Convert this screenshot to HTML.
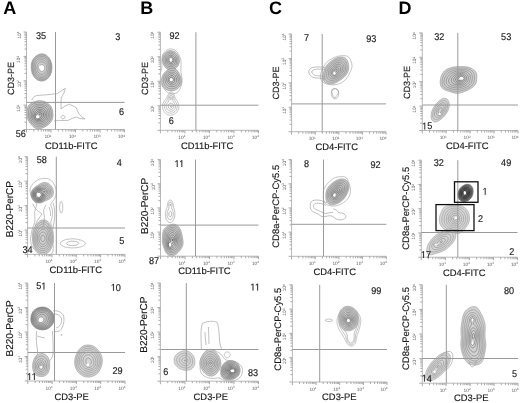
<!DOCTYPE html>
<html><head><meta charset="utf-8"><title>Figure</title>
<style>html,body{margin:0;padding:0;background:#fff;}svg{display:block;}text{font-family:"Liberation Sans",sans-serif;text-rendering:geometricPrecision;}</style>
</head><body>
<svg width="520" height="403" viewBox="0 0 520 403" font-family="Liberation Sans, sans-serif"><defs><filter id="gb" filterUnits="userSpaceOnUse" x="0" y="0" width="520" height="403"><feGaussianBlur stdDeviation="0.4"/></filter></defs><rect width="520" height="403" fill="#fff"/><g filter="url(#gb)"><text x="3.20" y="14.00" font-size="18" text-anchor="start" fill="#000" font-weight="bold" >A</text>
<text x="140.20" y="14.00" font-size="18" text-anchor="start" fill="#000" font-weight="bold" >B</text>
<text x="269.00" y="14.00" font-size="18" text-anchor="start" fill="#000" font-weight="bold" >C</text>
<text x="398.60" y="14.00" font-size="18" text-anchor="start" fill="#000" font-weight="bold" >D</text>
<defs><filter id="bl" x="-5%" y="-5%" width="110%" height="110%"><feGaussianBlur stdDeviation="0.25"/></filter></defs>
<g filter="url(#bl)">
<path d="M42 81L41.2 81L40.5 81L39.8 80.8L39 80.6L38.2 80.3L37.6 80L36.8 79.5L36.1 79L35.6 78.5L35 78L34.5 77.4L34 76.8L33.5 76L33.1 75.2L32.8 74.6L32.4 73.8L32.1 73L31.9 72.2L31.8 71.5L31.6 70.8L31.5 70L31.4 69.2L31.3 68.5L31.3 67.8L31.3 67L31.3 66.2L31.3 65.5L31.4 64.8L31.4 64L31.6 63.2L31.7 62.5L32 61.8L32.2 61L32.6 60.2L33 59.5L33.5 58.8L34 58.1L34.5 57.5L35 57L35.5 56.5L36.1 56L36.8 55.6L37.5 55.1L38.2 54.8L39 54.4L39.8 54.1L40.5 54L41.2 53.9L42 53.8L42.8 53.9L43.5 54L44.2 54.2L45 54.5L45.8 54.9L46.5 55.4L47.2 56L47.8 56.5L48.5 57.2L49 57.9L49.4 58.5L49.9 59.2L50.2 60L50.6 60.8L50.9 61.5L51.1 62.2L51.4 63L51.5 63.8L51.7 64.5L51.8 65.2L51.8 66L51.9 66.8L51.9 67.5L51.9 68.2L51.8 69L51.8 69.8L51.7 70.5L51.5 71.2L51.4 72L51.2 72.8L50.9 73.5L50.6 74.2L50.3 75L49.9 75.8L49.4 76.5L48.8 77.2L48.2 77.9L47.8 78.4L47.1 79L46.5 79.4L45.8 79.9L45 80.2L44.2 80.6L43.5 80.8L42.8 80.9Z" fill="rgb(205,205,205)" stroke="rgb(120,120,120)" stroke-width="0.6"/>
<path d="M42 80L41.2 80L40.5 79.9L39.8 79.8L39 79.6L38.3 79.2L37.5 78.8L36.8 78.3L36.1 77.8L35.6 77.2L35 76.5L34.5 75.8L34.1 75.2L33.8 74.6L33.3 73.8L33.1 73L32.8 72.2L32.6 71.5L32.5 70.8L32.3 70L32.3 69.2L32.2 68.5L32.1 67.8L32.1 67L32.1 66.2L32.2 65.5L32.2 64.8L32.3 64L32.5 63.2L32.7 62.5L32.9 61.8L33.2 61L33.6 60.2L34.1 59.5L34.7 58.8L35.2 58.1L35.9 57.5L36.5 57L37.2 56.5L38 56.1L38.6 55.8L39.5 55.4L40.2 55.2L41 55.1L41.8 55L42.5 55L43.2 55.1L44 55.3L44.8 55.6L45.5 56L46.2 56.5L46.8 57L47.4 57.5L48 58.2L48.5 58.8L48.9 59.5L49.4 60.2L49.8 61L50.1 61.8L50.4 62.5L50.6 63.2L50.7 64L50.9 64.8L51 65.5L51.1 66.2L51.1 67L51.1 67.8L51.1 68.5L51 69.2L50.9 70L50.8 70.8L50.7 71.5L50.5 72.2L50.2 73L49.9 73.8L49.6 74.5L49.2 75.2L48.8 75.9L48.3 76.5L47.8 77.1L47.2 77.6L46.5 78.2L45.8 78.8L45 79.2L44.3 79.5L43.5 79.8L42.8 79.9Z" fill="none" stroke="rgb(121,121,121)" stroke-width="0.6"/>
<path d="M43 78.8L42.2 78.9L41.5 78.9L40.8 78.9L40 78.7L39.3 78.5L38.5 78.1L37.8 77.8L37.2 77.3L36.6 76.8L36 76.1L35.5 75.5L35 74.8L34.6 74L34.2 73.4L33.9 72.5L33.7 71.8L33.5 71.1L33.3 70.2L33.2 69.5L33.1 68.8L33.1 68L33.1 67.2L33.1 66.5L33.1 65.8L33.2 65L33.3 64.2L33.4 63.5L33.7 62.8L33.9 62L34.2 61.4L34.8 60.5L35.2 59.8L35.8 59.3L36.2 58.8L36.8 58.2L37.5 57.8L38.2 57.3L38.9 57L39.8 56.7L40.5 56.5L41.2 56.4L42 56.3L42.8 56.4L43.5 56.6L44.2 56.8L45 57.2L45.8 57.7L46.5 58.2L47 58.8L47.5 59.3L48 59.9L48.5 60.7L48.9 61.5L49.2 62.2L49.5 62.9L49.8 63.7L49.9 64.5L50.1 65.2L50.2 66L50.2 66.8L50.2 67.5L50.2 68.2L50.2 69L50.1 69.8L50 70.5L49.8 71.2L49.6 72L49.3 72.8L49 73.5L48.6 74.2L48.2 74.9L47.8 75.5L47.2 76.2L46.8 76.7L46.1 77.2L45.5 77.7L44.8 78.1L44 78.5L43.2 78.7Z" fill="none" stroke="rgb(123,123,123)" stroke-width="0.6"/>
<path d="M42.8 77.5L42 77.6L41.2 77.7L40.5 77.6L39.8 77.3L39 77L38.2 76.6L37.5 76L37 75.5L36.5 74.9L36 74.3L35.5 73.5L35.2 72.8L34.9 72L34.7 71.2L34.5 70.5L34.3 69.8L34.2 69L34.2 68.2L34.1 67.5L34.1 66.8L34.2 66L34.3 65.2L34.4 64.5L34.6 63.8L34.8 63L35.2 62.2L35.6 61.5L36.2 60.8L36.8 60.1L37.4 59.5L38.2 59L39 58.5L39.7 58.2L40.5 58L41.2 57.9L42 57.9L42.8 58L43.5 58.1L44.2 58.4L44.9 58.8L45.5 59.1L46.2 59.8L46.7 60.2L47.2 60.9L47.7 61.5L48.1 62.2L48.4 63L48.7 63.8L48.9 64.5L49.1 65.2L49.2 66L49.3 66.8L49.3 67.5L49.3 68.2L49.2 69L49.1 69.8L49 70.5L48.8 71.2L48.5 72L48.2 72.7L47.8 73.5L47.4 74.2L46.8 75L46.2 75.6L45.5 76.2L44.8 76.7L44 77.1L43.2 77.4Z" fill="none" stroke="rgb(125,125,125)" stroke-width="0.6"/>
<path d="M42.8 76L42 76.2L41.2 76.2L40.5 76L39.8 75.8L39 75.4L38.2 74.8L37.7 74.2L37.1 73.5L36.6 72.8L36.3 72L36 71.3L35.8 70.5L35.6 69.8L35.5 69L35.4 68.2L35.4 67.5L35.4 66.8L35.5 66L35.6 65.2L35.8 64.5L36.1 63.8L36.4 63L36.9 62.2L37.5 61.6L38.2 61L38.8 60.6L39.5 60.2L40.2 59.9L41 59.7L41.8 59.7L42.5 59.7L43.2 59.9L44 60.1L44.7 60.5L45.4 61L45.9 61.5L46.5 62.2L47 62.9L47.4 63.8L47.7 64.5L47.9 65.2L48.1 66L48.1 66.8L48.2 67.5L48.2 68.2L48.1 69L48 69.8L47.8 70.5L47.6 71.2L47.3 72L46.9 72.8L46.4 73.5L45.8 74.2L45.2 74.8L44.5 75.2L43.8 75.7L43 76.0Z" fill="none" stroke="rgb(126,126,126)" stroke-width="0.6"/>
<path d="M42 74.3L41.2 74.3L40.5 74.1L39.8 73.8L39.1 73.2L38.6 72.8L38.1 72L37.7 71.2L37.4 70.5L37.2 69.8L37 69L36.9 68.2L36.9 67.5L37 66.8L37.1 66L37.3 65.2L37.7 64.5L38.2 63.8L38.8 63.1L39.5 62.5L40.2 62.1L41 61.9L41.8 61.8L42.5 61.8L43.2 62L44 62.3L44.6 62.8L45.2 63.2L45.8 64L46.2 64.8L46.5 65.5L46.7 66.2L46.8 67L46.8 67.8L46.8 68.5L46.7 69.2L46.5 70L46.2 70.8L45.8 71.5L45.3 72.2L44.8 72.9L44 73.5L43.2 73.9L42.5 74.2Z" fill="none" stroke="rgb(128,128,128)" stroke-width="0.6"/>
<path d="M42.5 71.3L41.8 71.4L41 71.3L40.2 70.8L39.8 70.2L39.4 69.5L39.1 68.8L38.9 68L38.9 67.2L39 66.5L39.4 65.8L40 65.3L40.8 64.9L41.5 64.7L42.2 64.7L43 64.9L43.8 65.4L44.2 66L44.5 66.8L44.7 67.5L44.7 68.2L44.5 69L44.3 69.8L43.8 70.5L43.2 71.0Z" fill="#fff" stroke="rgb(130,130,130)" stroke-width="0.6"/>
<ellipse cx="40" cy="67" rx="1.2" ry="1.6" fill="#fff"/>
<path d="M38.8 128.8L38 128.8L37.2 128.7L36.5 128.5L35.8 128.3L35 127.9L34.3 127.5L33.8 127.1L33.1 126.5L32.6 126L32 125.4L31.5 124.8L31 124.2L30.5 123.6L30 123L29.5 122.3L29 121.6L28.5 120.8L28.1 120L27.8 119.2L27.5 118.5L27.3 117.8L27.1 117L27 116.2L26.9 115.5L26.8 114.8L26.8 114L26.8 113.2L26.8 112.5L26.8 111.8L26.9 111L27 110.2L27.1 109.5L27.2 108.8L27.5 108L27.7 107.2L28.1 106.5L28.5 105.8L29 105.1L29.5 104.6L30.2 104L30.8 103.6L31.5 103.1L32.2 102.7L33 102.3L33.7 102L34.4 101.8L35.2 101.5L36 101.3L36.8 101.1L37.5 100.9L38.2 100.8L39 100.8L39.8 100.7L40.5 100.7L41.2 100.8L42 100.9L42.8 101.1L43.5 101.2L44.2 101.5L45 101.8L45.8 102.1L46.5 102.5L47.2 103L48 103.5L48.7 104L49.2 104.5L49.7 105L50.2 105.6L50.8 106.2L51.2 107L51.6 107.8L51.9 108.5L52.2 109.2L52.4 110L52.5 110.8L52.7 111.5L52.8 112.2L52.8 113L52.9 113.8L52.9 114.5L53 115.2L52.9 116L52.9 116.8L52.8 117.5L52.6 118.2L52.4 119L52.1 119.8L51.8 120.5L51.4 121.2L50.9 122L50.3 122.8L49.8 123.3L49.2 123.8L48.5 124.5L47.8 125L47.2 125.4L46.5 125.9L45.8 126.4L45 126.8L44.2 127.2L43.5 127.6L42.8 127.9L42 128.1L41.2 128.4L40.5 128.5L39.8 128.7L39 128.7Z" fill="rgb(200,200,200)" stroke="rgb(135,135,135)" stroke-width="0.6"/>
<path d="M40.5 126.8L39.8 126.9L39 126.9L38.2 126.9L37.5 126.8L36.8 126.7L36 126.4L35.2 126L34.5 125.5L33.8 125L33.2 124.5L32.7 124L32.2 123.5L31.8 122.9L31.2 122.3L30.8 121.6L30.3 121L29.9 120.2L29.5 119.5L29.2 118.8L28.9 118L28.7 117.2L28.6 116.5L28.5 115.8L28.4 115L28.4 114.2L28.4 113.5L28.4 112.8L28.5 112L28.6 111.2L28.7 110.5L28.8 109.8L29 109L29.3 108.2L29.6 107.5L30 106.8L30.4 106.2L31 105.6L31.7 105L32.4 104.5L33 104.1L33.7 103.8L34.5 103.4L35.2 103.2L36 102.9L36.8 102.8L37.5 102.6L38.2 102.5L39 102.5L39.8 102.5L40.5 102.5L41.2 102.6L42 102.7L42.8 102.9L43.5 103.1L44.2 103.3L45 103.6L45.8 104L46.5 104.4L47.1 104.8L47.8 105.2L48.3 105.8L48.8 106.2L49.4 107L49.9 107.8L50.2 108.4L50.6 109.2L50.8 110L51 110.8L51.1 111.5L51.2 112.2L51.3 113L51.3 113.8L51.4 114.5L51.4 115.2L51.3 116L51.3 116.8L51.2 117.5L51 118.2L50.8 119L50.4 119.8L50 120.5L49.6 121.2L49 122L48.5 122.5L47.8 123.2L47.1 123.8L46.5 124.2L45.8 124.7L45 125.1L44.3 125.5L43.5 125.9L42.8 126.2L42 126.4L41.2 126.6Z" fill="none" stroke="rgb(123,123,123)" stroke-width="0.6"/>
<path d="M40.8 125L40 125.1L39.2 125.2L38.5 125.1L37.8 125L37 124.8L36.2 124.6L35.6 124.2L34.8 123.8L34.1 123.2L33.5 122.8L33 122.2L32.5 121.7L32 121.1L31.5 120.3L31 119.5L30.7 118.8L30.4 118L30.2 117.2L30.1 116.5L30 115.8L29.9 115L29.9 114.2L29.9 113.5L30 112.8L30.1 112L30.2 111.2L30.4 110.5L30.6 109.8L30.9 109L31.2 108.4L31.6 107.8L32.2 107L32.7 106.5L33.2 106L34 105.5L34.8 105.1L35.5 104.8L36.2 104.6L37 104.4L37.8 104.3L38.5 104.2L39.2 104.1L40 104.2L40.8 104.2L41.5 104.3L42.2 104.5L43 104.6L43.8 104.9L44.5 105.2L45.2 105.5L46 105.9L46.8 106.5L47.3 107L48 107.7L48.5 108.5L48.9 109.2L49.2 110L49.4 110.8L49.5 111.5L49.7 112.2L49.7 113L49.8 113.8L49.8 114.5L49.8 115.2L49.8 116L49.7 116.8L49.6 117.5L49.4 118.2L49.1 119L48.8 119.7L48.3 120.5L47.8 121.2L47.2 121.7L46.7 122.2L46 122.8L45.3 123.2L44.5 123.7L43.8 124.1L43 124.4L42.2 124.7L41.5 124.9Z" fill="none" stroke="rgb(112,112,112)" stroke-width="0.6"/>
<path d="M39.5 123.5L38.8 123.5L38 123.4L37.3 123.2L36.5 123L35.8 122.6L35.1 122.2L34.5 121.8L33.8 121.2L33.2 120.6L32.8 120L32.3 119.2L32 118.6L31.8 117.9L31.5 117L31.4 116.2L31.3 115.5L31.3 114.8L31.4 114L31.5 113.2L31.6 112.5L31.8 111.8L32 111L32.2 110.4L32.7 109.5L33.1 108.8L33.8 108L34.3 107.5L35 107L35.8 106.6L36.5 106.3L37.2 106.1L38 105.9L38.8 105.8L39.5 105.8L40.2 105.8L41 105.9L41.8 106L42.5 106.2L43.2 106.5L44 106.8L44.8 107.1L45.5 107.6L46.2 108.2L46.8 108.9L47.1 109.5L47.5 110.2L47.8 110.9L48 111.8L48.1 112.5L48.2 113.2L48.3 114L48.3 114.8L48.3 115.5L48.2 116.2L48.1 117L47.9 117.8L47.6 118.5L47.3 119.2L46.8 120L46.2 120.6L45.6 121.2L45 121.7L44.2 122.2L43.6 122.5L42.8 122.9L42 123.1L41.2 123.3L40.5 123.4L39.8 123.5Z" fill="none" stroke="rgb(101,101,101)" stroke-width="0.6"/>
<path d="M40 122L39.2 122L38.5 122L37.8 121.9L37 121.7L36.2 121.4L35.5 121L34.8 120.5L34.3 120L33.8 119.3L33.3 118.5L33 117.8L32.8 117L32.7 116.2L32.6 115.5L32.7 114.8L32.8 114L32.9 113.2L33.1 112.5L33.4 111.8L33.8 111.1L34.2 110.2L34.8 109.6L35.2 109.1L36 108.5L36.8 108.1L37.5 107.8L38.2 107.6L39 107.5L39.8 107.5L40.5 107.5L41.2 107.6L42 107.8L42.8 108.1L43.5 108.4L44.2 108.9L44.9 109.5L45.5 110.2L46 111L46.2 111.7L46.5 112.5L46.6 113.2L46.7 114L46.8 114.8L46.8 115.5L46.7 116.2L46.5 117L46.2 117.7L45.9 118.5L45.4 119.2L44.8 119.9L44 120.5L43.2 121L42.5 121.4L41.8 121.6L41 121.8L40.2 122.0Z" fill="none" stroke="rgb(90,90,90)" stroke-width="0.6"/>
<path d="M40.5 120.5L39.8 120.7L39 120.7L38.2 120.7L37.5 120.6L36.8 120.4L36 120L35.4 119.5L34.8 118.8L34.3 118L34 117.2L33.9 116.5L33.8 115.8L33.9 115L34.1 114.2L34.3 113.5L34.6 112.8L35 112L35.5 111.3L36 110.7L36.8 110.1L37.5 109.6L38.2 109.3L39 109.2L39.8 109.1L40.5 109.2L41.2 109.3L42 109.5L42.8 109.9L43.5 110.5L44 111L44.5 111.8L44.8 112.5L45 113.2L45.2 114L45.2 114.8L45.2 115.5L45 116.2L44.8 117L44.5 117.7L44.1 118.2L43.5 118.9L42.8 119.5L42 120L41.3 120.2L40.6 120.5Z" fill="none" stroke="rgb(78,78,78)" stroke-width="0.6"/>
<path d="M39 119.5L38.2 119.6L37.5 119.5L36.8 119.2L36.1 118.8L35.5 118.1L35.1 117.2L35 116.5L35 115.8L35.1 115L35.4 114.2L35.8 113.6L36.2 112.8L36.7 112.2L37.2 111.8L37.9 111.2L38.8 110.9L39.5 110.7L40.2 110.7L41 110.9L41.8 111.2L42.4 111.8L43 112.5L43.4 113.2L43.6 114L43.6 114.8L43.6 115.5L43.3 116.2L43 117L42.5 117.6L42 118.1L41.2 118.7L40.5 119.1L39.8 119.4Z" fill="none" stroke="rgb(67,67,67)" stroke-width="0.6"/>
<path d="M39 118.3L38.2 118.5L37.5 118.4L36.8 118L36.3 117.5L36 116.8L36 116L36.3 115.2L36.8 114.6L37.2 114L37.8 113.4L38.4 112.8L39.2 112.3L40 112.2L40.8 112.4L41.5 113L41.9 113.8L42 114.5L41.9 115.2L41.6 116L41.1 116.8L40.5 117.3L39.8 117.9L39.1 118.2Z" fill="none" stroke="rgb(56,56,56)" stroke-width="0.6"/>
<path d="M39.8 114.8L39.5 114L40.2 113.8L40.2 114.5ZM38.2 117.4L37.5 117.4L37 116.8L37.2 116L38 115.5L38.8 115.6L38.9 116.5L38.5 117.2Z" fill="#fff" stroke="rgb(45,45,45)" stroke-width="0.6"/>
<ellipse cx="37.7" cy="116.7" rx="1.8" ry="1.8" fill="#fff"/>
<path d="M31.7 100.2C33 97 35 96 37.1 95.5L50 94.5L57.3 93.5L61 91L65.4 88.3L64 93L61.3 97.5L61 103L61 109L65 106L69.4 104.2L73 106L76.1 107.6L78.8 113.6L82 117L84.9 119L80 118.5L76.1 117L72 118.5L68 120.4L63 120.5L58.6 120.4L54 121" fill="none" stroke="rgb(150,150,150)" stroke-width="0.6"/>
<path d="M61 117C61 115 65 115 65 117C65 119.5 61 119.5 61 117Z" fill="none" stroke="rgb(150,150,150)" stroke-width="0.6"/>
<path d="M40.1 203L39.4 203L38.6 203L37.9 202.9L37.1 202.8L36.4 202.5L35.6 202.2L34.9 201.7L34.1 201.2L33.6 200.7L33.1 200.2L32.6 199.5L32.1 198.7L31.7 197.9L31.4 197.2L31.2 196.4L31 195.7L31 194.9L31 194.2L31 193.4L31.2 192.7L31.4 191.9L31.7 191.2L32 190.4L32.5 189.7L33.1 188.9L33.6 188.4L34.3 187.7L34.9 187.2L35.6 186.7L36.3 186.2L37.1 185.7L37.9 185.2L38.6 184.8L39.4 184.3L40.1 183.8L40.7 183.4L41.6 183.1L42.4 182.8L43.1 182.6L43.9 182.5L44.6 182.5L45.4 182.5L46.1 182.6L46.9 182.8L47.6 183.1L48.4 183.4L49.1 183.9L49.9 184.4L50.4 184.9L51.1 185.7L51.6 186.4L52.1 187.2L52.5 187.9L52.8 188.7L53 189.4L53.2 190.2L53.4 190.9L53.5 191.7L53.5 192.4L53.4 193.2L53.3 193.9L53.1 194.7L52.8 195.4L52.4 196.2L51.9 196.9L51.4 197.5L50.6 198.2L49.9 198.7L49.4 199.1L48.7 199.4L47.9 199.8L47.1 200.2L46.4 200.5L45.6 200.8L44.9 201.2L44.1 201.6L43.4 201.9L42.6 202.3L41.9 202.6L41.1 202.8L40.4 202.9Z" fill="rgb(210,210,210)" stroke="rgb(150,150,150)" stroke-width="0.6"/>
<path d="M39.6 202.5L38.9 202.5L38.1 202.4L37.4 202.3L36.6 202.1L35.9 201.7L35.1 201.3L34.4 200.7L33.8 200.2L33.1 199.4L32.6 198.7L32.2 197.9L31.9 197.2L31.7 196.4L31.6 195.7L31.5 194.9L31.5 194.2L31.6 193.4L31.7 192.7L31.9 191.9L32.3 191.2L32.6 190.6L33 189.9L33.6 189.2L34.1 188.7L34.6 188.2L35.3 187.7L36 187.2L36.9 186.7L37.6 186.4L38.4 186L39.1 185.7L39.9 185.3L40.6 185L41.4 184.6L42.1 184.4L42.9 184.1L43.6 184L44.4 183.9L45.1 183.9L45.9 184.1L46.6 184.2L47.4 184.5L48.1 184.9L48.8 185.4L49.4 185.9L50.1 186.7L50.6 187.4L51.1 188.2L51.4 188.9L51.7 189.7L51.9 190.4L52 191.2L52.1 191.9L52 192.7L51.9 193.4L51.7 194.2L51.4 194.9L51 195.7L50.4 196.4L49.9 197L49.1 197.6L48.4 198.1L47.6 198.6L46.9 198.9L46.1 199.4L45.4 199.9L44.6 200.4L43.9 200.9L43.1 201.3L42.4 201.7L41.6 202L40.9 202.2L40.1 202.4Z" fill="none" stroke="rgb(136,136,136)" stroke-width="0.6"/>
<path d="M40.6 201.7L39.9 201.9L39.1 201.9L38.4 201.9L37.6 201.8L36.9 201.6L36.1 201.3L35.4 200.8L34.6 200.3L34 199.7L33.4 198.9L32.9 198.2L32.6 197.5L32.4 196.8L32.1 195.9L32 195.2L32 194.4L32.1 193.7L32.2 192.9L32.4 192.2L32.7 191.4L33.1 190.8L33.5 190.2L34.1 189.5L34.6 189L35.3 188.4L35.9 188.1L36.5 187.7L37.1 187.4L37.9 187.1L38.6 186.8L39.4 186.6L40.1 186.4L40.8 186.2L41.6 186L42.4 185.7L43.1 185.6L43.9 185.5L44.6 185.4L45.4 185.5L46.1 185.7L46.9 185.9L47.6 186.3L48.4 186.9L48.9 187.4L49.5 188.2L49.9 188.9L50.3 189.7L50.5 190.4L50.6 191.2L50.6 191.9L50.6 192.7L50.4 193.4L50.1 194.2L49.7 194.9L49.2 195.7L48.6 196.3L47.9 196.9L47.1 197.4L46.4 197.9L45.9 198.4L45.2 198.9L44.7 199.4L44.1 199.9L43.4 200.4L42.6 200.9L41.9 201.3L41.1 201.6Z" fill="none" stroke="rgb(122,122,122)" stroke-width="0.6"/>
<path d="M40.1 201.2L39.4 201.3L38.6 201.3L37.9 201.3L37.1 201.1L36.4 200.8L35.6 200.3L34.9 199.8L34.4 199.3L33.9 198.7L33.4 197.9L33.1 197.3L32.9 196.6L32.6 195.7L32.6 194.9L32.6 194.2L32.7 193.4L32.9 192.7L33.1 192L33.5 191.2L34 190.4L34.6 189.8L35.3 189.2L36 188.7L36.6 188.3L37.4 188L38.1 187.8L38.9 187.6L39.6 187.4L40.4 187.3L41.1 187.3L41.9 187.2L42.6 187.1L43.4 187L44.1 186.9L44.9 187L45.6 187.1L46.4 187.4L47 187.7L47.6 188.2L48.1 188.7L48.6 189.4L49 190.2L49.2 190.9L49.2 191.7L49.2 192.4L49 193.2L48.7 193.9L48.2 194.7L47.6 195.3L47 195.9L46.4 196.4L45.9 197.1L45.4 197.6L44.9 198.2L44.4 198.7L43.9 199.2L43.3 199.7L42.6 200.2L41.9 200.6L41.1 200.9L40.4 201.2Z" fill="none" stroke="rgb(108,108,108)" stroke-width="0.6"/>
<path d="M39.4 200.7L38.6 200.7L37.9 200.6L37.1 200.4L36.4 200.1L35.7 199.7L35.1 199.2L34.6 198.6L34.1 198L33.7 197.2L33.4 196.4L33.2 195.7L33.2 194.9L33.2 194.2L33.3 193.4L33.5 192.7L33.8 191.9L34.3 191.2L34.9 190.5L35.4 189.9L36 189.4L36.9 189L37.6 188.7L38.3 188.4L39.1 188.3L39.9 188.3L40.6 188.3L41.4 188.3L42.1 188.3L42.9 188.4L43.6 188.4L44.4 188.4L45.1 188.5L45.8 188.7L46.6 189.2L47.1 189.7L47.6 190.4L47.8 191.2L47.8 191.9L47.7 192.7L47.4 193.4L46.9 194.1L46.4 194.7L45.9 195.3L45.4 195.9L44.9 196.7L44.4 197.4L43.9 198.2L43.4 198.7L42.9 199.2L42.2 199.7L41.4 200.2L40.6 200.4L39.9 200.6Z" fill="none" stroke="rgb(95,95,95)" stroke-width="0.6"/>
<path d="M39.9 200L39.1 200.1L38.4 200L37.6 199.9L36.9 199.6L36.2 199.2L35.6 198.8L35.1 198.2L34.6 197.5L34.2 196.7L34 195.9L33.8 195.2L33.8 194.4L33.9 193.7L34.1 193L34.4 192.2L34.9 191.5L35.3 190.9L35.8 190.4L36.5 189.9L37.4 189.5L38.1 189.3L38.9 189.1L39.6 189.1L40.4 189.2L41.1 189.3L41.8 189.4L42.6 189.6L43.4 189.7L44.1 189.8L44.9 189.8L45.6 190.1L46.2 190.7L46.5 191.4L46.4 192.2L46 192.9L45.6 193.5L45.1 194.2L44.7 194.9L44.4 195.7L44.1 196.4L43.6 197.2L43.1 197.9L42.6 198.4L42 198.9L41.4 199.4L40.6 199.8L39.9 199.9Z" fill="none" stroke="rgb(81,81,81)" stroke-width="0.6"/>
<path d="M39.6 199.2L38.9 199.3L38.1 199.2L37.4 199L36.6 198.6L35.9 198L35.4 197.3L35 196.7L34.7 195.9L34.6 195.2L34.6 194.4L34.7 193.7L34.9 192.9L35.3 192.2L35.9 191.5L36.4 190.9L37.1 190.5L37.9 190.2L38.6 190L39.4 190L40.1 190L40.9 190.2L41.6 190.5L42.4 190.9L43.1 191.4L43.9 191.8L44 192.7L43.9 193.4L43.8 194.2L43.6 194.9L43.4 195.7L43.1 196.4L42.7 197.2L42.1 197.9L41.4 198.4L40.6 198.9L39.9 199.2ZM45.1 191.7L44.4 191.7L45.1 191.3Z" fill="none" stroke="rgb(67,67,67)" stroke-width="0.6"/>
<path d="M39.9 198.3L39.1 198.4L38.4 198.3L37.6 198.1L36.9 197.7L36.4 197.2L35.9 196.5L35.6 195.7L35.4 194.9L35.5 194.2L35.7 193.4L36.1 192.7L36.6 192L37.4 191.5L38.1 191.1L38.9 191L39.6 191L40.4 191.2L41.1 191.6L41.8 192.2L42.3 192.9L42.5 193.7L42.6 194.4L42.5 195.2L42.3 195.9L41.9 196.7L41.4 197.4L40.6 197.9Z" fill="none" stroke="rgb(53,53,53)" stroke-width="0.6"/>
<path d="M39.9 197L39.1 197.2L38.4 197.1L37.6 196.7L37.1 196.2L36.7 195.4L36.6 194.7L36.8 193.9L37.1 193.3L37.6 192.8L38.4 192.4L39.1 192.3L39.9 192.4L40.6 192.9L41.1 193.7L41.3 194.4L41.2 195.2L40.9 195.9L40.4 196.6Z" fill="#fff" stroke="rgb(40,40,40)" stroke-width="0.6"/>
<ellipse cx="38.4" cy="194.8" rx="1.8" ry="2" fill="#fff"/>
<path d="M39.2 254.4L38.6 253.9L38.1 253.4L37.6 252.9L37.1 252.4L36.6 251.9L36.1 251.4L35.6 250.8L35.1 250.3L34.6 249.7L34.1 249.2L33.6 248.6L33.1 247.9L32.6 247.2L32.2 246.4L31.9 245.8L31.5 244.9L31.3 244.2L31.1 243.5L30.9 242.7L30.8 241.9L30.7 241.2L30.7 240.4L30.6 239.7L30.6 238.9L30.7 238.2L30.7 237.4L30.8 236.7L30.9 235.9L31 235.2L31.1 234.4L31.3 233.7L31.4 232.9L31.6 232.2L31.7 231.4L31.9 230.7L32.1 229.9L32.3 229.2L32.5 228.4L32.8 227.7L33 226.9L33.3 226.2L33.6 225.5L33.9 224.8L34.1 224.1L34.4 223.3L34.6 222.4L34.7 221.7L34.8 220.9L34.9 220.2L34.9 219.4L34.9 218.7L34.9 217.9L34.8 217.2L34.8 216.4L34.8 215.7L34.7 214.9L34.7 214.2L34.7 213.4L34.7 212.7L34.8 211.9L34.8 211.2L35 210.4L35.1 209.7L35.4 209L35.6 208.3L35.9 207.4L36.3 206.7L36.5 205.9L36.7 205.2L36.6 204.4L36.4 203.7L35.9 202.9L35.4 202.2L34.9 201.5L34.4 200.9L33.9 200.2L33.4 199.4L32.9 198.7L32.4 197.9L32 197.2L31.6 196.4L31.3 195.7L31 194.9L30.7 194.2L30.5 193.4L30.4 192.8L30.2 191.9L30.1 191.2L30.1 190.4L30.1 189.7L30.3 188.9L30.4 188.2L30.7 187.4L31 186.7L31.4 185.9L31.9 185.3L32.3 184.7L32.9 184L33.4 183.4L33.9 182.9L34.6 182.2L35.2 181.7L35.9 181.2L36.6 180.7L37.4 180.3L38 179.9L38.9 179.5L39.6 179.2L40.4 179L41.1 178.8L41.9 178.6L42.6 178.5L43.4 178.4L44.1 178.3L44.9 178.3L45.6 178.4L46.4 178.4L47.1 178.5L47.9 178.7L48.6 178.9L49.4 179.3L50.1 179.7L50.8 180.2L51.4 180.7L51.9 181.2L52.3 181.7L52.9 182.4L53.3 183.2L53.8 183.9L54.2 184.7L54.6 185.4L54.9 186.2L55.3 186.9L55.5 187.7L55.8 188.4L56 189.2L56.1 189.9L56.2 190.7L56.3 191.4L56.3 192.2L56.3 192.9L56.2 193.7L56.1 194.4L56 195.2L55.8 195.9L55.6 196.6L55.3 197.4L54.9 198.2L54.5 198.9L53.9 199.7L53.4 200.4L52.9 201.1L52.4 201.7L51.9 202.3L51.4 202.9L51 203.7L50.8 204.4L50.8 205.2L51 205.9L51.3 206.7L51.6 207.4L51.9 208.1L52.1 208.8L52.3 209.7L52.4 210.4L52.5 211.2L52.6 211.9L52.6 212.7L52.5 213.4L52.5 214.2L52.4 214.9L52.3 215.7L52.2 216.4L52.1 217.2L51.9 217.9L51.7 218.7L51.5 219.4L51.3 220.2L51.1 220.9L50.9 221.7L50.8 222.4L50.8 223.2L51 223.9L51.2 224.7L51.5 225.4L51.8 226.2L52.1 226.9L52.4 227.6L52.6 228.4L52.7 229.2L52.9 229.9L52.9 230.7L53 231.4L53 232.2L53 232.9L53 233.7L53 234.4L53 235.2L53 235.9L53.1 236.7L53.1 237.4L53.1 238.2L53.1 238.9L53.1 239.7L53.2 240.4L53.2 241.2L53.2 241.9L53.2 242.7L53.2 243.4L53.2 244.2L53.2 244.9L53.2 245.7L53.3 246.4L53.3 247.2L53.3 247.9L53.3 248.7L53.2 249.4L53.1 250.2L52.9 250.9L52.7 251.7L52.4 252.4L51.9 253.2L51.4 253.9L50.9 254.4L50.8 254.4" fill="none" stroke="rgb(150,150,150)" stroke-width="0.6"/>
<path d="M41.8 254.4L40.9 254.2L40.1 254L39.4 253.6L38.6 253.1L37.9 252.4L37.4 252L36.9 251.4L36.4 250.8L35.9 250.2L35.4 249.4L34.9 248.7L34.5 247.9L34.1 247.2L33.8 246.4L33.5 245.7L33.3 244.9L33.1 244.2L32.9 243.4L32.8 242.7L32.7 241.9L32.6 241.2L32.6 240.4L32.5 239.7L32.5 238.9L32.4 238.2L32.4 237.4L32.4 236.7L32.4 235.9L32.4 235.2L32.5 234.4L32.6 233.7L32.6 232.9L32.8 232.2L32.9 231.4L33.1 230.7L33.3 229.9L33.6 229.2L33.9 228.4L34.3 227.7L34.7 226.9L35.1 226.3L35.5 225.7L36 224.9L36.6 224.2L37.1 223.6L37.6 223L38.1 222.5L38.7 221.9L39.3 221.4L40 220.9L40.9 220.5L41.6 220.2L42.4 220.1L43.1 220L43.9 220L44.6 220.1L45.4 220.2L46.1 220.5L46.9 220.9L47.6 221.4L48.1 221.9L48.6 222.5L49.1 223.2L49.5 223.9L49.9 224.7L50.3 225.4L50.6 226.2L50.9 226.9L51.1 227.5L51.3 228.2L51.6 228.9L51.9 229.6L52.1 230.4L52.4 231.2L52.6 231.9L52.8 232.7L52.9 233.4L53.1 234.2L53.2 234.9L53.2 235.7L53.3 236.4L53.3 237.2L53.3 237.9L53.3 238.7L53.2 239.4L53.1 240.2L53.1 240.9L53 241.7L52.9 242.4L52.7 243.2L52.6 243.9L52.4 244.7L52.3 245.4L52.1 246.2L51.8 246.9L51.6 247.7L51.2 248.4L50.9 249.2L50.4 249.9L49.9 250.7L49.4 251.4L48.9 251.9L48.2 252.4L47.6 252.9L46.9 253.4L46.2 253.7L45.4 254.1L44.6 254.3L43.9 254.4L43.8 254.4" fill="rgb(210,210,210)" stroke="rgb(140,140,140)" stroke-width="0.6"/>
<path d="M44.1 252.5L43.4 252.6L42.6 252.6L41.9 252.5L41.1 252.4L40.4 252.1L39.6 251.7L38.9 251.2L38.3 250.7L37.7 250.2L37.1 249.5L36.6 248.8L36.2 248.2L35.7 247.4L35.4 246.8L35 245.9L34.7 245.2L34.4 244.4L34.2 243.7L34.1 242.9L33.9 242.2L33.8 241.4L33.7 240.7L33.7 239.9L33.6 239.2L33.6 238.4L33.6 237.7L33.6 236.9L33.6 236.2L33.6 235.4L33.7 234.7L33.8 233.9L33.9 233.2L34 232.4L34.2 231.7L34.5 230.9L34.7 230.2L35.1 229.4L35.4 228.7L35.8 227.9L36.3 227.2L36.8 226.4L37.3 225.7L37.9 225L38.3 224.4L38.9 223.9L39.6 223.2L40.3 222.7L41.1 222.2L41.9 222L42.6 221.8L43.4 221.7L44.1 221.8L44.8 221.9L45.5 222.2L46.1 222.5L46.9 223.1L47.4 223.6L47.9 224.2L48.4 224.9L48.8 225.7L49.2 226.4L49.5 227.2L49.9 227.9L50.2 228.7L50.5 229.4L50.8 230.2L51 230.9L51.3 231.7L51.5 232.4L51.7 233.2L51.8 233.9L52 234.7L52.1 235.4L52.1 236.2L52.2 236.9L52.2 237.7L52.2 238.4L52.1 239.2L52.1 239.9L52 240.7L51.9 241.4L51.7 242.2L51.6 242.9L51.4 243.7L51.2 244.4L51 245.2L50.8 245.9L50.5 246.7L50.2 247.4L49.8 248.2L49.4 248.9L48.9 249.4L48.4 250.1L47.7 250.7L47.1 251.2L46.4 251.7L45.6 252L44.9 252.3Z" fill="none" stroke="rgb(135,135,135)" stroke-width="0.6"/>
<path d="M42.9 250.7L42.1 250.6L41.4 250.5L40.6 250.2L39.9 249.8L39.1 249.3L38.4 248.7L37.9 248.1L37.4 247.4L36.9 246.7L36.4 245.9L36.1 245.3L35.8 244.4L35.5 243.7L35.3 242.9L35.2 242.2L35 241.4L34.9 240.7L34.9 239.9L34.8 239.2L34.8 238.4L34.8 237.7L34.8 236.9L34.8 236.2L34.9 235.4L35 234.7L35.1 233.9L35.3 233.2L35.5 232.4L35.7 231.7L36 230.9L36.4 230.3L36.8 229.4L37.2 228.7L37.7 227.9L38.2 227.2L38.8 226.4L39.4 225.9L39.9 225.4L40.6 224.8L41.4 224.3L42.1 224L42.9 223.8L43.6 223.8L44.4 224L45.1 224.3L45.8 224.7L46.3 225.2L46.9 225.8L47.4 226.4L47.9 227.2L48.3 227.9L48.6 228.6L49 229.4L49.3 230.2L49.6 230.9L49.9 231.7L50.2 232.4L50.4 233.2L50.6 233.9L50.7 234.7L50.9 235.4L51 236.2L51 236.9L51 237.7L51 238.4L51 239.2L50.9 239.9L50.8 240.7L50.7 241.4L50.5 242.2L50.4 242.9L50.1 243.7L49.9 244.4L49.6 245.2L49.3 245.9L48.9 246.7L48.4 247.4L47.9 248.2L47.4 248.8L46.6 249.4L45.9 249.9L45.2 250.2L44.5 250.4L43.9 250.6L43.1 250.7Z" fill="none" stroke="rgb(130,130,130)" stroke-width="0.6"/>
<path d="M43.4 248.7L42.6 248.7L41.9 248.6L41.1 248.4L40.4 248L39.6 247.5L39 246.9L38.4 246.2L37.9 245.5L37.4 244.7L37 243.9L36.8 243.2L36.6 242.4L36.4 241.7L36.2 240.9L36.1 240.2L36.1 239.4L36 238.7L36 237.9L36 237.2L36.1 236.4L36.2 235.7L36.3 234.9L36.4 234.2L36.7 233.4L36.9 232.7L37.3 231.9L37.6 231.3L38.1 230.5L38.6 229.7L39.1 229.1L39.6 228.5L40.1 227.9L40.6 227.4L41.3 226.9L42.1 226.6L42.9 226.4L43.6 226.4L44.4 226.6L45 226.9L45.7 227.4L46.4 228.2L46.9 228.8L47.3 229.4L47.7 230.2L48.1 230.9L48.4 231.7L48.7 232.4L49 233.2L49.2 233.9L49.4 234.7L49.6 235.4L49.7 236.2L49.7 236.9L49.8 237.7L49.8 238.4L49.8 239.2L49.7 239.9L49.6 240.7L49.4 241.4L49.2 242.2L49 242.9L48.7 243.7L48.4 244.4L48.1 245.1L47.7 245.7L47.2 246.4L46.6 247.1L45.9 247.7L45.1 248.2L44.4 248.5L43.6 248.7Z" fill="none" stroke="rgb(125,125,125)" stroke-width="0.6"/>
<path d="M44.1 246.5L43.4 246.6L42.6 246.7L41.9 246.5L41.1 246.3L40.4 245.8L39.7 245.2L39.1 244.5L38.6 243.7L38.2 242.9L38 242.2L37.7 241.4L37.6 240.8L37.5 239.9L37.4 239.2L37.4 238.4L37.4 237.7L37.4 236.9L37.5 236.2L37.6 235.4L37.8 234.7L38.1 233.9L38.4 233.2L38.8 232.4L39.4 231.7L39.9 231.1L40.4 230.6L41.1 229.9L41.9 229.5L42.6 229.3L43.4 229.2L44.1 229.4L44.9 229.8L45.6 230.4L46.1 231.1L46.5 231.7L47 232.4L47.3 233.2L47.6 233.9L47.9 234.6L48.1 235.4L48.2 236.2L48.4 236.9L48.4 237.7L48.4 238.4L48.4 239.2L48.3 239.9L48.2 240.7L48 241.4L47.8 242.2L47.5 242.9L47.1 243.7L46.6 244.4L46.1 245.1L45.5 245.7L44.9 246.1L44.1 246.4Z" fill="none" stroke="rgb(120,120,120)" stroke-width="0.6"/>
<path d="M43.9 244.2L43.1 244.4L42.4 244.4L41.6 244.1L40.9 243.7L40.4 243.2L39.9 242.4L39.5 241.7L39.3 240.9L39.1 240.2L38.9 239.4L38.9 238.7L38.9 237.9L38.9 237.2L39 236.4L39.2 235.7L39.5 234.9L39.9 234.3L40.4 233.5L40.9 233L41.6 232.4L42.4 232.1L43.1 232L43.8 232.2L44.6 232.7L45.1 233.2L45.6 233.8L46 234.4L46.3 235.2L46.5 235.9L46.7 236.7L46.8 237.4L46.9 238.2L46.9 238.9L46.8 239.7L46.7 240.4L46.5 241.2L46.1 241.9L45.7 242.7L45.1 243.4L44.4 243.9Z" fill="none" stroke="rgb(115,115,115)" stroke-width="0.6"/>
<path d="M43.4 241.5L42.6 241.6L41.9 241.2L41.4 240.5L41 239.7L40.9 239L40.8 238.2L40.9 237.4L41.1 236.7L41.5 235.9L42.1 235.3L42.9 235.1L43.6 235.3L44.3 235.9L44.7 236.7L44.9 237.4L45 238.2L45 238.9L44.8 239.7L44.5 240.4L43.9 241.2Z" fill="none" stroke="rgb(110,110,110)" stroke-width="0.6"/>
<path d="M61.4 213L60.7 212.7L60.3 211.9L60.1 211.3L59.9 210.4L59.8 209.7L59.7 208.9L59.7 208.2L59.6 207.4L59.6 206.7L59.7 205.9L59.7 205.2L59.8 204.4L60 203.7L60.2 202.9L60.5 202.2L61.1 201.5L61.8 201.9L62.1 202.7L62.3 203.4L62.5 204.2L62.6 204.9L62.7 205.7L62.7 206.4L62.7 207.2L62.7 207.9L62.7 208.7L62.6 209.4L62.5 210.2L62.3 210.9L62.1 211.7L61.9 212.4Z" fill="none" stroke="rgb(150,150,150)" stroke-width="0.6"/>
<path d="M75.6 247.7L74.8 247.8L74.1 247.8L73.3 247.9L72.6 247.9L71.8 247.9L71.1 247.9L70.3 247.8L69.6 247.7L68.8 247.7L68.1 247.6L67.4 247.4L66.6 247.3L65.8 247.1L65.1 247L64.3 246.7L63.6 246.5L62.9 246.2L62.1 245.8L61.4 245.3L60.8 244.7L60.4 243.9L60.4 243.2L60.7 242.4L61.4 241.7L62.1 241.2L62.9 240.7L63.6 240.4L64.3 240.1L65.1 239.8L65.8 239.6L66.6 239.4L67.3 239.3L68.1 239.2L68.8 239.1L69.6 239L70.3 238.9L71.1 238.9L71.8 238.8L72.6 238.8L73.3 238.8L74.1 238.9L74.8 238.9L75.6 239L76.3 239.1L77.1 239.2L77.8 239.3L78.6 239.5L79.3 239.7L80.1 239.9L80.8 240.1L81.6 240.4L82.3 240.7L83.1 241.1L83.8 241.4L84.3 241.9L84.8 242.4L85.3 243.2L85.3 243.9L84.8 244.7L84.3 245.2L83.6 245.7L82.8 246.1L82.1 246.4L81.3 246.7L80.6 246.9L79.8 247.1L79.1 247.3L78.3 247.4L77.6 247.5L76.8 247.6L76.1 247.7Z" fill="none" stroke="rgb(150,150,150)" stroke-width="0.6"/>
<path d="M74.1 245.5L73.3 245.5L72.6 245.6L71.8 245.6L71.1 245.5L70.3 245.4L69.6 245.3L68.8 245.2L68.2 244.9L67.3 244.6L66.6 243.9L66.4 243.2L66.8 242.6L67.6 242.1L68.3 241.8L69.1 241.6L69.8 241.4L70.6 241.3L71.3 241.2L72.1 241.2L72.8 241.2L73.6 241.2L74.3 241.3L75.1 241.4L75.8 241.5L76.6 241.7L77.3 242L78.1 242.4L78.6 242.9L78.7 243.7L78.1 244.3L77.4 244.7L76.7 244.9L75.8 245.2L75.1 245.3L74.3 245.4Z" fill="none" stroke="rgb(140,140,140)" stroke-width="0.6"/>
<path d="M33 204C35 210 40 212 42 214C40 217 37 220 35 226" fill="none" stroke="rgb(150,150,150)" stroke-width="0.6"/>
<path d="M46 205C44 208 43 211 44 214C45 218 44 222 43 226" fill="none" stroke="rgb(150,150,150)" stroke-width="0.6"/>
<path d="M53 203C55 208 55 214 54.5 219C54 222 53.5 225 53 228" fill="none" stroke="rgb(150,150,150)" stroke-width="0.6"/>
<path d="M49 207C50 210 51 213 50.5 216" fill="none" stroke="rgb(150,150,150)" stroke-width="0.6"/>
<path d="M43.5 329.8L42.8 329.8L42 329.8L41.3 329.7L40.5 329.7L39.8 329.5L39 329.3L38.3 329.1L37.5 328.9L36.8 328.5L36 328.1L35.4 327.8L34.8 327.3L34.2 326.8L33.7 326.2L33 325.6L32.5 324.9L32.2 324.2L31.8 323.5L31.5 322.8L31.2 322L31.1 321.2L30.9 320.5L30.9 319.8L30.9 319L30.9 318.2L31 317.5L31.1 316.8L31.2 316L31.4 315.2L31.6 314.5L31.9 313.8L32.3 313L32.7 312.2L33 311.6L33.5 311L34 310.4L34.8 309.8L35.4 309.2L36 308.9L36.7 308.5L37.5 308.1L38.3 307.8L39 307.6L39.8 307.4L40.5 307.3L41.3 307.2L42 307.1L42.8 307.1L43.5 307.2L44.2 307.2L45 307.4L45.8 307.6L46.5 307.9L47.3 308.2L48 308.6L48.7 309L49.3 309.4L50 310L50.6 310.5L51.1 311L51.8 311.7L52.3 312.4L52.8 313L53.2 313.8L53.5 314.4L53.9 315.2L54.1 316L54.2 316.8L54.3 317.5L54.3 318.2L54.3 319L54.2 319.8L54 320.5L53.8 321.2L53.6 322L53.3 322.7L52.9 323.5L52.5 324.2L52 324.9L51.5 325.6L51 326.2L50.5 326.7L50 327.2L49.4 327.8L48.6 328.2L47.8 328.7L47.1 329L46.3 329.2L45.5 329.5L44.8 329.6L44 329.7Z" fill="rgb(200,200,200)" stroke="rgb(90,90,90)" stroke-width="0.6"/>
<path d="M43.3 329L42.5 329L41.8 329L41 328.9L40.3 328.8L39.5 328.7L38.8 328.5L38 328.2L37.3 327.9L36.6 327.5L35.8 327L35.1 326.5L34.6 326L34 325.5L33.5 324.9L33.1 324.2L32.7 323.5L32.3 322.8L32.1 322L31.9 321.2L31.7 320.5L31.7 319.8L31.6 319L31.7 318.2L31.7 317.5L31.9 316.8L32 316L32.2 315.2L32.5 314.5L32.8 313.8L33.1 313L33.5 312.3L34 311.6L34.5 311L35.1 310.5L35.7 310L36.5 309.5L37.3 309.1L38 308.8L38.7 308.5L39.5 308.3L40.3 308.1L41 308L41.8 307.9L42.5 307.9L43.3 307.9L44 308L44.8 308.2L45.5 308.4L46.3 308.7L47 309L47.8 309.4L48.5 309.9L49.3 310.5L49.9 311L50.4 311.5L51 312.2L51.5 312.8L52 313.5L52.5 314.2L52.8 315L53 315.8L53.2 316.5L53.3 317.2L53.4 318L53.4 318.8L53.3 319.5L53.1 320.2L52.9 321L52.7 321.8L52.4 322.5L52 323.2L51.6 324L51.1 324.8L50.5 325.4L50 326L49.5 326.5L48.9 327L48.3 327.4L47.5 327.9L46.8 328.2L46 328.5L45.3 328.7L44.5 328.9L43.8 329.0Z" fill="none" stroke="rgb(92,92,92)" stroke-width="0.6"/>
<path d="M44.3 328L43.5 328.1L42.8 328.2L42 328.2L41.3 328.1L40.5 328L39.8 327.9L39 327.7L38.3 327.4L37.5 327.1L36.8 326.6L36 326.1L35.3 325.5L34.8 325L34.3 324.4L33.8 323.8L33.4 323L33.1 322.2L32.8 321.5L32.6 320.8L32.5 320L32.5 319.2L32.5 318.5L32.5 317.8L32.7 317L32.8 316.3L33 315.5L33.3 314.8L33.5 314.1L34 313.2L34.4 312.5L35 311.8L35.5 311.3L36.2 310.8L36.8 310.3L37.5 309.9L38.3 309.6L39 309.3L39.8 309.1L40.5 308.9L41.3 308.8L42 308.8L42.8 308.8L43.5 308.9L44.3 309L45 309.2L45.8 309.4L46.5 309.7L47.3 310.1L48 310.6L48.8 311.2L49.4 311.8L50 312.4L50.5 313L51 313.8L51.5 314.5L51.8 315.2L52 316L52.2 316.8L52.3 317.5L52.3 318.2L52.3 319L52.2 319.8L52 320.5L51.8 321.2L51.5 322L51.1 322.8L50.8 323.4L50.4 324L49.8 324.8L49.3 325.4L48.8 325.9L48 326.5L47.3 327L46.5 327.4L45.8 327.7L45 327.9Z" fill="none" stroke="rgb(95,95,95)" stroke-width="0.6"/>
<path d="M43 327.3L42.3 327.3L41.5 327.3L40.8 327.2L40 327L39.3 326.8L38.5 326.5L37.8 326.2L37.1 325.8L36.4 325.2L35.8 324.8L35.3 324.2L34.8 323.5L34.3 322.8L33.9 322L33.7 321.2L33.5 320.5L33.4 319.8L33.4 319L33.4 318.2L33.5 317.5L33.6 316.8L33.8 316.1L34 315.3L34.4 314.5L34.8 313.8L35.3 313L35.8 312.4L36.5 311.8L37.2 311.2L37.8 310.9L38.5 310.5L39.3 310.3L40 310L40.8 309.9L41.5 309.8L42.3 309.8L43 309.8L43.8 309.9L44.5 310.1L45.3 310.3L46 310.6L46.8 311L47.5 311.5L48.2 312L48.7 312.5L49.3 313.2L49.7 313.8L50.2 314.5L50.5 315.2L50.9 316L51 316.8L51.2 317.5L51.2 318.2L51.1 319L51 319.8L50.9 320.5L50.6 321.2L50.3 322L49.9 322.8L49.4 323.5L48.9 324.2L48.3 324.9L47.6 325.5L46.9 326L46.3 326.4L45.5 326.7L44.8 327L44 327.1L43.3 327.2Z" fill="none" stroke="rgb(98,98,98)" stroke-width="0.6"/>
<path d="M42.8 326.3L42 326.3L41.3 326.2L40.5 326.1L39.8 326L39.1 325.8L38.3 325.4L37.6 325L37 324.6L36.4 324L35.8 323.3L35.3 322.5L34.9 321.8L34.6 321L34.5 320.2L34.4 319.5L34.4 318.8L34.4 318L34.6 317.2L34.7 316.5L35 315.8L35.3 315.1L35.8 314.2L36.3 313.5L36.8 313L37.4 312.5L38 312.1L38.8 311.7L39.5 311.4L40.3 311.2L41 311L41.8 310.9L42.5 310.9L43.3 311L44 311.1L44.8 311.3L45.5 311.7L46.2 312L46.8 312.4L47.5 313L48 313.6L48.5 314.2L49 315L49.4 315.8L49.7 316.5L49.8 317.2L49.9 318L49.9 318.8L49.8 319.5L49.6 320.2L49.3 321L49 321.7L48.6 322.5L48.1 323.2L47.5 323.9L47 324.4L46.3 325L45.5 325.5L44.8 325.8L44 326L43.3 326.2Z" fill="none" stroke="rgb(101,101,101)" stroke-width="0.6"/>
<path d="M43 325L42.3 325.2L41.5 325.2L40.8 325.1L40.1 325L39.3 324.8L38.5 324.4L37.9 324L37.3 323.5L36.8 323L36.3 322.2L35.9 321.5L35.7 320.8L35.5 320L35.5 319.2L35.5 318.5L35.6 317.8L35.9 317L36.1 316.2L36.5 315.5L37 314.8L37.5 314.2L38.3 313.6L39 313.1L39.8 312.8L40.5 312.6L41.3 312.4L42 312.4L42.8 312.4L43.5 312.5L44.3 312.7L45 313L45.8 313.5L46.5 314L47 314.6L47.5 315.2L47.9 316L48.1 316.8L48.3 317.5L48.3 318.2L48.3 319L48.2 319.8L47.9 320.5L47.6 321.2L47.3 321.9L46.9 322.5L46.3 323.2L45.7 323.8L45 324.2L44.3 324.6L43.5 324.9Z" fill="none" stroke="rgb(104,104,104)" stroke-width="0.6"/>
<path d="M42.5 323.8L41.8 324L41 324L40.3 323.9L39.5 323.7L38.8 323.3L38.1 322.8L37.5 322.1L37.2 321.5L36.9 320.8L36.7 320L36.7 319.2L36.8 318.5L37 317.8L37.4 317L38 316.2L38.5 315.6L39.3 315.1L39.9 314.8L40.6 314.5L41.5 314.3L42.3 314.3L43 314.4L43.8 314.6L44.5 315L45.2 315.5L45.8 316.2L46.1 317L46.3 317.7L46.4 318.5L46.3 319.2L46.2 320L45.9 320.8L45.5 321.4L45 322.1L44.5 322.7L43.8 323.2L43 323.6Z" fill="none" stroke="rgb(107,107,107)" stroke-width="0.6"/>
<path d="M41 322.5L40.3 322.4L39.5 322.1L38.8 321.5L38.4 320.8L38.2 320L38.3 319.3L38.5 318.6L39 318L39.5 317.5L40.3 317.1L41 317L41.8 317L42.5 317.2L43.2 317.8L43.6 318.5L43.8 319.2L43.8 320L43.5 320.7L43.1 321.5L42.5 322L41.8 322.4Z" fill="#fff" stroke="rgb(110,110,110)" stroke-width="0.6"/>
<ellipse cx="40.6" cy="320.3" rx="1.8" ry="1.8" fill="#fff"/>
<path d="M42 376.5L41.3 376.5L40.5 376.5L39.8 376.4L39 376.3L38.3 376.1L37.5 375.8L36.8 375.5L36 375L35.4 374.5L34.8 373.9L34.3 373.2L33.9 372.5L33.5 371.8L33.3 371.1L33 370.3L32.9 369.5L32.7 368.8L32.6 368L32.6 367.2L32.6 366.5L32.6 365.8L32.6 365L32.7 364.2L32.8 363.5L32.9 362.8L33 362L33.3 361.2L33.5 360.5L33.8 359.8L34.1 359L34.5 358.2L35 357.5L35.5 356.8L36 356.2L36.5 355.7L37.3 355.1L38 354.6L38.7 354.2L39.5 353.9L40.3 353.8L41 353.6L41.8 353.6L42.5 353.6L43.3 353.8L44 354L44.8 354.2L45.5 354.7L46.3 355.2L46.9 355.8L47.5 356.5L48 357.2L48.3 357.9L48.6 358.8L48.9 359.5L49.1 360.2L49.3 361L49.4 361.8L49.5 362.5L49.6 363.2L49.7 364L49.7 364.8L49.7 365.5L49.7 366.2L49.7 367L49.6 367.8L49.5 368.5L49.4 369.2L49.2 370L49 370.8L48.7 371.5L48.4 372.2L48 372.9L47.5 373.7L47.1 374.2L46.5 374.8L45.9 375.2L45 375.7L44.3 376.1L43.5 376.3L42.8 376.4Z" fill="rgb(208,208,208)" stroke="rgb(145,145,145)" stroke-width="0.6"/>
<path d="M42.5 374.8L41.8 374.9L41 374.9L40.3 374.8L39.5 374.7L38.8 374.5L38.1 374.2L37.3 373.8L36.5 373.3L36 372.8L35.5 372.2L35.1 371.5L34.8 370.8L34.5 370L34.3 369.2L34.1 368.5L34 367.8L34 367L33.9 366.2L34 365.5L34 364.8L34.1 364L34.3 363.2L34.5 362.5L34.7 361.8L35 361L35.4 360.2L35.8 359.6L36.2 359L36.8 358.3L37.3 357.8L38 357.2L38.8 356.8L39.5 356.5L40.3 356.2L41 356.1L41.8 356.1L42.5 356.2L43.3 356.4L44 356.7L44.8 357.2L45.5 357.8L46 358.4L46.5 359L46.9 359.8L47.2 360.5L47.5 361.2L47.7 362L47.9 362.8L48 363.5L48.1 364.2L48.1 365L48.1 365.8L48.1 366.5L48.1 367.2L48 368L47.9 368.8L47.7 369.5L47.5 370.2L47.2 371L46.8 371.8L46.3 372.5L45.8 373.1L45 373.7L44.3 374.2L43.6 374.5L42.8 374.7Z" fill="none" stroke="rgb(136,136,136)" stroke-width="0.6"/>
<path d="M42.3 373.1L41.5 373.2L40.8 373.2L40 373.1L39.3 372.9L38.5 372.6L37.8 372.1L37.1 371.5L36.5 370.8L36.1 370L35.8 369.2L35.6 368.5L35.5 367.8L35.4 367L35.4 366.2L35.4 365.5L35.5 364.8L35.6 364L35.8 363.2L36.1 362.5L36.5 361.8L37 361L37.5 360.4L38.2 359.8L39 359.2L39.8 358.9L40.5 358.7L41.3 358.7L42 358.8L42.8 359L43.5 359.3L44.3 359.9L44.8 360.4L45.3 361.1L45.7 362L46 362.8L46.2 363.5L46.4 364.2L46.5 365L46.5 365.8L46.5 366.5L46.5 367.2L46.4 368L46.3 368.8L46 369.4L45.7 370.2L45.3 371L44.8 371.6L44.1 372.2L43.3 372.7L42.5 373.0Z" fill="none" stroke="rgb(127,127,127)" stroke-width="0.6"/>
<path d="M41.8 371.3L41 371.4L40.3 371.3L39.5 371.1L38.9 370.8L38.3 370.2L37.8 369.6L37.4 369L37.1 368.2L36.9 367.5L36.9 366.8L36.8 366L36.9 365.2L37.1 364.5L37.3 363.8L37.7 363L38.3 362.2L38.8 361.8L39.5 361.2L40.2 361L41 360.9L41.8 361L42.5 361.2L43.2 361.8L43.8 362.4L44.2 363L44.5 363.8L44.8 364.5L44.9 365.2L45 366L45 366.8L44.9 367.5L44.7 368.2L44.4 369L44 369.7L43.6 370.2L43 370.7L42.3 371.1Z" fill="none" stroke="rgb(118,118,118)" stroke-width="0.6"/>
<path d="M41.3 369.3L40.5 369.3L39.8 369L39.2 368.5L38.8 367.8L38.5 367.2L38.4 366.2L38.5 365.5L38.7 364.8L39 364L39.5 363.4L40.1 363L41 362.8L41.8 363L42.4 363.5L43 364.2L43.2 365L43.4 365.8L43.4 366.5L43.2 367.2L43 368L42.5 368.6L41.8 369.1Z" fill="none" stroke="rgb(109,109,109)" stroke-width="0.6"/>
<path d="M41.3 366.8L40.5 366.8L40.1 366L40.2 365.2L40.8 364.6L41.5 364.9L41.8 365.8L41.6 366.5Z" fill="none" stroke="rgb(100,100,100)" stroke-width="0.6"/>
<ellipse cx="41.2" cy="367" rx="1.2" ry="1.5" fill="#fff"/>
<path d="M89.3 377L88.5 377.1L87.8 377.1L87 377.1L86.3 377L85.5 376.8L84.8 376.6L84 376.3L83.3 376L82.5 375.7L81.8 375.2L81.1 374.8L80.4 374.2L79.8 373.8L79.2 373.2L78.7 372.8L78.1 372L77.5 371.3L77 370.6L76.6 369.8L76.2 369L75.9 368.2L75.6 367.5L75.4 366.8L75.2 366L75 365.2L74.9 364.5L74.8 363.8L74.7 363L74.7 362.2L74.7 361.5L74.7 360.8L74.8 360L74.9 359.2L75 358.5L75.2 357.8L75.4 357L75.7 356.2L75.9 355.5L76.2 354.8L76.5 354L76.9 353.2L77.2 352.5L77.5 351.9L77.9 351.2L78.3 350.6L78.7 350L79.3 349.3L79.8 348.7L80.3 348.2L81 347.5L81.8 347L82.5 346.5L83.3 346.1L84 345.8L84.8 345.5L85.5 345.3L86.3 345.1L87 345L87.8 345L88.5 345L89.3 345L90 345.1L90.8 345.3L91.5 345.5L92.3 345.7L93 346L93.8 346.4L94.5 346.8L95.1 347.2L95.8 347.8L96.4 348.2L96.9 348.8L97.5 349.5L98 350L98.5 350.7L99 351.2L99.5 352L100 352.8L100.5 353.5L100.8 354.2L101.2 355L101.5 355.8L101.7 356.5L101.9 357.2L102.1 358L102.2 358.8L102.3 359.5L102.3 360.2L102.3 361L102.3 361.8L102.2 362.5L102.1 363.2L101.9 364L101.8 364.8L101.6 365.5L101.3 366.2L101.1 367L100.8 367.7L100.5 368.5L100.1 369.2L99.8 369.9L99.4 370.8L98.9 371.5L98.3 372.2L97.8 372.9L97.3 373.4L96.6 374L96 374.5L95.3 374.9L94.5 375.4L93.8 375.7L93 376L92.3 376.3L91.5 376.6L90.8 376.8L90 376.9Z" fill="rgb(214,214,214)" stroke="rgb(140,140,140)" stroke-width="0.6"/>
<path d="M89.5 375L88.8 375.1L88 375.2L87.3 375.2L86.5 375.1L85.8 375L85 374.8L84.3 374.5L83.6 374.2L82.8 373.8L82 373.4L81.3 372.9L80.6 372.2L80 371.8L79.3 371L78.8 370.3L78.4 369.8L77.9 369L77.5 368.3L77.2 367.5L76.9 366.8L76.7 366L76.5 365.2L76.3 364.5L76.2 363.8L76.1 363L76.1 362.2L76.1 361.5L76.1 360.8L76.2 360L76.3 359.2L76.5 358.5L76.7 357.8L76.9 357L77.1 356.2L77.4 355.5L77.7 354.8L78 354L78.4 353.2L78.8 352.5L79.3 351.8L79.8 351L80.3 350.3L80.8 349.8L81.4 349.2L82 348.8L82.5 348.3L83.3 347.8L84 347.5L84.8 347.1L85.5 346.9L86.3 346.7L87 346.6L87.8 346.5L88.5 346.5L89.3 346.6L90 346.7L90.8 346.9L91.5 347.2L92.3 347.5L93 347.8L93.7 348.2L94.4 348.8L95 349.2L95.6 349.8L96.1 350.2L96.8 351L97.3 351.6L97.8 352.2L98.3 352.9L98.8 353.7L99.2 354.5L99.5 355.1L99.9 356L100.2 356.8L100.4 357.5L100.6 358.2L100.7 359L100.8 359.8L100.9 360.5L100.9 361.2L100.8 362L100.7 362.8L100.6 363.5L100.4 364.2L100.2 365L100 365.8L99.7 366.5L99.5 367.2L99.1 368L98.8 368.7L98.3 369.5L97.8 370.2L97.3 370.9L96.8 371.5L96.3 372L95.7 372.5L95 372.9L94.3 373.4L93.5 373.7L92.8 374.1L92 374.3L91.3 374.6L90.5 374.8L89.8 375.0Z" fill="none" stroke="rgb(137,137,137)" stroke-width="0.6"/>
<path d="M89.8 373L89 373.1L88.3 373.2L87.5 373.2L86.8 373.2L86 373.1L85.3 372.9L84.5 372.6L83.8 372.2L83 371.8L82.3 371.3L81.6 370.8L81.1 370.2L80.5 369.7L80 369.1L79.6 368.5L79.2 367.8L78.8 367.1L78.4 366.2L78.2 365.5L77.9 364.8L77.8 364L77.7 363.2L77.6 362.5L77.6 361.8L77.6 361L77.7 360.2L77.8 359.5L77.9 358.8L78.1 358L78.3 357.3L78.5 356.6L78.8 355.9L79.1 355.2L79.4 354.5L79.8 353.8L80.2 353L80.7 352.2L81.3 351.6L81.8 351L82.3 350.5L83 350L83.5 349.6L84.3 349.2L85 348.8L85.8 348.6L86.5 348.4L87.3 348.3L88 348.2L88.8 348.3L89.5 348.4L90.3 348.5L91 348.8L91.8 349.1L92.5 349.5L93.2 350L93.9 350.5L94.5 351L95 351.5L95.5 352.1L96 352.7L96.5 353.4L97 354L97.5 354.8L97.9 355.5L98.2 356.2L98.5 357L98.8 357.8L99 358.5L99.1 359.2L99.2 360L99.3 360.8L99.3 361.5L99.3 362.2L99.2 363L99 363.8L98.9 364.5L98.6 365.2L98.4 366L98.1 366.8L97.7 367.5L97.3 368.2L96.8 369L96.3 369.6L95.8 370.1L95.1 370.8L94.4 371.2L93.5 371.7L92.8 372.1L92 372.4L91.3 372.6L90.5 372.8L89.8 373.0Z" fill="none" stroke="rgb(135,135,135)" stroke-width="0.6"/>
<path d="M88.5 371.3L87.8 371.3L87 371.2L86.3 371L85.5 370.8L84.9 370.5L84 370.1L83.3 369.5L82.6 369L82.1 368.5L81.5 367.9L81.1 367.2L80.6 366.5L80.2 365.8L79.8 365L79.6 364.2L79.4 363.5L79.3 362.8L79.2 362L79.2 361.2L79.2 360.5L79.3 359.8L79.4 359L79.6 358.2L79.9 357.5L80.1 356.8L80.4 356L80.8 355.3L81.2 354.5L81.7 353.8L82.3 353L82.8 352.4L83.5 351.8L84.2 351.2L85 350.8L85.7 350.5L86.5 350.3L87.3 350.1L88 350.1L88.8 350.1L89.5 350.3L90.3 350.5L91 350.8L91.8 351.2L92.5 351.7L93.2 352.2L93.7 352.8L94.3 353.4L94.8 354L95.3 354.6L95.7 355.2L96.2 356L96.5 356.8L96.9 357.5L97.1 358.2L97.3 359L97.5 359.8L97.6 360.5L97.7 361.2L97.7 362L97.6 362.8L97.5 363.5L97.3 364.2L97.1 365L96.8 365.8L96.5 366.5L96.1 367.2L95.5 368L95.1 368.5L94.6 369L93.9 369.5L93.3 369.9L92.6 370.2L91.8 370.6L91 370.8L90.3 371L89.5 371.2L88.8 371.2Z" fill="none" stroke="rgb(132,132,132)" stroke-width="0.6"/>
<path d="M89.8 369.3L89 369.3L88.3 369.3L87.5 369.2L86.8 369.1L86 368.8L85.3 368.4L84.7 368L84.1 367.5L83.5 367L83.1 366.5L82.5 365.8L82.1 365.2L81.8 364.6L81.4 363.8L81.2 363L81 362.2L81 361.5L81 360.8L81 360L81.2 359.2L81.3 358.5L81.6 357.8L81.9 357L82.3 356.2L82.7 355.5L83.3 354.8L83.8 354.1L84.5 353.5L85.2 353L86 352.6L86.8 352.4L87.5 352.2L88.3 352.2L89 352.3L89.8 352.5L90.5 352.8L91.3 353.2L91.9 353.8L92.5 354.2L93 354.8L93.5 355.4L94 356.1L94.4 356.8L94.8 357.5L95.2 358.2L95.4 359L95.6 359.8L95.8 360.5L95.9 361.2L95.9 362L95.9 362.8L95.8 363.5L95.6 364.2L95.3 365L95 365.8L94.5 366.5L94 367.1L93.5 367.6L92.8 368.2L92 368.6L91.3 368.9L90.5 369.1Z" fill="none" stroke="rgb(130,130,130)" stroke-width="0.6"/>
<path d="M90 367.3L89.3 367.4L88.5 367.4L87.8 367.3L87 367.1L86.4 366.8L85.8 366.3L85.2 365.8L84.5 365L84 364.3L83.6 363.5L83.3 362.8L83.1 362L83 361.3L83 360.5L83.1 359.8L83.3 359L83.5 358.3L83.9 357.5L84.4 356.8L85 356.1L85.7 355.5L86.5 355L87.3 354.8L88 354.7L88.8 354.8L89.5 355L90.3 355.4L91 355.9L91.6 356.5L92.3 357.2L92.7 358L93.1 358.8L93.4 359.5L93.7 360.2L93.8 361L93.9 361.8L93.9 362.5L93.8 363.2L93.6 364L93.3 364.8L92.8 365.5L92.3 366.1L91.5 366.6L90.8 367L90.1 367.2Z" fill="none" stroke="rgb(127,127,127)" stroke-width="0.6"/>
<path d="M89 365.3L88.3 365.5L87.5 365.3L87 364.8L86.6 364L86.2 363.2L86 362.5L85.8 361.8L85.7 361L85.8 360.3L86 359.6L86.5 358.8L87.3 358.3L88 358.1L88.8 358.1L89.5 358.5L90.2 359L90.8 359.8L91.1 360.5L91.3 361.2L91.4 362L91.3 362.8L91 363.5L90.5 364.2L89.9 364.8L89.3 365.1Z" fill="none" stroke="rgb(125,125,125)" stroke-width="0.6"/>
<ellipse cx="87.9" cy="364.8" rx="1.5" ry="1.5" fill="#fff"/>
<path d="M36.5 331C36 338 36.5 345 37.5 350C38 353 37 356 35 359" fill="none" stroke="rgb(150,150,150)" stroke-width="0.6"/>
<path d="M52.5 331C53 340 53.5 348 53 354C52.5 358 50 360 49 362" fill="none" stroke="rgb(150,150,150)" stroke-width="0.6"/>
<path d="M37 336C40 337 43 337.5 45 338" fill="none" stroke="rgb(150,150,150)" stroke-width="0.6"/>
<path d="M53 311C57 310 62 312 63.7 316C64.5 321 63.5 327 60 330.5C58 332 55.5 332 53.5 331" fill="none" stroke="rgb(150,150,150)" stroke-width="0.6"/>
<path d="M55 314C58 314 61 316 61.5 319C62 323 60 327 56 328" fill="none" stroke="rgb(150,150,150)" stroke-width="0.6"/>
<path d="M61 335C61 334.3 62 334.3 62 335C62 335.7 61 335.7 61 335Z" fill="none" stroke="rgb(150,150,150)" stroke-width="0.6"/>
<path d="M160.4 73.6L160.6 72.7L160.7 72L160.9 71.2L161.2 70.5L161.4 69.7L161.6 69L161.7 68.2L161.8 67.5L161.9 66.7L161.9 66L161.9 65.2L161.9 64.5L161.9 63.7L161.9 63L161.8 62.2L161.8 61.5L161.8 60.7L161.8 60L161.8 59.2L161.9 58.5L162 57.7L162.1 57L162.3 56.2L162.5 55.5L162.8 54.7L163.2 54L163.6 53.2L164.2 52.5L164.6 52L165.2 51.4L165.9 50.7L166.6 50.2L167.4 49.7L168.2 49.4L168.9 49.1L169.7 49L170.4 48.9L171.2 48.9L171.9 49L172.7 49.1L173.4 49.4L174.1 49.7L174.9 50.2L175.6 50.7L176.2 51.2L176.8 51.7L177.4 52.4L177.9 53.1L178.3 53.7L178.8 54.5L179.2 55.2L179.5 56L179.8 56.7L180.1 57.5L180.3 58.2L180.5 59L180.7 59.7L180.8 60.5L180.9 61.2L181 62L181 62.7L181.1 63.5L181.1 64.2L181.1 65L181 65.7L181 66.5L180.9 67.2L180.9 68L180.8 68.7L180.8 69.5L180.8 70.2L180.9 71L180.9 71.7L181 72.5L181.1 73.2L181.2 74L181.4 74.7L181.5 75.5L181.6 76.2L181.8 77L181.9 77.7L182 78.5L182.1 79.2L182.1 80L182.1 80.7L182.1 81.5L182 82.2L181.9 83L181.7 83.7L181.5 84.5L181.3 85.2L181.1 86L180.8 86.7L180.6 87.5L180.3 88.2L179.9 89L179.5 89.7L179.2 90.3L178.7 91L178.2 91.6L177.5 92.2L176.7 92.7L175.9 93.1L175.2 93.4L174.4 93.6L173.7 93.7L172.9 93.8L172.2 93.8L171.4 93.7L170.7 93.6L170 93.5L169.2 93.2L168.4 92.9L167.7 92.5L166.9 92L166.3 91.5L165.7 90.8L165.2 90.2L164.7 89.5L164.2 89L163.7 88.2L163.2 87.5L162.7 86.7L162.2 86L161.7 85.2L161.3 84.5L161 83.7L160.7 83L160.5 82.2L160.4 81.5L160.4 81.4" fill="none" stroke="rgb(150,150,150)" stroke-width="0.6"/>
<path d="M172.9 88.2L172.2 88.3L171.4 88.2L170.7 88L169.9 87.7L169.2 87.3L168.4 86.7L167.8 86.2L167.3 85.7L166.7 85L166.2 84.3L165.7 83.5L165.2 82.7L164.9 82L164.7 81.2L164.6 80.5L164.5 79.7L164.4 79L164.5 78.2L164.5 77.5L164.6 76.7L164.8 76L165 75.2L165.3 74.5L165.7 73.7L166.1 73L166.6 72.2L167.2 71.5L167.7 70.8L168 70.2L168.2 69.5L168 68.7L167.7 68.1L167.2 67.5L166.7 66.7L166.3 66L166 65.2L165.7 64.5L165.4 63.7L165.3 63L165.1 62.2L165.1 61.5L165 60.7L165.1 60L165.1 59.2L165.3 58.5L165.5 57.7L165.8 57L166.2 56.2L166.7 55.5L167.1 55L167.7 54.5L168.4 54L169.2 53.6L169.9 53.4L170.7 53.3L171.4 53.3L172.1 53.5L172.9 53.7L173.7 54.1L174.4 54.6L175.1 55.2L175.7 55.8L176.1 56.5L176.5 57.2L176.9 57.9L177.2 58.6L177.4 59.5L177.5 60.2L177.6 61L177.7 61.7L177.6 62.5L177.6 63.2L177.4 63.9L177.2 64.7L176.8 65.5L176.4 66.2L175.9 67L175.4 67.6L174.9 68.3L174.5 69L174.4 69.7L174.7 70.4L175.1 71.2L175.7 71.9L176.1 72.7L176.6 73.5L176.9 74.1L177.3 75L177.6 75.7L177.8 76.5L178 77.2L178.1 78L178.2 78.7L178.3 79.5L178.3 80.2L178.2 81L178.1 81.7L177.9 82.5L177.7 83.2L177.4 83.9L177 84.7L176.7 85.3L176.2 86L175.7 86.6L175.1 87.2L174.4 87.7L173.7 88.0Z" fill="none" stroke="rgb(140,140,140)" stroke-width="0.6"/>
<path d="M172.7 69.7L171.9 69.8L171.2 69.9L170.4 69.8L169.7 69.7L168.9 69.5L168.2 69.3L167.5 69L166.7 68.5L166 68L165.4 67.5L164.9 66.8L164.4 66.2L164 65.5L163.7 64.8L163.3 64L163 63.2L162.8 62.5L162.7 61.7L162.5 61L162.4 60.2L162.4 59.5L162.5 58.7L162.6 58L162.7 57.2L162.9 56.5L163.2 55.7L163.6 55L164.1 54.2L164.7 53.5L165.1 53L165.7 52.5L166.3 52L167.2 51.5L167.9 51.1L168.7 50.9L169.4 50.7L170.2 50.6L170.9 50.6L171.6 50.7L172.4 50.9L173.2 51.1L173.9 51.4L174.7 51.8L175.4 52.3L176.2 52.9L176.7 53.4L177.1 54L177.7 54.7L178.1 55.5L178.4 56.1L178.7 57L179 57.7L179.2 58.4L179.3 59.2L179.4 60L179.4 60.7L179.4 61.5L179.3 62.2L179.2 62.9L178.9 63.7L178.7 64.4L178.3 65.2L177.9 65.9L177.5 66.5L176.9 67.2L176.4 67.7L175.9 68.2L175.2 68.7L174.4 69.1L173.7 69.5L172.9 69.7Z" fill="rgb(205,205,205)" stroke="rgb(130,130,130)" stroke-width="0.6"/>
<path d="M172.2 68.2L171.4 68.3L170.7 68.3L169.9 68.2L169.2 68L168.4 67.7L167.7 67.3L166.9 66.8L166.3 66.2L165.7 65.5L165.2 64.7L164.8 64L164.5 63.2L164.2 62.5L164 61.7L163.9 61L163.8 60.2L163.8 59.5L163.9 58.7L164 58L164.2 57.2L164.5 56.5L164.9 55.7L165.3 55L165.9 54.3L166.4 53.8L167.1 53.2L167.9 52.8L168.6 52.5L169.4 52.2L170.2 52.1L170.9 52.1L171.7 52.2L172.4 52.4L173.1 52.7L173.9 53.1L174.7 53.6L175.3 54.2L175.9 54.8L176.4 55.4L176.9 56.2L177.3 57L177.5 57.7L177.8 58.5L177.9 59.2L178 60L178.1 60.7L178 61.5L177.9 62.2L177.8 63L177.5 63.7L177.2 64.4L176.7 65.2L176.2 65.9L175.7 66.4L175.1 67L174.4 67.4L173.7 67.8L172.9 68.1Z" fill="none" stroke="rgb(117,117,117)" stroke-width="0.6"/>
<path d="M171.7 66.7L170.9 66.8L170.2 66.7L169.4 66.5L168.7 66.2L167.9 65.7L167.3 65.2L166.7 64.5L166.2 63.7L165.8 63L165.6 62.2L165.4 61.5L165.3 60.7L165.2 60L165.2 59.2L165.4 58.5L165.6 57.7L165.8 57L166.3 56.2L166.8 55.5L167.3 55L167.9 54.5L168.7 54.1L169.4 53.8L170.1 53.7L170.9 53.7L171.7 53.8L172.4 54L173.2 54.4L173.9 54.8L174.6 55.5L175.2 56.1L175.6 56.7L176 57.5L176.3 58.2L176.5 59L176.7 59.7L176.7 60.5L176.7 61.2L176.6 62L176.4 62.7L176.1 63.5L175.7 64.2L175.2 64.9L174.7 65.4L173.9 65.9L173.2 66.3L172.4 66.6Z" fill="none" stroke="rgb(105,105,105)" stroke-width="0.6"/>
<path d="M171.4 65.2L170.7 65.2L169.9 65.1L169.2 64.7L168.4 64.2L167.9 63.7L167.4 63L167 62.2L166.7 61.5L166.6 60.7L166.6 60L166.6 59.2L166.8 58.5L167.1 57.7L167.5 57L168.2 56.2L168.9 55.7L169.7 55.4L170.4 55.2L171.2 55.2L171.9 55.4L172.6 55.7L173.4 56.2L173.9 56.7L174.4 57.3L174.8 58L175.1 58.7L175.3 59.5L175.4 60.2L175.4 61L175.3 61.7L175 62.5L174.7 63.2L174.2 63.8L173.5 64.5L172.7 64.9L171.9 65.1Z" fill="none" stroke="rgb(92,92,92)" stroke-width="0.6"/>
<path d="M171.2 63.7L170.4 63.6L169.7 63.4L168.9 62.8L168.5 62.2L168.1 61.5L167.9 60.7L167.9 60L168 59.2L168.2 58.5L168.7 57.8L169.2 57.3L169.9 56.8L170.7 56.7L171.4 56.7L172.2 57L172.8 57.5L173.4 58.2L173.8 59L174 59.7L174.1 60.5L174 61.2L173.7 62L173.2 62.7L172.7 63.2L171.9 63.6Z" fill="none" stroke="rgb(80,80,80)" stroke-width="0.6"/>
<path d="M171.4 62.2L170.7 62.2L170 62L169.5 61.5L169.2 60.7L169.1 60L169.3 59.2L169.8 58.5L170.7 58.1L171.4 58.1L172.2 58.6L172.6 59.2L172.8 60L172.8 60.7L172.5 61.5L171.9 62.0Z" fill="none" stroke="rgb(67,67,67)" stroke-width="0.6"/>
<path d="M171.4 60.8L170.7 60.9L170.2 60.2L170.5 59.5L171.4 59.5L171.7 60.2Z" fill="none" stroke="rgb(55,55,55)" stroke-width="0.6"/>
<ellipse cx="170.9" cy="59.9" rx="1.5" ry="1.8" fill="#fff"/>
<path d="M172.9 90.7L172.2 90.8L171.4 90.9L170.7 90.9L169.9 90.8L169.2 90.7L168.4 90.5L167.7 90.2L167 90L166.2 89.5L165.4 89L164.8 88.5L164.3 88L163.7 87.2L163.2 86.5L162.8 85.7L162.5 85L162.2 84.2L162 83.5L161.8 82.7L161.7 82L161.6 81.2L161.6 80.5L161.6 79.7L161.6 79L161.8 78.2L161.9 77.5L162.2 76.7L162.5 76L162.8 75.2L163.2 74.5L163.7 73.8L164.1 73.2L164.7 72.5L165.2 72L165.7 71.5L166.3 71L166.9 70.5L167.7 70L168.4 69.6L169.2 69.3L169.9 69L170.7 68.8L171.4 68.7L172.2 68.6L172.9 68.7L173.7 68.7L174.4 68.9L175.2 69.2L175.9 69.6L176.7 70.1L177.3 70.7L177.9 71.4L178.3 72L178.8 72.7L179.2 73.5L179.6 74.2L179.9 74.9L180.2 75.7L180.5 76.5L180.7 77.2L180.9 78L181.1 78.7L181.3 79.5L181.3 80.2L181.4 81L181.4 81.7L181.3 82.5L181.2 83.2L181 84L180.7 84.7L180.4 85.4L179.9 86.2L179.4 86.9L178.9 87.5L178.4 87.9L177.8 88.5L177.2 88.9L176.4 89.4L175.7 89.8L174.9 90.1L174.2 90.4L173.4 90.6Z" fill="rgb(205,205,205)" stroke="rgb(130,130,130)" stroke-width="0.6"/>
<path d="M172.7 88.7L171.9 88.8L171.2 88.8L170.4 88.8L169.7 88.7L168.9 88.5L168.2 88.2L167.4 87.8L166.7 87.3L166 86.7L165.4 86L165 85.5L164.5 84.7L164.2 84L163.8 83.2L163.6 82.5L163.4 81.7L163.3 81L163.2 80.2L163.3 79.5L163.3 78.7L163.5 78L163.7 77.2L164 76.5L164.3 75.7L164.7 75.1L165 74.5L165.6 73.7L166.2 73.1L166.9 72.5L167.5 72L168.2 71.5L168.8 71.2L169.7 70.8L170.4 70.6L171.2 70.5L171.9 70.4L172.7 70.4L173.4 70.5L174.2 70.7L174.9 71L175.6 71.5L176.3 72L176.7 72.5L177.3 73.2L177.8 74L178.2 74.6L178.5 75.2L178.8 76L179.1 76.7L179.3 77.5L179.5 78.2L179.7 79L179.8 79.7L179.9 80.5L179.9 81.2L179.9 82L179.8 82.7L179.6 83.5L179.3 84.2L178.9 84.8L178.5 85.5L177.9 86.1L177.2 86.7L176.7 87.1L175.9 87.6L175.2 88L174.4 88.3L173.7 88.5L172.9 88.7Z" fill="none" stroke="rgb(116,116,116)" stroke-width="0.6"/>
<path d="M172.9 86.7L172.2 86.8L171.4 86.8L170.7 86.7L169.9 86.6L169.2 86.3L168.4 86L167.7 85.5L167.2 85L166.7 84.4L166.2 83.7L165.8 83L165.4 82.2L165.2 81.5L165.1 80.7L165 80L165 79.2L165.1 78.5L165.2 77.7L165.5 77L165.8 76.2L166.2 75.6L166.6 75L167.2 74.3L167.8 73.7L168.4 73.2L169.2 72.8L169.9 72.5L170.7 72.2L171.4 72.1L172.2 72.1L172.9 72.2L173.7 72.4L174.4 72.7L175.1 73.2L175.6 73.7L176.2 74.3L176.6 75L177 75.7L177.4 76.5L177.6 77.2L177.9 78L178.1 78.7L178.2 79.5L178.3 80.2L178.3 81L178.3 81.7L178.1 82.5L177.8 83.2L177.4 84L176.9 84.6L176.2 85.2L175.7 85.6L174.9 86.1L174.2 86.4L173.4 86.6Z" fill="none" stroke="rgb(103,103,103)" stroke-width="0.6"/>
<path d="M171.7 85L170.9 84.9L170.2 84.7L169.4 84.3L168.7 83.8L168 83.2L167.5 82.5L167.2 81.8L166.9 81.1L166.7 80.2L166.6 79.5L166.7 78.7L166.8 78L167 77.2L167.4 76.5L167.9 75.8L168.4 75.2L169 74.7L169.7 74.3L170.4 74L171.2 73.9L171.9 73.8L172.7 73.9L173.4 74.2L174.2 74.7L174.7 75.2L175.3 76L175.7 76.7L176.1 77.5L176.3 78.2L176.5 79L176.6 79.7L176.6 80.5L176.5 81.2L176.3 82L175.9 82.7L175.4 83.4L174.8 84L174.2 84.3L173.4 84.7L172.7 84.9L171.9 84.9Z" fill="none" stroke="rgb(90,90,90)" stroke-width="0.6"/>
<path d="M171.9 83.2L171.2 83.2L170.4 83L169.7 82.6L169 82L168.5 81.2L168.3 80.5L168.2 79.7L168.2 79L168.3 78.2L168.6 77.5L169.1 76.7L169.6 76.2L170.4 75.8L171.2 75.6L171.9 75.6L172.7 75.8L173.3 76.2L173.8 76.7L174.3 77.5L174.6 78.2L174.8 79L174.9 79.7L174.8 80.5L174.6 81.2L174.2 81.9L173.7 82.5L172.9 83L172.2 83.2Z" fill="none" stroke="rgb(76,76,76)" stroke-width="0.6"/>
<path d="M171.7 81.7L170.9 81.7L170.2 81.2L169.7 80.5L169.5 79.7L169.5 79L169.8 78.2L170.4 77.6L171.2 77.3L171.9 77.4L172.7 77.9L173.1 78.7L173.3 79.5L173.2 80.2L172.9 80.9L172.4 81.4Z" fill="none" stroke="rgb(63,63,63)" stroke-width="0.6"/>
<path d="M171.7 80.3L170.9 80.3L170.6 79.5L171.2 78.8L171.8 79.2L171.9 80.0Z" fill="none" stroke="rgb(50,50,50)" stroke-width="0.6"/>
<ellipse cx="171.2" cy="79.7" rx="1.6" ry="1.8" fill="#fff"/>
<path d="M172.2 115L171.4 115.1L170.7 115.2L169.9 115.2L169.2 115.1L168.4 114.9L167.7 114.6L166.9 114.3L166.2 113.8L165.5 113.2L164.9 112.7L164.4 112.1L164 111.5L163.5 110.7L163.2 110L162.9 109.2L162.7 108.5L162.5 107.7L162.5 107L162.5 106.2L162.5 105.5L162.7 104.7L162.9 104L163.1 103.2L163.5 102.5L163.9 101.7L164.4 101L164.9 100.2L165.4 99.6L165.9 99L166.4 98.2L166.8 97.5L167.1 96.7L167.4 96L167.8 95.2L168.2 94.5L168.6 93.7L169.2 93.1L169.9 92.5L170.7 92.1L171.4 92.1L172.2 92.3L172.9 92.9L173.4 93.5L173.8 94.2L174.2 94.8L174.5 95.7L174.8 96.5L175 97.2L175.3 98L175.6 98.7L176.1 99.5L176.6 100.2L177.1 101L177.6 101.7L177.9 102.3L178.3 103.2L178.5 104L178.7 104.7L178.8 105.5L178.9 106.2L178.9 107L178.8 107.7L178.7 108.5L178.5 109.2L178.2 110L177.8 110.7L177.4 111.3L176.9 112L176.4 112.6L175.7 113.2L175.2 113.6L174.4 114.1L173.8 114.5L172.9 114.8Z" fill="none" stroke="rgb(160,160,160)" stroke-width="0.6"/>
<path d="M172.4 113L171.7 113.1L170.9 113.2L170.2 113.2L169.4 113L168.7 112.8L167.9 112.5L167.2 112L166.5 111.5L165.9 110.8L165.4 110.1L165.1 109.5L164.7 108.7L164.5 108L164.4 107.2L164.3 106.5L164.4 105.7L164.5 105L164.7 104.2L165 103.5L165.3 102.7L165.8 102L166.3 101.2L166.8 100.5L167.3 99.7L167.6 99L167.9 98.2L168.1 97.5L168.3 96.7L168.6 96L169 95.2L169.6 94.5L170.2 94L170.9 93.7L171.7 93.8L172.3 94.2L172.9 95L173.3 95.7L173.5 96.5L173.7 97.2L173.9 98L174.1 98.7L174.3 99.5L174.6 100.2L175 101L175.4 101.5L175.8 102.2L176.3 103L176.6 103.7L176.9 104.5L177.1 105.2L177.2 105.9L177.2 106.7L177.1 107.5L177 108.2L176.7 109L176.4 109.6L175.9 110.5L175.4 111.1L174.9 111.6L174.2 112.1L173.4 112.6L172.7 112.9Z" fill="none" stroke="rgb(153,153,153)" stroke-width="0.6"/>
<path d="M172.4 111L171.7 111.1L170.9 111.2L170.2 111.1L169.4 110.9L168.7 110.5L167.9 110L167.4 109.5L166.9 108.7L166.5 108L166.3 107.2L166.2 106.5L166.3 105.7L166.4 105L166.6 104.2L167 103.5L167.4 102.9L167.9 102.2L168.4 101.5L168.8 100.7L168.9 100L169 99.2L169 98.5L169.2 97.7L169.4 97L169.7 96.2L170.2 95.6L170.9 95.3L171.6 95.5L172.1 96L172.5 96.7L172.7 97.5L172.8 98.2L172.8 99L172.8 99.7L172.9 100.5L173.1 101.2L173.4 101.8L173.9 102.5L174.4 103.2L174.9 104L175.2 104.6L175.4 105.5L175.5 106.2L175.5 107L175.3 107.7L175.1 108.5L174.7 109.2L174.2 109.8L173.4 110.5L172.7 110.9Z" fill="none" stroke="rgb(147,147,147)" stroke-width="0.6"/>
<path d="M171.2 99.7L170.5 99.5L170.2 98.7L170.2 98L170.4 97.2L171.2 96.8L171.7 97.4L171.8 98.2L171.7 99L171.2 99.7ZM171.4 109.2L170.7 109.2L169.9 109L169.2 108.5L168.7 107.8L168.3 107L168.2 106.2L168.3 105.5L168.6 104.7L169.2 104L169.9 103.5L170.7 103.2L171.4 103.3L172.2 103.6L172.9 104.2L173.4 104.9L173.7 105.7L173.8 106.5L173.7 107.2L173.4 107.9L172.9 108.5L172.3 109L171.7 109.2Z" fill="none" stroke="rgb(141,141,141)" stroke-width="0.6"/>
<path d="M171.7 107.2L170.9 107.3L170.4 106.8L170.5 106L171.2 105.5L171.9 105.9L172.1 106.7Z" fill="none" stroke="rgb(135,135,135)" stroke-width="0.6"/>
<path d="M171 222.4L170.2 222.6L169.5 222.5L168.8 222.3L168.1 221.8L167.5 221.3L167 220.7L166.5 219.8L166.2 219.1L165.9 218.3L165.8 217.6L165.6 216.8L165.5 216.1L165.4 215.3L165.4 214.6L165.4 213.8L165.5 213.1L165.5 212.3L165.7 211.6L165.8 210.8L166 210.1L166.3 209.3L166.5 208.6L166.8 207.8L167 207.1L167.2 206.3L167.3 205.6L167.5 204.8L167.6 204.1L167.8 203.4L168 202.6L168.2 201.9L168.7 201.1L169.2 200.5L169.9 200.1L170.8 200.1L171.5 200.5L172 201.1L172.4 201.8L172.7 202.6L172.9 203.3L173 204.1L173.2 204.8L173.2 205.5L173.4 206.3L173.5 207.1L173.7 207.8L174 208.6L174.2 209.3L174.4 210.1L174.6 210.8L174.7 211.6L174.8 212.3L174.9 213.1L174.9 213.8L174.9 214.6L174.8 215.3L174.7 216.1L174.6 216.8L174.4 217.6L174.2 218.3L173.9 219.1L173.5 219.8L173.1 220.6L172.5 221.3L171.9 221.8L171.2 222.3Z" fill="none" stroke="rgb(150,150,150)" stroke-width="0.6"/>
<path d="M170.5 219.7L169.8 219.7L169 219.4L168.4 218.8L168 218.2L167.7 217.6L167.4 216.8L167.2 216.1L167.1 215.3L167.1 214.6L167.1 213.8L167.2 213.1L167.3 212.3L167.5 211.6L167.7 210.8L168.1 210.1L168.4 209.3L168.7 208.6L168.9 207.8L168.8 207.1L168.8 206.3L168.7 205.6L168.7 204.8L168.8 204.1L169 203.3L169.4 202.6L170 202.1L170.8 202.1L171.2 202.6L171.6 203.3L171.8 204.1L171.9 204.8L171.9 205.6L171.8 206.3L171.8 207.1L171.7 207.8L171.8 208.6L172.1 209.3L172.5 210.1L172.8 210.8L173 211.6L173.2 212.3L173.3 213.1L173.3 213.8L173.3 214.6L173.2 215.3L173.1 216.1L172.9 216.8L172.6 217.6L172.2 218.2L171.8 218.8L171.2 219.3Z" fill="none" stroke="rgb(145,145,145)" stroke-width="0.6"/>
<path d="M170.2 205.9L169.8 205.1L170 204.3L170.7 204.6L170.7 205.3ZM170.5 216.7L169.8 216.6L169.3 216.1L168.9 215.3L168.8 214.6L168.8 213.8L168.9 213.1L169.2 212.3L169.8 211.6L170.5 211.5L171.2 212.1L171.6 212.8L171.7 213.6L171.7 214.3L171.6 215.1L171.4 215.8L170.8 216.6Z" fill="none" stroke="rgb(140,140,140)" stroke-width="0.6"/>
<path d="M172.8 256.1L172 256.3L171.2 256.3L170.5 256.2L169.8 256L169 255.6L168.2 255.2L167.6 254.6L167.1 254.1L166.5 253.4L166 252.7L165.5 251.8L165.1 251.1L164.8 250.3L164.5 249.6L164.3 248.8L164 248.1L163.8 247.4L163.5 246.6L163.3 245.8L163 245.1L162.8 244.3L162.7 243.6L162.5 242.8L162.4 242.1L162.3 241.3L162.3 240.6L162.3 239.8L162.3 239.1L162.3 238.3L162.4 237.6L162.4 236.8L162.5 236.1L162.5 235.3L162.6 234.6L162.6 233.8L162.7 233.1L162.8 232.3L163 231.6L163.3 230.8L163.6 230.1L164 229.5L164.4 228.8L165 228.2L165.5 227.7L166.2 227.1L166.8 226.7L167.5 226.2L168.2 225.7L169 225.3L169.8 225L170.5 224.7L171.2 224.5L172 224.3L172.8 224.2L173.5 224.2L174.2 224.2L175 224.4L175.8 224.6L176.5 225L177.2 225.5L178 226.1L178.5 226.6L179 227.2L179.4 227.8L179.9 228.6L180.2 229.3L180.6 230.1L180.9 230.8L181.1 231.6L181.4 232.3L181.6 233.1L181.8 233.8L181.9 234.6L182.1 235.3L182.2 236.1L182.4 236.8L182.5 237.6L182.7 238.3L182.8 239.1L182.9 239.8L183 240.6L183.1 241.3L183.1 242.1L183.1 242.8L183.1 243.6L183 244.3L182.8 245.1L182.6 245.8L182.3 246.6L182 247.3L181.6 248.1L181.1 248.8L180.6 249.6L180 250.3L179.5 251L179 251.5L178.5 252L178 252.5L177.4 253.1L176.9 253.6L176.3 254.1L175.6 254.6L175 255L174.2 255.5L173.5 255.8L172.8 256.1Z" fill="rgb(205,205,205)" stroke="rgb(145,145,145)" stroke-width="0.6"/>
<path d="M172 254.6L171.2 254.6L170.5 254.6L169.8 254.3L169 253.9L168.2 253.4L167.8 252.9L167.2 252.3L166.8 251.6L166.3 250.8L166 250.2L165.6 249.3L165.3 248.6L165 247.8L164.8 247.1L164.5 246.3L164.3 245.6L164.1 244.8L163.9 244.1L163.8 243.3L163.6 242.6L163.5 241.8L163.5 241.1L163.5 240.3L163.5 239.6L163.5 238.8L163.6 238.1L163.6 237.3L163.7 236.6L163.7 235.8L163.8 235.1L163.9 234.3L164 233.6L164.1 232.8L164.3 232.1L164.6 231.3L164.9 230.6L165.4 229.8L166 229.1L166.5 228.6L167 228.1L167.7 227.6L168.5 227.1L169.2 226.7L170 226.4L170.8 226.2L171.5 226L172.2 225.9L173 225.8L173.8 225.9L174.5 226L175.2 226.2L176 226.6L176.8 227.1L177.3 227.6L178 228.3L178.5 229.1L178.9 229.8L179.2 230.5L179.6 231.3L179.9 232.1L180.1 232.8L180.3 233.6L180.5 234.3L180.7 235.1L180.9 235.8L181 236.6L181.2 237.3L181.3 238.1L181.4 238.8L181.5 239.6L181.6 240.3L181.7 241.1L181.8 241.8L181.8 242.6L181.8 243.3L181.7 244.1L181.5 244.8L181.3 245.6L181.1 246.3L180.8 247.1L180.3 247.8L179.8 248.6L179.3 249.3L178.8 250L178.2 250.6L177.8 251.1L177.2 251.6L176.6 252.1L176 252.6L175.4 253.1L174.8 253.5L174 253.9L173.2 254.3L172.5 254.5Z" fill="none" stroke="rgb(133,133,133)" stroke-width="0.6"/>
<path d="M172.2 252.9L171.5 253L170.8 253L170 252.8L169.2 252.4L168.5 251.8L168 251.3L167.5 250.6L167 249.8L166.6 249.1L166.3 248.3L166 247.6L165.8 246.9L165.5 246.1L165.3 245.3L165.1 244.6L165 243.8L164.8 243.1L164.7 242.3L164.7 241.6L164.7 240.8L164.7 240.1L164.7 239.3L164.7 238.6L164.8 237.8L164.9 237.1L164.9 236.3L165 235.6L165.1 234.8L165.2 234.1L165.4 233.3L165.6 232.6L165.9 231.8L166.2 231.1L166.7 230.3L167.2 229.8L168 229.1L168.7 228.6L169.5 228.2L170.2 227.9L171 227.6L171.8 227.5L172.5 227.4L173.2 227.4L174 227.5L174.8 227.8L175.4 228.1L176 228.5L176.6 229.1L177.2 229.8L177.7 230.6L178.1 231.3L178.4 232.1L178.7 232.8L179 233.6L179.2 234.3L179.4 235.1L179.6 235.8L179.8 236.6L179.9 237.3L180 238.1L180.1 238.8L180.2 239.6L180.3 240.3L180.4 241.1L180.4 241.8L180.4 242.6L180.4 243.3L180.3 244.1L180.1 244.8L179.9 245.6L179.6 246.3L179.3 247.1L178.8 247.8L178.3 248.6L177.8 249.3L177.2 249.8L176.7 250.3L176.1 250.8L175.5 251.3L174.8 251.8L174 252.2L173.2 252.6L172.5 252.8Z" fill="none" stroke="rgb(121,121,121)" stroke-width="0.6"/>
<path d="M171.8 251.4L171 251.4L170.3 251.3L169.6 251.1L169 250.7L168.4 250.1L167.8 249.3L167.4 248.6L167 247.8L166.8 247.1L166.5 246.3L166.3 245.6L166.1 244.8L166 244.1L165.9 243.3L165.8 242.6L165.8 241.8L165.8 241.1L165.8 240.3L165.8 239.6L165.9 238.8L166 238.1L166.1 237.3L166.2 236.6L166.3 235.8L166.4 235.1L166.6 234.3L166.7 233.6L167 232.9L167.3 232.1L167.8 231.5L168.2 230.8L168.8 230.4L169.5 229.8L170.2 229.4L171 229.2L171.8 229L172.5 229L173.2 229.1L174 229.3L174.7 229.6L175.2 230L175.9 230.6L176.5 231.3L176.9 232.1L177.2 232.8L177.6 233.6L177.9 234.3L178.1 235.1L178.3 235.8L178.5 236.6L178.6 237.3L178.8 238.1L178.9 238.8L178.9 239.6L179 240.3L179 241.1L179 241.8L179 242.6L178.9 243.3L178.8 244.1L178.7 244.8L178.4 245.6L178.1 246.3L177.8 247L177.3 247.6L176.8 248.3L176.2 248.8L175.7 249.3L175 249.8L174.3 250.3L173.5 250.8L172.8 251.1L172 251.3Z" fill="none" stroke="rgb(109,109,109)" stroke-width="0.6"/>
<path d="M171.5 249.9L170.8 250L170 249.9L169.2 249.5L168.6 248.8L168.1 248.1L167.8 247.4L167.4 246.6L167.2 245.8L167.1 245.1L166.9 244.3L166.9 243.6L166.8 242.8L166.8 242.1L166.8 241.3L166.9 240.6L167 239.8L167 239.1L167.1 238.3L167.2 237.6L167.4 236.8L167.5 236.1L167.7 235.3L167.9 234.6L168.2 233.8L168.5 233.1L169 232.4L169.5 231.8L170.1 231.3L170.8 231L171.5 230.8L172.2 230.7L173 230.8L173.8 231L174.5 231.5L175.1 232.1L175.7 232.8L176.2 233.6L176.5 234.3L176.8 235.1L177.1 235.8L177.2 236.6L177.4 237.3L177.5 238.1L177.6 238.8L177.7 239.6L177.7 240.3L177.7 241.1L177.7 241.8L177.6 242.6L177.5 243.3L177.3 244.1L177.1 244.8L176.8 245.6L176.4 246.3L175.8 247.1L175.2 247.7L174.5 248.3L173.8 248.8L173 249.3L172.3 249.6Z" fill="none" stroke="rgb(97,97,97)" stroke-width="0.6"/>
<path d="M171 248.7L170.2 248.7L169.5 248.5L168.9 247.8L168.4 247.1L168.1 246.3L167.9 245.6L167.8 244.8L167.7 244.1L167.7 243.3L167.7 242.6L167.8 241.8L167.9 241.1L168 240.3L168.1 239.6L168.2 238.9L168.4 238.1L168.6 237.3L168.7 236.6L169 235.8L169.2 235.1L169.6 234.3L170.2 233.6L170.8 233.1L171.5 232.7L172.2 232.6L173 232.7L173.7 233.1L174.3 233.6L175 234.3L175.4 235.1L175.8 235.8L176 236.6L176.2 237.3L176.3 238.1L176.4 238.8L176.5 239.6L176.5 240.3L176.4 241.1L176.4 241.8L176.2 242.6L176 243.3L175.8 244.1L175.4 244.8L175 245.5L174.5 246L173.9 246.6L173.3 247.1L172.8 247.6L172.1 248.1L171.2 248.6Z" fill="none" stroke="rgb(85,85,85)" stroke-width="0.6"/>
<path d="M170.2 247.6L169.6 247.3L169 246.7L168.6 245.8L168.5 245.1L168.4 244.3L168.5 243.6L168.6 242.8L168.7 242.1L168.9 241.3L169.1 240.6L169.3 239.8L169.5 239.1L169.6 238.3L169.8 237.6L170.1 236.8L170.5 236.1L171 235.4L171.8 234.9L172.5 234.8L173.2 235L174 235.6L174.5 236.3L174.8 237.1L175.1 237.8L175.2 238.6L175.3 239.3L175.3 240.1L175.2 240.8L175.1 241.6L174.9 242.3L174.6 243.1L174.1 243.8L173.5 244.6L173 245.1L172.5 245.7L172 246.3L171.5 247L170.8 247.5Z" fill="none" stroke="rgb(73,73,73)" stroke-width="0.6"/>
<path d="M170.5 246.5L169.8 246.4L169.3 245.8L169.1 245.1L169.1 244.3L169.2 243.6L169.5 242.8L170 242.1L170.4 241.3L170.6 240.6L170.7 239.8L170.8 239.1L171.1 238.3L171.5 237.6L172.1 237.1L172.9 237.1L173.5 237.6L173.9 238.3L174.1 239.1L174.2 239.8L174.1 240.6L173.9 241.3L173.5 242.1L173 242.6L172.2 243.1L171.8 243.7L171.5 244.6L171.3 245.3L171 246.0Z" fill="none" stroke="rgb(61,61,61)" stroke-width="0.6"/>
<path d="M172.8 240.7L172.1 240.3L172.1 239.6L172.8 239.2L173.1 239.8L172.8 240.6ZM170.2 245.6L169.7 245.1L169.7 244.3L170.2 243.9L170.6 244.6L170.5 245.3Z" fill="none" stroke="rgb(50,50,50)" stroke-width="0.6"/>
<ellipse cx="170.1" cy="244.8" rx="1.3" ry="2" fill="#fff"/>
<path d="M187.2 370.3L186.4 370.3L185.7 370.3L184.9 370.2L184.2 370.1L183.4 370L182.7 369.8L181.9 369.6L181.2 369.3L180.4 369L179.7 368.6L179 368.2L178.4 367.8L177.7 367.3L177.1 366.8L176.4 366L175.9 365.4L175.4 364.8L175 364L174.7 363.2L174.4 362.5L174.2 361.8L174.1 361L174.1 360.2L174.1 359.5L174.2 358.8L174.4 358L174.6 357.2L174.9 356.6L175.4 355.8L175.9 355L176.4 354.5L176.9 354L177.5 353.5L178.2 353L178.9 352.6L179.7 352.1L180.4 351.8L181.2 351.4L181.9 351.2L182.7 351L183.4 350.8L184.2 350.8L184.9 350.7L185.7 350.8L186.4 350.9L187.2 351L187.9 351.2L188.6 351.5L189.4 351.9L190.2 352.4L190.9 353L191.5 353.5L192.1 354.2L192.7 354.9L193.1 355.5L193.5 356.2L193.9 357L194.2 357.7L194.4 358.5L194.6 359.2L194.8 360L194.9 360.8L194.9 361.5L194.9 362.2L194.9 363L194.7 363.8L194.6 364.5L194.3 365.2L194 366L193.6 366.8L193.2 367.3L192.7 367.9L192 368.5L191.4 368.9L190.7 369.4L189.9 369.7L189.2 369.9L188.4 370.1L187.7 370.2Z" fill="rgb(215,215,215)" stroke="rgb(155,155,155)" stroke-width="0.6"/>
<path d="M187.9 367.8L187.2 367.9L186.4 368L185.7 368L184.9 367.9L184.2 367.8L183.4 367.6L182.7 367.4L181.9 367.1L181.2 366.8L180.4 366.3L179.7 365.8L179 365.2L178.5 364.8L177.9 364L177.4 363.2L177.1 362.5L176.8 361.8L176.7 361L176.6 360.2L176.6 359.5L176.8 358.8L177 358L177.4 357.2L177.9 356.5L178.4 355.9L179.1 355.2L179.8 354.8L180.4 354.4L181.1 354L181.9 353.7L182.7 353.4L183.4 353.2L184.2 353.1L184.9 353.1L185.7 353.1L186.4 353.2L187.2 353.3L187.9 353.6L188.7 354L189.4 354.5L190 355L190.7 355.7L191.2 356.4L191.5 357L191.9 357.8L192.2 358.5L192.4 359.2L192.5 360L192.6 360.8L192.6 361.5L192.6 362.2L192.5 363L192.3 363.8L192 364.5L191.7 365.2L191.2 365.9L190.7 366.4L189.9 367L189.2 367.4L188.4 367.7Z" fill="none" stroke="rgb(148,148,148)" stroke-width="0.6"/>
<path d="M186.9 365.5L186.2 365.6L185.4 365.7L184.7 365.6L183.9 365.4L183.2 365.2L182.4 364.9L181.7 364.4L180.9 363.8L180.4 363.2L179.9 362.5L179.6 361.8L179.4 361L179.3 360.2L179.4 359.5L179.6 358.8L179.9 358.1L180.3 357.5L180.9 356.9L181.7 356.3L182.4 355.9L183.2 355.6L183.9 355.4L184.7 355.3L185.4 355.3L186.2 355.4L186.9 355.6L187.6 356L188.3 356.5L188.9 357L189.4 357.7L189.8 358.5L190.1 359.2L190.2 360L190.3 360.8L190.3 361.5L190.1 362.2L189.9 362.9L189.5 363.8L188.9 364.4L188.2 365L187.4 365.4Z" fill="none" stroke="rgb(142,142,142)" stroke-width="0.6"/>
<path d="M185.9 363.3L185.2 363.4L184.4 363.3L183.7 363.1L182.9 362.5L182.4 362L182 361.2L181.9 360.5L182 359.8L182.3 359L182.9 358.3L183.7 357.8L184.4 357.6L185.2 357.5L185.9 357.7L186.5 358L187.1 358.5L187.6 359.2L187.9 360L187.9 360.8L187.8 361.5L187.4 362.2L186.9 362.8L186.2 363.2Z" fill="none" stroke="rgb(136,136,136)" stroke-width="0.6"/>
<path d="M185.4 361L184.7 361.1L184.4 360.2L185.2 359.8L185.7 360.5Z" fill="none" stroke="rgb(130,130,130)" stroke-width="0.6"/>
<path d="M230.9 380.8L230.2 380.8L229.4 380.8L228.7 380.8L227.9 380.7L227.2 380.7L226.4 380.6L225.7 380.5L224.9 380.4L224.2 380.2L223.5 380L222.8 379.8L222.2 379.5L221.4 379.1L220.7 378.8L219.9 378.4L219.2 378.2L218.4 378L217.7 378L216.9 378L216.2 378.1L215.4 378.2L214.7 378.3L213.9 378.4L213.2 378.4L212.4 378.4L211.7 378.4L210.9 378.3L210.2 378.2L209.4 378L208.7 377.8L207.9 377.6L207.2 377.4L206.4 377.1L205.7 376.8L204.9 376.4L204.2 376L203.7 375.6L202.9 375L202.4 374.5L201.9 373.9L201.4 373.2L201 372.5L200.7 371.8L200.5 371L200.3 370.2L200.2 369.5L200.1 368.8L200.1 368L200.1 367.2L200 366.5L200 365.8L200 365L200 364.2L200 363.5L200 362.8L200.1 362L200.2 361.3L200.3 360.5L200.5 359.8L200.7 359L201 358.2L201.3 357.5L201.7 356.8L202.1 356L202.6 355.2L203.1 354.5L203.7 353.9L204.2 353.3L204.7 352.8L205.2 352.2L205.8 351.8L206.4 351.3L207.2 350.8L207.8 350.5L208.7 350.1L209.4 349.9L210.2 349.8L210.9 349.8L211.7 349.8L212.4 349.9L213.2 350.1L213.8 350.2L214.6 350.5L215.4 350.8L216.2 351.2L216.9 351.6L217.6 352L218.4 352.4L219.2 352.9L219.9 353.5L220.6 354L221.1 354.5L221.6 355L222.2 355.6L222.7 356.2L223.2 356.9L223.6 357.5L224.1 358.2L224.7 358.9L225.3 359.5L226.2 360L226.8 360.2L227.7 360.4L228.4 360.6L229.2 360.6L229.9 360.7L230.7 360.8L231.4 360.9L232.2 361L232.9 361.1L233.6 361.2L234.4 361.5L235.2 361.7L235.9 362L236.7 362.3L237.4 362.7L238.2 363.2L238.9 363.7L239.6 364.2L240.1 364.8L240.7 365.4L241.1 366L241.6 366.8L241.9 367.4L242.2 368.1L242.4 369L242.4 369.8L242.5 370.5L242.4 371.2L242.4 372L242.2 372.8L242.1 373.5L241.8 374.2L241.5 375L241.2 375.8L240.7 376.5L240.2 377.2L239.7 377.8L239.1 378.2L238.4 378.8L237.7 379.2L236.9 379.6L236.2 379.9L235.4 380.2L234.7 380.3L233.9 380.5L233.2 380.6L232.4 380.7L231.7 380.7Z" fill="none" stroke="rgb(150,150,150)" stroke-width="0.6"/>
<path d="M212.4 376L211.7 376.1L210.9 376.1L210.2 376L209.4 375.9L208.7 375.7L207.9 375.4L207.2 375L206.4 374.6L205.7 374L205 373.5L204.5 373L203.9 372.4L203.4 371.8L203 371.2L202.5 370.5L202 369.8L201.7 369.1L201.3 368.5L201 367.8L200.7 367L200.5 366.2L200.3 365.5L200.1 364.8L200 364L200 363.2L200 362.5L200 361.8L200.1 361L200.3 360.2L200.5 359.5L200.7 358.8L201 358L201.4 357.2L201.8 356.5L202.2 355.8L202.6 355L203.1 354.2L203.6 353.5L204.2 352.8L204.6 352.2L205.2 351.6L205.8 351L206.4 350.5L207.2 350.1L207.8 349.8L208.6 349.5L209.4 349.3L210.2 349.3L210.9 349.4L211.7 349.6L212.4 349.8L213.2 350.2L213.9 350.6L214.7 351.2L215.3 351.8L215.9 352.2L216.4 352.8L216.9 353.4L217.4 354L217.9 354.7L218.4 355.5L218.8 356.2L219.2 357L219.6 357.8L219.9 358.5L220.2 359.2L220.4 360L220.6 360.8L220.7 361.5L220.8 362.2L220.9 363L220.9 363.8L220.8 364.5L220.7 365.2L220.6 366L220.4 366.8L220.2 367.5L219.9 368.2L219.6 369L219.2 369.8L218.8 370.5L218.3 371.2L217.9 371.8L217.4 372.5L216.9 373.1L216.4 373.7L215.8 374.2L215.2 374.8L214.4 375.2L213.7 375.6L212.9 375.9Z" fill="rgb(205,205,205)" stroke="rgb(145,145,145)" stroke-width="0.6"/>
<path d="M212.4 373.8L211.7 374L210.9 374L210.2 373.9L209.4 373.8L208.7 373.5L208 373.2L207.2 372.8L206.4 372.3L205.7 371.8L205.2 371.2L204.7 370.7L204.2 370.1L203.7 369.5L203.2 368.8L202.8 368L202.4 367.2L202.2 366.5L201.9 365.8L201.7 365L201.6 364.2L201.6 363.5L201.5 362.8L201.6 362L201.7 361.2L201.9 360.5L202.1 359.8L202.4 359L202.7 358.3L203.1 357.5L203.5 356.8L203.9 356.2L204.3 355.5L204.9 354.8L205.4 354.2L205.9 353.6L206.6 353L207.2 352.6L207.9 352.1L208.7 351.8L209.4 351.6L210.2 351.6L210.9 351.7L211.7 351.9L212.4 352.2L213 352.5L213.7 352.9L214.4 353.5L215 354L215.4 354.5L216.1 355.2L216.7 356L217.2 356.7L217.6 357.5L218 358.2L218.4 359L218.7 359.8L218.9 360.5L219.1 361.2L219.3 362L219.3 362.8L219.3 363.5L219.3 364.2L219.2 365L219.1 365.8L218.9 366.5L218.6 367.2L218.3 368L217.9 368.7L217.5 369.5L216.9 370.2L216.4 371L215.9 371.5L215.4 372L214.7 372.7L213.9 373.2L213.2 373.6Z" fill="none" stroke="rgb(137,137,137)" stroke-width="0.6"/>
<path d="M212.2 371.8L211.4 372L210.7 372L209.9 371.9L209.2 371.8L208.5 371.5L207.7 371.1L206.9 370.6L206.2 370L205.7 369.5L205.2 368.9L204.7 368.2L204.3 367.5L203.9 366.8L203.6 366L203.4 365.3L203.2 364.5L203.2 363.8L203.1 363L203.2 362.2L203.3 361.5L203.5 360.8L203.7 360L204 359.2L204.4 358.5L204.9 357.8L205.4 357L205.9 356.4L206.4 355.8L207 355.2L207.7 354.8L208.4 354.4L209.2 354.1L209.9 354L210.7 354L211.4 354.1L212.2 354.4L212.8 354.8L213.4 355.1L214.1 355.8L214.7 356.2L215.2 356.8L215.7 357.4L216.2 358.2L216.6 359L217 359.8L217.3 360.5L217.5 361.2L217.7 362L217.8 362.8L217.8 363.5L217.8 364.2L217.7 365L217.5 365.8L217.2 366.5L216.9 367.2L216.5 368L216.2 368.6L215.7 369.2L215.2 369.9L214.7 370.4L213.9 371L213.2 371.4L212.4 371.7Z" fill="none" stroke="rgb(130,130,130)" stroke-width="0.6"/>
<path d="M211.7 370L210.9 370.1L210.2 370.1L209.4 370L208.7 369.7L207.9 369.3L207.2 368.8L206.7 368.2L206.2 367.6L205.7 367L205.4 366.4L205.1 365.5L204.9 364.8L204.8 364L204.7 363.2L204.8 362.5L204.9 361.8L205.1 361L205.4 360.2L205.8 359.5L206.2 358.9L206.6 358.2L207.2 357.7L207.9 357L208.7 356.6L209.4 356.3L210.2 356.2L210.9 356.2L211.7 356.4L212.4 356.8L213.1 357.2L213.7 357.8L214.4 358.5L214.9 359.2L215.4 360L215.7 360.8L216 361.5L216.2 362.2L216.2 363L216.3 363.8L216.2 364.5L216 365.2L215.8 366L215.5 366.8L215 367.5L214.4 368.2L213.9 368.8L213.3 369.2L212.7 369.7L211.9 370.0Z" fill="none" stroke="rgb(122,122,122)" stroke-width="0.6"/>
<path d="M211.4 368.3L210.7 368.4L209.9 368.3L209.2 368.1L208.4 367.6L207.7 367L207.2 366.3L206.7 365.5L206.5 364.8L206.4 364L206.3 363.2L206.4 362.5L206.6 361.8L206.8 361L207.2 360.2L207.8 359.5L208.4 359L209.2 358.5L209.9 358.3L210.7 358.2L211.4 358.4L212.2 358.7L212.9 359.2L213.4 359.8L213.9 360.5L214.3 361.2L214.5 362L214.7 362.8L214.7 363.5L214.7 364.2L214.5 365L214.2 365.8L213.8 366.5L213.2 367.2L212.5 367.8L211.7 368.2Z" fill="none" stroke="rgb(115,115,115)" stroke-width="0.6"/>
<path d="M210.7 366.5L209.9 366.4L209.2 366L208.7 365.5L208.2 364.8L208 364L207.9 363.2L208 362.5L208.3 361.8L208.7 361.1L209.2 360.6L209.9 360.2L210.7 360.1L211.4 360.3L212.1 360.8L212.6 361.5L213 362.2L213.1 363L213.1 363.8L212.9 364.5L212.7 365.2L212.2 365.8L211.7 366.2L210.9 366.5Z" fill="none" stroke="rgb(107,107,107)" stroke-width="0.6"/>
<path d="M210.9 364.4L210.2 364.4L209.7 363.9L209.5 363L209.8 362.2L210.4 361.8L211.2 362.1L211.5 363L211.4 363.8Z" fill="none" stroke="rgb(100,100,100)" stroke-width="0.6"/>
<path d="M230.4 379.8L229.7 379.8L228.9 379.8L228.2 379.8L227.4 379.7L226.7 379.6L225.9 379.5L225.2 379.3L224.4 379L223.7 378.6L222.9 378.1L222.4 377.6L222 377L221.5 376.2L221.2 375.5L221 374.8L220.8 374L220.7 373.2L220.7 372.5L220.7 371.8L220.7 371L220.8 370.2L220.8 369.5L221 368.8L221.2 368.1L221.4 367.3L221.7 366.5L222.1 365.8L222.6 365L223.2 364.3L223.7 363.7L224.4 363L225 362.5L225.7 362.1L226.4 361.7L227.2 361.3L227.9 361.1L228.7 360.9L229.4 360.7L230.2 360.7L230.9 360.6L231.7 360.7L232.4 360.8L233.2 360.9L233.9 361.1L234.7 361.4L235.4 361.8L236.2 362.2L236.8 362.8L237.4 363.2L237.9 363.8L238.4 364.5L238.8 365.2L239.2 366L239.5 366.8L239.7 367.5L239.9 368.2L240 369L240.1 369.8L240.1 370.5L240.1 371.2L240 372L239.8 372.8L239.5 373.5L239.2 374.2L238.7 375L238.2 375.8L237.7 376.3L236.9 377L236.3 377.5L235.7 378L234.9 378.4L234.2 378.8L233.4 379.1L232.7 379.3L231.9 379.5L231.2 379.7L230.4 379.8Z" fill="rgb(198,198,198)" stroke="rgb(130,130,130)" stroke-width="0.6"/>
<path d="M229.9 378.8L229.2 378.8L228.4 378.7L227.7 378.6L226.9 378.5L226.2 378.3L225.4 378.1L224.7 377.8L224 377.2L223.4 376.8L222.9 376.1L222.5 375.5L222.2 374.8L222 374L221.9 373.2L221.8 372.5L221.7 371.8L221.7 371L221.8 370.2L221.9 369.5L222.1 368.8L222.3 368L222.5 367.2L222.9 366.5L223.4 365.8L223.9 365.1L224.4 364.5L224.9 364L225.6 363.5L226.2 363.1L226.8 362.8L227.7 362.4L228.4 362.1L229.2 361.9L229.9 361.8L230.7 361.8L231.4 361.8L232.2 361.9L232.9 362.1L233.7 362.3L234.4 362.6L235.1 363L235.8 363.5L236.4 364L236.9 364.5L237.4 365.2L237.9 366L238.3 366.8L238.6 367.5L238.8 368.2L238.9 369L239 369.8L239 370.5L238.9 371.2L238.8 372L238.6 372.8L238.3 373.5L237.9 374.2L237.4 375L236.9 375.6L236.4 376.1L235.7 376.7L234.9 377.2L234.2 377.7L233.4 378L232.8 378.2L231.9 378.5L231.2 378.6L230.4 378.7Z" fill="none" stroke="rgb(119,119,119)" stroke-width="0.6"/>
<path d="M231.7 377.5L230.9 377.7L230.2 377.7L229.4 377.7L228.7 377.7L227.9 377.6L227.2 377.4L226.4 377.2L225.7 376.8L224.9 376.3L224.3 375.8L223.7 375L223.4 374.3L223.2 373.6L222.9 372.8L222.9 372L222.8 371.2L222.8 370.5L222.9 369.8L223.1 369L223.3 368.2L223.6 367.5L224 366.8L224.4 366.2L224.9 365.6L225.4 365.1L226.1 364.5L226.7 364.1L227.3 363.8L228.2 363.4L228.9 363.2L229.7 363L230.4 363L231.2 363L231.9 363.1L232.6 363.2L233.4 363.5L234.2 363.9L234.8 364.2L235.4 364.7L235.9 365.2L236.4 365.8L236.9 366.5L237.3 367.2L237.6 368L237.8 368.8L237.9 369.5L237.9 370.2L237.9 371L237.8 371.8L237.5 372.5L237.2 373.2L236.8 374L236.4 374.6L235.9 375.1L235.3 375.8L234.7 376.2L233.9 376.7L233.2 377L232.4 377.3Z" fill="none" stroke="rgb(108,108,108)" stroke-width="0.6"/>
<path d="M231.4 376.5L230.7 376.7L229.9 376.7L229.2 376.7L228.4 376.5L227.7 376.4L226.9 376.1L226.2 375.6L225.4 375L224.9 374.4L224.5 373.8L224.2 373L224 372.2L223.9 371.5L223.9 370.8L224 370L224.1 369.2L224.3 368.5L224.7 367.8L225.1 367L225.7 366.3L226.2 365.8L226.9 365.3L227.7 364.8L228.4 364.5L229.2 364.3L229.9 364.2L230.7 364.2L231.4 364.2L232.2 364.4L232.9 364.6L233.7 365L234.4 365.5L235 366L235.7 366.7L236.1 367.5L236.5 368.2L236.7 369L236.9 369.8L236.9 370.5L236.8 371.2L236.7 372L236.4 372.7L236 373.5L235.4 374.2L234.9 374.8L234.3 375.2L233.7 375.7L232.9 376.1L232.2 376.4Z" fill="none" stroke="rgb(98,98,98)" stroke-width="0.6"/>
<path d="M231.4 375.5L230.7 375.6L229.9 375.6L229.2 375.6L228.4 375.4L227.7 375.1L226.9 374.6L226.2 374L225.7 373.2L225.3 372.5L225.2 371.8L225.1 371L225.1 370.2L225.2 369.5L225.4 368.8L225.8 368L226.3 367.2L226.9 366.7L227.7 366.1L228.4 365.8L229.1 365.5L229.9 365.3L230.7 365.3L231.4 365.4L232.2 365.6L232.9 365.9L233.5 366.2L234.2 366.7L234.7 367.2L235.2 367.9L235.5 368.5L235.8 369.2L235.9 370L235.9 370.8L235.8 371.5L235.6 372.2L235.2 373L234.7 373.7L234.1 374.2L233.4 374.7L232.7 375.1L231.9 375.4Z" fill="none" stroke="rgb(87,87,87)" stroke-width="0.6"/>
<path d="M231.2 374.5L230.4 374.6L229.7 374.5L228.9 374.4L228.2 374L227.4 373.5L226.9 372.9L226.5 372.2L226.3 371.5L226.2 370.8L226.2 370L226.4 369.2L226.8 368.5L227.4 367.8L227.9 367.3L228.7 366.8L229.4 366.6L230.2 366.5L230.9 366.5L231.7 366.6L232.4 366.9L233.1 367.2L233.8 367.8L234.4 368.4L234.8 369.2L235.1 370L235.1 370.8L235 371.5L234.7 372.2L234.2 373L233.6 373.5L232.9 373.9L232.2 374.2L231.4 374.5Z" fill="none" stroke="rgb(76,76,76)" stroke-width="0.6"/>
<path d="M231.2 373.5L230.4 373.5L229.7 373.4L228.9 373.1L228.2 372.5L227.7 371.8L227.4 371L227.4 370.2L227.6 369.5L228 368.8L228.5 368.2L229.2 367.9L229.9 367.6L230.7 367.5L231.4 367.6L232.2 367.9L232.9 368.2L233.5 368.8L234.1 369.5L234.3 370.2L234.3 371L234.1 371.8L233.7 372.3L232.9 372.9L232.2 373.2L231.4 373.5Z" fill="none" stroke="rgb(66,66,66)" stroke-width="0.6"/>
<path d="M231.2 372.5L230.4 372.5L229.7 372.2L229 371.8L228.7 371.1L228.6 370.2L228.9 369.5L229.4 369L230.2 368.7L230.9 368.6L231.7 368.7L232.4 369L233.1 369.5L233.6 370.2L233.6 371L233.2 371.8L232.4 372.2L231.7 372.5Z" fill="none" stroke="rgb(55,55,55)" stroke-width="0.6"/>
<path d="M232.7 371.3L231.9 371.5L231.2 371.4L230.4 371.4L229.7 370.8L229.9 370L230.7 369.6L231.4 369.7L232.2 369.9L232.9 370.2L233 371.0Z" fill="none" stroke="rgb(45,45,45)" stroke-width="0.6"/>
<ellipse cx="232.5" cy="370.7" rx="2" ry="1.5" fill="#fff"/>
<path d="M228.2 357.5L227.4 357.7L226.7 357.6L225.9 357.4L225.2 356.8L224.7 356.2L224.4 355.5L224.3 354.8L224.4 354L224.7 353.2L225.4 352.5L226.2 352.1L226.9 351.9L227.7 351.9L228.4 352.1L229.1 352.5L229.6 353L230 353.8L230.2 354.5L230.2 355.2L229.9 356L229.4 356.7L228.8 357.2Z" fill="none" stroke="rgb(160,160,160)" stroke-width="0.6"/>
<path d="M201.5 350C201 340 200.5 330 202 324C205 321 214 320.5 217 322.5C219 326 219 334 219.5 340C220 345 221 348 222 350" fill="none" stroke="rgb(150,150,150)" stroke-width="0.6"/>
<path d="M205 332C205 336 205.5 341 206 345M208.5 327C208.5 333 209 339 209 344" fill="none" stroke="rgb(150,150,150)" stroke-width="0.6"/>
<path d="M334.1 84.8L333.4 84.8L332.6 84.8L331.9 84.8L331.1 84.7L330.4 84.7L329.6 84.5L328.9 84.4L328.1 84.2L327.4 84.1L326.6 83.9L325.9 83.6L325.1 83.4L324.4 83L323.6 82.6L322.9 82L322.3 81.5L321.9 80.9L321.4 80.2L321 79.5L320.7 78.8L320.6 78L320.4 77.2L320.4 76.5L320.4 75.8L320.5 75L320.6 74.2L320.7 73.5L321 72.8L321.2 72L321.5 71.2L321.8 70.5L322.1 69.8L322.5 69L322.9 68.3L323.2 67.5L323.6 66.8L324.1 66L324.5 65.2L325 64.5L325.5 63.8L326.1 63.1L326.6 62.5L327.1 62L327.7 61.5L328.3 61L328.9 60.6L329.6 60L330.4 59.6L331.1 59.1L331.8 58.8L332.6 58.3L333.3 58L334.1 57.6L334.9 57.3L335.6 57L336.4 56.8L337.1 56.5L337.9 56.3L338.6 56.1L339.3 56L340.1 55.9L340.9 55.8L341.6 55.7L342.4 55.7L343.1 55.6L343.9 55.6L344.6 55.7L345.3 55.8L346.1 55.9L346.9 56.1L347.6 56.4L348.4 56.9L348.9 57.5L349.5 58.2L350 59L350.4 59.7L350.7 60.5L351 61.2L351.2 62L351.5 62.8L351.7 63.5L351.8 64.2L351.9 65L352 65.8L352 66.5L351.9 67.2L351.7 68L351.5 68.8L351.3 69.5L351 70.2L350.6 71L350.3 71.8L349.9 72.5L349.5 73.2L349.2 74L348.8 74.8L348.4 75.5L348 76.2L347.6 76.9L347.2 77.5L346.7 78.2L346.1 79L345.6 79.6L345.1 80.1L344.4 80.8L343.8 81.2L343.1 81.7L342.4 82.2L341.6 82.7L340.9 83L340.1 83.4L339.4 83.7L338.6 83.9L337.9 84.1L337.1 84.3L336.4 84.5L335.6 84.6L334.9 84.7Z" fill="none" stroke="rgb(150,150,150)" stroke-width="0.6"/>
<path d="M331.9 84L331.1 84.1L330.4 84.1L329.6 84L328.9 83.9L328.1 83.8L327.4 83.5L326.6 83.2L325.9 82.9L325.1 82.4L324.4 81.8L323.9 81.1L323.4 80.2L323 79.5L322.9 78.8L322.7 78L322.7 77.2L322.7 76.5L322.8 75.8L322.9 75L323 74.2L323.2 73.5L323.4 72.8L323.6 72L323.8 71.2L324 70.5L324.3 69.8L324.6 69L324.9 68.2L325.3 67.5L325.7 66.8L326.1 66.1L326.5 65.5L327.1 64.8L327.6 64.2L328.1 63.7L328.8 63L329.4 62.5L330 62L330.6 61.5L331.2 61L331.9 60.5L332.6 60L333.4 59.5L334.1 59.1L334.9 58.6L335.6 58.3L336.4 57.9L337.1 57.6L337.9 57.4L338.6 57.2L339.4 57.1L340.1 57L340.9 57L341.6 57L342.4 57L343.1 57.2L343.9 57.4L344.6 57.7L345.4 58.1L346.1 58.7L346.6 59.3L347.1 60L347.5 60.8L347.8 61.5L348 62.2L348.3 63L348.4 63.8L348.6 64.5L348.7 65.2L348.8 66L348.8 66.8L348.8 67.5L348.8 68.2L348.7 69L348.5 69.8L348.3 70.5L348.1 71.2L347.8 72L347.4 72.8L347.1 73.4L346.7 74L346.4 74.6L345.9 75.2L345.4 75.9L344.9 76.4L344.4 76.9L343.7 77.5L343.1 78L342.5 78.5L341.9 79L341.2 79.5L340.4 80L339.9 80.4L339.1 80.9L338.4 81.3L337.7 81.8L336.9 82.2L336.1 82.6L335.4 83L334.6 83.3L333.9 83.6L333.1 83.8L332.4 83.9Z" fill="rgb(200,200,200)" stroke="rgb(150,150,150)" stroke-width="0.6"/>
<path d="M331.9 82.3L331.1 82.3L330.4 82.2L329.6 82.1L328.9 81.9L328.1 81.7L327.4 81.3L326.6 80.8L326 80.2L325.4 79.5L325 78.8L324.8 78L324.7 77.2L324.6 76.5L324.6 75.8L324.7 75L324.8 74.2L324.9 73.5L325.1 72.8L325.3 72L325.5 71.2L325.7 70.5L325.9 69.8L326.2 69L326.6 68.2L327 67.5L327.4 66.9L327.8 66.2L328.3 65.5L328.9 64.9L329.4 64.4L330 63.8L330.6 63.2L331.2 62.8L331.9 62.3L332.6 61.8L333.3 61.2L334.1 60.8L334.9 60.3L335.5 60L336.4 59.6L337.1 59.3L337.9 59.1L338.6 58.9L339.4 58.8L340.1 58.8L340.9 58.8L341.6 58.9L342.4 59.1L343.1 59.4L343.7 59.8L344.4 60.2L344.9 60.7L345.3 61.2L345.8 62L346.1 62.7L346.5 63.5L346.7 64.2L346.9 65L347.1 65.8L347.2 66.5L347.2 67.2L347.2 68L347.2 68.8L347 69.5L346.9 70.2L346.6 71L346.4 71.7L346 72.5L345.6 73.2L345.1 74L344.6 74.6L344.1 75.2L343.6 75.8L343.1 76.2L342.5 76.8L341.9 77.2L341.4 77.7L340.6 78.2L339.9 78.8L339.1 79.2L338.4 79.7L337.6 80.2L336.9 80.6L336.1 81L335.4 81.3L334.6 81.6L333.9 81.9L333.1 82.1L332.4 82.2Z" fill="none" stroke="rgb(141,141,141)" stroke-width="0.6"/>
<path d="M333.6 80.3L332.9 80.4L332.1 80.5L331.4 80.4L330.6 80.3L329.9 80.1L329.1 79.8L328.4 79.3L327.7 78.8L327.2 78L326.9 77.2L326.7 76.5L326.6 75.8L326.6 75L326.6 74.2L326.7 73.5L326.8 72.8L326.9 72L327.1 71.3L327.3 70.5L327.6 69.8L327.9 69L328.3 68.2L328.6 67.6L329 67L329.6 66.2L330.1 65.6L330.6 65.1L331.3 64.5L331.9 64L332.5 63.5L333.3 63L333.9 62.6L334.5 62.2L335.1 61.9L335.9 61.5L336.6 61.2L337.3 61L338.1 60.8L338.9 60.7L339.6 60.6L340.4 60.7L341.1 60.8L341.9 61.1L342.6 61.5L343.2 62L343.9 62.6L344.3 63.2L344.7 64L345 64.8L345.3 65.5L345.5 66.2L345.6 67L345.7 67.8L345.6 68.5L345.6 69.2L345.4 70L345.2 70.8L344.9 71.5L344.6 72.1L344.3 72.8L343.9 73.4L343.4 74L342.9 74.6L342.4 75.1L341.7 75.8L341.1 76.2L340.4 76.8L339.7 77.2L339.1 77.7L338.4 78.1L337.7 78.5L337.1 78.9L336.4 79.2L335.6 79.6L334.9 79.9L334.1 80.2Z" fill="none" stroke="rgb(132,132,132)" stroke-width="0.6"/>
<path d="M334.1 78.6L333.4 78.7L332.6 78.7L331.9 78.7L331.1 78.5L330.4 78.1L329.6 77.5L329.1 76.9L328.8 76.2L328.5 75.5L328.4 74.8L328.4 74L328.4 73.2L328.5 72.5L328.6 71.8L328.8 71L329 70.2L329.3 69.5L329.7 68.8L330.1 68L330.6 67.3L331.1 66.6L331.6 66.1L332.3 65.5L332.9 65L333.6 64.5L334.4 64L335.1 63.6L335.8 63.2L336.6 62.9L337.4 62.7L338.1 62.5L338.9 62.4L339.6 62.5L340.4 62.6L341.1 62.9L341.7 63.2L342.3 63.8L342.9 64.4L343.2 65L343.6 65.7L343.8 66.5L344 67.2L344.1 68L344.1 68.8L344 69.5L343.8 70.2L343.5 71L343.2 71.8L342.7 72.5L342.2 73.2L341.6 74L341.1 74.5L340.5 75L339.9 75.5L339.2 76L338.6 76.4L337.9 76.9L337.1 77.3L336.4 77.7L335.6 78.1L334.9 78.3Z" fill="none" stroke="rgb(124,124,124)" stroke-width="0.6"/>
<path d="M334.4 77L333.6 77.1L332.9 77.1L332.1 76.9L331.4 76.5L330.9 76L330.4 75.2L330.1 74.5L330 73.8L330 73L330.1 72.2L330.2 71.5L330.4 70.8L330.7 70L331 69.2L331.5 68.5L332 67.8L332.6 67.1L333.2 66.5L333.9 66L334.6 65.5L335.4 65.1L336.1 64.8L336.8 64.5L337.6 64.3L338.4 64.2L339.1 64.2L339.9 64.4L340.5 64.8L341.1 65.2L341.6 65.8L342 66.5L342.3 67.2L342.4 68L342.4 68.8L342.4 69.5L342.2 70.2L341.9 71L341.5 71.8L341.1 72.4L340.6 73L340.1 73.6L339.4 74.2L338.8 74.8L338.1 75.2L337.4 75.8L336.6 76.2L336 76.5L335.1 76.8Z" fill="none" stroke="rgb(115,115,115)" stroke-width="0.6"/>
<path d="M335.1 75.5L334.4 75.7L333.6 75.7L332.9 75.5L332.1 75L331.7 74.2L331.5 73.5L331.4 72.8L331.5 72L331.7 71.2L332 70.5L332.3 69.8L332.8 69L333.4 68.3L333.9 67.8L334.5 67.2L335.1 66.9L335.8 66.5L336.6 66.2L337.4 66L338.1 66L338.9 66.1L339.6 66.5L340.2 67L340.6 67.8L340.7 68.5L340.7 69.2L340.6 70L340.4 70.7L340 71.5L339.4 72.2L338.9 72.9L338.4 73.4L337.7 74L337.1 74.5L336.4 75L335.6 75.4Z" fill="none" stroke="rgb(107,107,107)" stroke-width="0.6"/>
<path d="M334.6 74.6L333.9 74.6L333.1 74.1L332.8 73.2L332.8 72.5L332.9 71.8L333.2 71L333.5 70.2L334 69.5L334.6 68.9L335.4 68.3L336.1 67.9L336.9 67.7L337.6 67.7L338.3 68L338.9 68.7L339 69.5L338.9 70.2L338.6 71L338.1 71.7L337.6 72.3L337.1 72.9L336.4 73.5L335.9 73.9L335.1 74.4Z" fill="none" stroke="rgb(98,98,98)" stroke-width="0.6"/>
<path d="M334.6 73.6L333.9 73.2L334.2 72.5L334.5 71.8L334.7 71L335.1 70.2L335.6 69.7L336.4 69.4L337.1 69.7L337.1 70.5L336.7 71.2L336.1 71.9L335.5 72.5L335 73.2Z" fill="none" stroke="rgb(90,90,90)" stroke-width="0.6"/>
<ellipse cx="334.4" cy="73.2" rx="1.2" ry="1.6" fill="#fff"/>
<path d="M335.4 98.8L334.6 98.7L333.9 98.5L333.2 98L332.7 97.5L332.1 96.8L331.8 96L331.5 95.2L331.4 94.5L331.3 93.8L331.3 93L331.4 92.2L331.6 91.6L331.9 90.9L332.2 90.2L332.8 89.5L333.4 89L334.1 88.7L334.9 88.6L335.6 88.6L336.4 89L337 89.5L337.6 90.2L338 91L338.3 91.8L338.5 92.5L338.6 93.2L338.6 94L338.5 94.8L338.4 95.5L338.1 96.2L337.8 97L337.4 97.6L336.9 98.1L336.2 98.5L335.4 98.8Z" fill="none" stroke="rgb(150,150,150)" stroke-width="0.6"/>
<path d="M325 67.5C318 66.5 311 66.5 309 70C308 74 311 77.5 316 78C320 78 322 78.5 325 79" fill="none" stroke="rgb(150,150,150)" stroke-width="0.6"/>
<path d="M325 69.5C320 69 314 68.5 312 71C311.5 74 314 75.5 318 75.8C321 76 323 76 325 76.5" fill="none" stroke="rgb(150,150,150)" stroke-width="0.6"/>
<path d="M332 89.5C334 88.5 338 88.5 338.5 91C339 94 337 95 336 96.5C335.5 98 334 98.5 333.5 97C333 95 332 94 331.8 92C331.8 91 331.9 90 332 89.5Z" fill="none" stroke="rgb(150,150,150)" stroke-width="0.6"/>
<path d="M335.4 205.9L334.6 206L333.9 206L333.1 206L332.4 206L331.6 205.9L330.9 205.9L330.1 205.7L329.4 205.6L328.6 205.4L327.9 205.2L327.1 204.9L326.4 204.4L325.6 203.9L325.1 203.4L324.6 202.7L324.1 201.8L323.9 201.1L323.7 200.3L323.5 199.6L323.4 198.8L323.4 198.1L323.3 197.3L323.3 196.6L323.3 195.8L323.3 195.1L323.3 194.3L323.3 193.6L323.3 192.8L323.3 192.1L323.4 191.3L323.5 190.6L323.7 189.8L323.9 189.1L324.3 188.3L324.6 187.7L325.1 186.8L325.6 186.1L326.1 185.4L326.6 184.8L327.1 184.2L327.6 183.6L328.1 183.1L328.6 182.6L329.1 182.1L329.6 181.6L330.1 181.1L330.7 180.6L331.2 180.1L331.8 179.6L332.4 179.1L333.1 178.6L333.9 178.2L334.5 177.8L335.4 177.5L336.1 177.3L336.8 177.1L337.6 177L338.4 176.9L339.1 176.8L339.9 176.7L340.6 176.7L341.4 176.7L342.1 176.6L342.9 176.7L343.6 176.7L344.3 176.8L345.1 177.1L345.9 177.5L346.6 178.1L347.1 178.7L347.5 179.3L347.9 180.1L348.2 180.8L348.5 181.6L348.7 182.3L349 183.1L349.2 183.8L349.4 184.6L349.6 185.3L349.8 186.1L350 186.8L350.1 187.6L350.3 188.3L350.4 189.1L350.4 189.8L350.5 190.6L350.5 191.3L350.4 192.1L350.3 192.8L350.2 193.6L350 194.3L349.7 195.1L349.4 195.8L349.1 196.5L348.6 197.3L348.1 198.1L347.6 198.8L347.1 199.3L346.6 200L346.1 200.5L345.4 201.1L344.9 201.6L344.2 202.1L343.5 202.6L342.9 203L342.1 203.5L341.4 203.8L340.6 204.3L339.9 204.6L339.1 204.9L338.4 205.2L337.6 205.4L336.9 205.6L336.1 205.7Z" fill="none" stroke="rgb(150,150,150)" stroke-width="0.6"/>
<path d="M333.9 204.6L333.1 204.7L332.4 204.8L331.6 204.8L330.9 204.7L330.1 204.5L329.4 204.3L328.6 203.9L328 203.3L327.4 202.6L326.9 201.8L326.6 201.1L326.4 200.4L326.1 199.6L326 198.8L325.9 198.1L325.8 197.3L325.8 196.6L325.8 195.8L325.8 195.1L325.8 194.3L325.9 193.6L326 192.8L326.1 192.1L326.3 191.3L326.5 190.6L326.8 189.8L327.2 189.1L327.6 188.3L328.1 187.6L328.6 186.9L329.1 186.2L329.6 185.7L330.1 185.1L330.6 184.6L331.2 184.1L331.7 183.6L332.3 183.1L333 182.6L333.6 182.1L334.4 181.6L335.1 181.1L335.9 180.7L336.5 180.3L337.4 180L338.1 179.7L338.9 179.4L339.6 179.2L340.4 179.1L341.1 179L341.9 178.9L342.6 179L343.4 179L344.1 179.2L344.9 179.5L345.6 179.8L346.4 180.3L346.9 180.8L347.4 181.4L347.8 182.1L348.2 182.8L348.5 183.6L348.7 184.3L348.9 185.1L349 185.8L349 186.6L349 187.3L348.9 188.1L348.8 188.8L348.6 189.6L348.4 190.3L348.2 191.1L347.9 191.8L347.6 192.6L347.3 193.3L346.9 194.1L346.6 194.8L346.2 195.6L345.7 196.3L345.2 197.1L344.7 197.8L344.1 198.6L343.6 199.2L343.1 199.7L342.4 200.3L341.8 200.8L341.1 201.3L340.4 201.8L339.9 202.2L339.1 202.7L338.4 203.1L337.6 203.5L336.9 203.8L336.1 204.1L335.4 204.3L334.6 204.5Z" fill="rgb(198,198,198)" stroke="rgb(140,140,140)" stroke-width="0.6"/>
<path d="M334.4 202.9L333.6 202.9L332.9 202.9L332.1 202.9L331.4 202.7L330.6 202.5L329.9 202.1L329.2 201.6L328.6 200.9L328.1 200.1L327.9 199.4L327.6 198.7L327.4 197.8L327.3 197.1L327.2 196.3L327.2 195.6L327.2 194.8L327.3 194.1L327.4 193.3L327.5 192.6L327.7 191.8L327.9 191.1L328.2 190.3L328.5 189.6L328.9 188.8L329.4 188.2L329.8 187.6L330.4 186.9L330.9 186.3L331.4 185.7L331.9 185.2L332.6 184.6L333.1 184.1L333.8 183.6L334.4 183.2L335.1 182.7L335.9 182.2L336.5 181.8L337.4 181.5L338.1 181.2L338.9 180.9L339.6 180.7L340.4 180.6L341.1 180.6L341.9 180.6L342.6 180.7L343.3 180.8L344 181.1L344.9 181.5L345.6 182.1L346.1 182.7L346.6 183.3L347 184.1L347.3 184.8L347.5 185.6L347.6 186.3L347.6 187.1L347.6 187.8L347.5 188.6L347.4 189.3L347.2 190.1L347 190.8L346.7 191.6L346.4 192.3L346.1 193L345.7 193.8L345.4 194.5L344.9 195.3L344.4 196.1L343.9 196.8L343.4 197.6L342.9 198.1L342.4 198.7L341.6 199.3L341 199.8L340.4 200.3L339.6 200.8L338.9 201.3L338.1 201.7L337.4 202L336.6 202.3L335.9 202.5L335.1 202.7L334.4 202.8Z" fill="none" stroke="rgb(130,130,130)" stroke-width="0.6"/>
<path d="M335.4 201.1L334.6 201.3L333.9 201.3L333.1 201.3L332.4 201.1L331.6 200.9L330.9 200.5L330.1 199.8L329.6 199.2L329.2 198.3L328.9 197.6L328.8 196.8L328.7 196.1L328.7 195.3L328.7 194.6L328.7 193.8L328.9 193.1L329 192.3L329.2 191.6L329.5 190.8L329.8 190.1L330.2 189.3L330.7 188.6L331.2 187.8L331.8 187.1L332.4 186.5L332.9 186L333.6 185.3L334.2 184.8L334.9 184.4L335.6 183.9L336.4 183.4L337.1 183L337.9 182.7L338.6 182.5L339.4 182.3L340.1 182.2L340.9 182.1L341.6 182.2L342.4 182.3L343.1 182.6L343.9 183L344.6 183.6L345.1 184.1L345.6 184.8L345.9 185.5L346.1 186.3L346.2 187.1L346.2 187.8L346.1 188.6L346 189.3L345.9 190.1L345.6 190.8L345.4 191.6L345 192.3L344.7 193.1L344.4 193.8L343.9 194.6L343.4 195.3L342.9 196.1L342.4 196.8L341.9 197.3L341.4 197.9L340.6 198.6L339.9 199.1L339.1 199.6L338.4 200L337.6 200.4L336.9 200.7L336.1 201.0Z" fill="none" stroke="rgb(120,120,120)" stroke-width="0.6"/>
<path d="M335.6 199.6L334.9 199.8L334.1 199.8L333.4 199.7L332.6 199.5L331.9 199.2L331.2 198.6L330.7 197.8L330.4 197.2L330.1 196.3L330 195.6L330 194.8L330.1 194.1L330.2 193.3L330.3 192.6L330.6 191.8L330.8 191.1L331.2 190.3L331.6 189.6L332.1 188.8L332.6 188.1L333.1 187.5L333.6 187L334.3 186.3L334.9 185.9L335.6 185.4L336.4 184.9L337.1 184.5L337.9 184.2L338.6 183.9L339.4 183.8L340.1 183.7L340.9 183.7L341.6 183.9L342.4 184.1L343.1 184.6L343.6 185.1L344.1 185.8L344.5 186.6L344.6 187.3L344.7 188.1L344.6 188.8L344.5 189.6L344.4 190.3L344.1 191.1L343.9 191.8L343.5 192.6L343.2 193.3L342.7 194.1L342.4 194.7L341.9 195.3L341.4 196L340.9 196.6L340.3 197.1L339.7 197.6L339.1 198.1L338.4 198.5L337.6 198.9L336.9 199.3L336.1 199.5Z" fill="none" stroke="rgb(110,110,110)" stroke-width="0.6"/>
<path d="M335.4 198.4L334.6 198.5L333.9 198.4L333.1 198.2L332.4 197.8L331.9 197.2L331.5 196.3L331.3 195.6L331.3 194.8L331.3 194.1L331.5 193.3L331.6 192.6L331.9 191.8L332.2 191.1L332.6 190.3L333 189.6L333.6 188.8L334.1 188.2L334.6 187.7L335.3 187.1L336 186.6L336.9 186.1L337.6 185.8L338.4 185.5L339.1 185.4L339.9 185.4L340.6 185.4L341.4 185.7L342.1 186.3L342.6 186.8L342.9 187.6L343 188.3L343.1 189.1L343 189.8L342.8 190.6L342.6 191.3L342.4 192L342 192.8L341.6 193.5L341.1 194.3L340.6 195L340.1 195.5L339.6 196L338.9 196.6L338.4 197L337.6 197.5L336.9 197.8L336.1 198.2L335.4 198.3Z" fill="none" stroke="rgb(100,100,100)" stroke-width="0.6"/>
<path d="M335.4 197.1L334.6 197.3L333.9 197.2L333.1 196.9L332.6 196.1L332.4 195.3L332.4 194.6L332.6 193.8L332.8 193.1L333 192.3L333.3 191.6L333.6 191L334 190.3L334.5 189.6L335.1 188.9L335.7 188.3L336.4 187.9L337.1 187.5L337.9 187.2L338.6 187.1L339.4 187.1L340.1 187.3L340.8 187.8L341.2 188.6L341.4 189.3L341.4 190.1L341.3 190.8L341.1 191.5L340.8 192.3L340.4 193.1L339.9 193.8L339.4 194.5L338.9 195L338.2 195.6L337.6 196L336.9 196.5L336.1 196.8Z" fill="none" stroke="rgb(90,90,90)" stroke-width="0.6"/>
<path d="M334.9 196.2L334.1 196.3L333.5 195.6L333.5 194.8L333.7 194.1L334 193.3L334.2 192.6L334.5 191.8L334.9 191.2L335.2 190.6L335.9 189.9L336.6 189.3L337.4 189L338.1 188.8L338.9 188.9L339.4 189.3L339.8 190.1L339.8 190.8L339.7 191.6L339.4 192.3L338.9 193.1L338.4 193.8L337.7 194.3L337.1 194.8L336.4 195.3L335.6 195.8Z" fill="none" stroke="rgb(80,80,80)" stroke-width="0.6"/>
<path d="M336.6 193.4L335.9 193.1L335.8 192.3L336.1 191.6L336.6 191L337.4 190.6L338.1 190.8L338.2 191.6L337.9 192.3L337.4 193L336.7 193.3Z" fill="none" stroke="rgb(70,70,70)" stroke-width="0.6"/>
<ellipse cx="334.4" cy="195.3" rx="1.2" ry="1.8" fill="#fff"/>
<path d="M327 203C320 199 312 199 310.5 203C309.5 208 311 212 316 213C319 214 320 216 322 216.5C326 217 329 215 332 216C335 218 337 220 340 220C344 220 347 217.5 345.5 215.5C344 213 341 212.5 339 213C337 210 335 209 333 209" fill="none" stroke="rgb(150,150,150)" stroke-width="0.6"/>
<path d="M326 205.5C321 202.5 315 202.5 313.5 205C313 208 315 209.5 318.5 210.5C321 211.5 323 213.5 326 213.5C329 213 331 212 333 212.5" fill="none" stroke="rgb(150,150,150)" stroke-width="0.6"/>
<path d="M352.1 345.8L351.4 346L350.6 346L349.9 345.8L349.1 345.4L348.4 344.9L347.8 344.3L347.2 343.6L346.7 342.8L346.2 342.1L345.8 341.3L345.5 340.6L345.1 339.9L344.8 339.1L344.4 338.3L344 337.6L343.6 336.8L343.2 336.1L342.7 335.3L342.3 334.6L341.9 333.9L341.5 333.3L341 332.6L340.5 331.8L340 331.1L339.5 330.3L339 329.6L338.7 328.8L338.3 328.1L338.1 327.3L337.9 326.6L337.7 325.8L337.5 325.1L337.3 324.3L337.2 323.6L337.1 322.8L337 322.1L337 321.3L337 320.6L337.1 319.8L337.1 319.1L337.3 318.3L337.5 317.6L337.7 316.8L338 316.1L338.3 315.3L338.6 314.6L339.1 313.8L339.6 313.1L340.1 312.4L340.6 311.9L341.3 311.3L341.9 310.9L342.6 310.3L343.4 309.9L344.1 309.4L344.8 309.1L345.6 308.6L346.4 308.2L347.1 307.9L347.9 307.6L348.6 307.3L349.4 307.2L350.1 307.1L350.9 307.2L351.6 307.3L352.4 307.6L353.1 308L353.9 308.4L354.6 309L355.2 309.6L355.7 310.1L356.4 310.8L356.9 311.4L357.4 312.1L357.9 312.8L358.4 313.5L358.9 314.3L359.3 315.1L359.6 315.8L360 316.6L360.2 317.3L360.4 318.1L360.6 318.8L360.7 319.6L360.8 320.3L360.8 321.1L360.7 321.8L360.7 322.6L360.6 323.3L360.4 324.1L360.3 324.8L360.1 325.6L360 326.3L359.8 327.1L359.6 327.8L359.4 328.5L359.2 329.3L359 330.1L358.7 330.8L358.5 331.6L358.2 332.3L357.9 333L357.6 333.8L357.3 334.6L357.1 335.3L356.9 336.1L356.7 336.8L356.6 337.6L356.4 338.3L356.3 339.1L356.2 339.8L356 340.6L355.9 341.3L355.6 342L355.4 342.7L355 343.6L354.4 344.3L353.9 344.8L353.3 345.3L352.6 345.7Z" fill="none" stroke="rgb(155,155,155)" stroke-width="0.6"/>
<path d="M351.9 344.3L351.1 344.4L350.4 344.3L349.6 344.1L348.9 343.6L348.4 343.1L347.9 342.4L347.5 341.8L347.1 341.1L346.8 340.3L346.5 339.6L346.3 338.8L346.1 338.1L345.9 337.3L345.7 336.6L345.4 335.8L345 335.1L344.6 334.4L344.1 333.6L343.6 332.8L343.1 332.1L342.7 331.6L342.2 330.8L341.7 330.1L341.2 329.3L340.8 328.6L340.4 327.8L340.1 327.1L339.8 326.3L339.6 325.6L339.4 324.8L339.2 324.1L339.1 323.3L339 322.6L338.9 321.8L338.9 321.1L339 320.3L339 319.6L339.2 318.8L339.4 318.1L339.6 317.3L340 316.6L340.4 315.8L340.8 315.1L341.4 314.3L341.9 313.8L342.6 313.1L343.3 312.6L344.1 312.1L344.9 311.6L345.6 311.2L346.4 310.8L347.1 310.5L347.9 310.2L348.6 310L349.4 309.8L350.1 309.8L350.9 309.8L351.6 310L352.4 310.3L353.1 310.7L353.9 311.2L354.6 311.8L355.1 312.3L355.6 312.8L356.1 313.4L356.6 314L357.1 314.7L357.6 315.5L358.1 316.3L358.5 317.1L358.8 317.8L359 318.6L359.1 319.3L359.2 320.1L359.3 320.8L359.2 321.6L359.2 322.3L359.1 323.1L359 323.8L358.8 324.6L358.7 325.3L358.5 326.1L358.3 326.8L358.1 327.6L357.9 328.3L357.6 329L357.4 329.7L357.1 330.4L356.9 331.1L356.6 331.8L356.3 332.6L356 333.3L355.8 334.1L355.7 334.8L355.5 335.6L355.4 336.3L355.4 337.1L355.3 337.8L355.2 338.6L355.1 339.3L354.9 340.1L354.7 340.8L354.5 341.6L354.1 342.3L353.6 343L353.1 343.6L352.5 344.1Z" fill="none" stroke="rgb(150,150,150)" stroke-width="0.6"/>
<path d="M351.4 342.9L350.6 342.9L349.9 342.6L349.2 342.1L348.6 341.3L348.2 340.6L347.9 339.8L347.7 339.1L347.5 338.3L347.4 337.6L347.3 336.8L347.3 336.1L347.2 335.3L347 334.6L346.8 333.8L346.4 333.1L345.9 332.4L345.5 331.8L344.9 331.1L344.5 330.6L343.9 329.8L343.4 329.1L342.9 328.3L342.5 327.6L342.1 326.9L341.8 326.1L341.5 325.3L341.3 324.6L341.1 323.8L341 323.1L340.9 322.3L340.8 321.6L340.9 320.8L340.9 320.1L341.1 319.3L341.3 318.6L341.6 317.8L341.9 317.2L342.3 316.6L342.8 315.8L343.4 315.1L344 314.6L344.6 314.1L345.4 313.6L346.1 313.1L346.8 312.8L347.6 312.5L348.4 312.2L349.1 312.1L349.9 312.1L350.6 312.1L351.4 312.3L352.1 312.6L352.9 313L353.6 313.5L354.3 314.1L354.8 314.6L355.4 315.3L355.8 315.8L356.4 316.6L356.8 317.3L357.1 318.1L357.4 318.8L357.6 319.6L357.7 320.3L357.7 321.1L357.7 321.8L357.7 322.6L357.6 323.3L357.4 324.1L357.3 324.8L357.1 325.6L356.9 326.3L356.6 327L356.4 327.8L356.1 328.4L355.8 329.3L355.5 330.1L355.1 330.7L354.8 331.6L354.5 332.3L354.4 333.1L354.3 333.8L354.2 334.6L354.2 335.3L354.2 336.1L354.2 336.8L354.2 337.6L354.1 338.3L354 339.1L353.8 339.8L353.6 340.6L353.3 341.3L352.7 342.1L352.1 342.5Z" fill="none" stroke="rgb(145,145,145)" stroke-width="0.6"/>
<path d="M348.4 330.8L347.6 330.8L346.9 330.8L346.1 330.6L345.4 330.5L344.6 330.2L343.9 329.8L343.1 329.3L342.5 328.8L342 328.3L341.4 327.6L340.9 326.8L340.5 326.1L340.1 325.4L339.8 324.6L339.5 323.8L339.3 323.1L339.1 322.3L339 321.6L338.9 320.8L338.8 320.1L338.7 319.3L338.7 318.6L338.7 317.8L338.7 317.1L338.7 316.3L338.8 315.6L338.9 314.8L339.1 314.1L339.3 313.3L339.5 312.6L339.8 311.8L340.1 311.2L340.6 310.3L341.1 309.6L341.6 309.1L342.1 308.6L342.6 308.1L343.4 307.6L344.1 307.1L344.9 306.8L345.6 306.6L346.4 306.4L347.1 306.3L347.9 306.3L348.6 306.4L349.4 306.6L350.1 306.8L350.8 307.1L351.6 307.4L352.3 307.8L353.1 308.3L353.8 308.8L354.4 309.2L355.1 309.8L355.6 310.3L356.1 310.9L356.6 311.6L357.1 312.3L357.4 313L357.7 313.8L357.9 314.6L358.1 315.3L358.2 316.1L358.3 316.8L358.3 317.6L358.3 318.3L358.3 319.1L358.3 319.8L358.2 320.6L358.1 321.3L357.9 322.1L357.8 322.8L357.5 323.6L357.3 324.3L357 325.1L356.6 325.7L356.2 326.6L355.6 327.3L355.1 327.9L354.6 328.4L353.9 329L353.1 329.5L352.5 329.8L351.6 330.2L350.9 330.4L350.1 330.6L349.4 330.7L348.6 330.8Z" fill="rgb(205,205,205)" stroke="rgb(145,145,145)" stroke-width="0.6"/>
<path d="M349.1 329.3L348.4 329.4L347.6 329.4L346.9 329.3L346.1 329.1L345.4 328.8L344.6 328.5L344 328.1L343.4 327.6L342.9 327.1L342.4 326.4L342 325.8L341.5 325.1L341.2 324.3L340.9 323.6L340.6 322.9L340.4 322.1L340.2 321.3L340.1 320.6L340 319.8L339.9 319.1L339.8 318.3L339.8 317.6L339.9 316.8L339.9 316.1L340.1 315.3L340.2 314.6L340.4 313.8L340.7 313.1L341 312.3L341.4 311.6L341.9 310.8L342.4 310.2L342.9 309.7L343.6 309.1L344.4 308.6L345.1 308.2L345.9 308L346.6 307.8L347.4 307.7L348.1 307.8L348.9 307.9L349.6 308L350.4 308.3L351.1 308.6L351.9 309L352.6 309.5L353.4 310L354 310.6L354.6 311.1L355.1 311.7L355.6 312.3L356.1 313.1L356.4 313.8L356.6 314.5L356.9 315.3L357 316.1L357.1 316.8L357.1 317.6L357.1 318.3L357.1 319.1L357.1 319.8L357 320.6L356.9 321.3L356.7 322.1L356.5 322.8L356.3 323.6L356 324.3L355.6 325L355.1 325.8L354.6 326.5L354.1 327L353.5 327.6L352.9 328L352.1 328.4L351.4 328.8L350.6 329L349.9 329.2Z" fill="none" stroke="rgb(136,136,136)" stroke-width="0.6"/>
<path d="M350.1 327.8L349.4 328L348.6 328L347.9 328L347.1 327.9L346.4 327.7L345.6 327.4L344.9 326.9L344.1 326.3L343.7 325.8L343.1 325.1L342.8 324.6L342.4 323.9L342 323.1L341.7 322.3L341.5 321.6L341.3 320.8L341.2 320.1L341.1 319.3L341 318.6L341 317.8L341.1 317.1L341.1 316.3L341.3 315.6L341.4 314.8L341.6 314.1L342 313.3L342.4 312.6L342.9 311.8L343.4 311.2L344.1 310.6L344.6 310.1L345.4 309.7L346.1 309.4L346.9 309.3L347.6 309.2L348.4 309.2L349.1 309.4L349.9 309.6L350.6 309.9L351.4 310.3L352.1 310.7L352.9 311.3L353.5 311.8L354.1 312.5L354.6 313.2L355.1 314.1L355.4 314.8L355.6 315.6L355.8 316.3L355.9 317.1L355.9 317.8L355.9 318.6L355.9 319.3L355.9 320.1L355.8 320.8L355.6 321.6L355.4 322.3L355.2 323.1L354.9 323.8L354.5 324.6L354 325.3L353.4 326L352.8 326.6L352.1 327L351.4 327.4L350.6 327.7Z" fill="none" stroke="rgb(128,128,128)" stroke-width="0.6"/>
<path d="M349.9 326.6L349.1 326.7L348.4 326.7L347.6 326.7L346.9 326.5L346.1 326.1L345.4 325.7L344.7 325.1L344.1 324.4L343.8 323.8L343.4 323.2L343 322.3L342.7 321.6L342.5 320.8L342.4 320.1L342.3 319.3L342.2 318.6L342.2 317.8L342.3 317.1L342.4 316.3L342.5 315.6L342.8 314.8L343.1 314.1L343.5 313.3L344.1 312.6L344.6 312.1L345.3 311.6L345.9 311.2L346.6 310.9L347.4 310.8L348.1 310.8L348.9 310.9L349.6 311L350.3 311.3L351.1 311.7L351.9 312.2L352.5 312.8L353.1 313.5L353.6 314.2L354.1 315.1L354.3 315.8L354.5 316.6L354.7 317.3L354.7 318.1L354.8 318.8L354.8 319.6L354.7 320.3L354.6 321.1L354.4 321.8L354.2 322.6L353.9 323.2L353.4 324.1L352.9 324.8L352.4 325.3L351.7 325.8L350.9 326.3L350.1 326.5Z" fill="none" stroke="rgb(120,120,120)" stroke-width="0.6"/>
<path d="M349.9 325.4L349.1 325.5L348.4 325.5L347.6 325.4L346.9 325.1L346.1 324.7L345.4 324.1L344.9 323.4L344.5 322.8L344.1 322.2L343.8 321.3L343.6 320.6L343.5 319.8L343.4 319.1L343.4 318.3L343.4 317.6L343.5 316.8L343.7 316.1L344 315.3L344.4 314.6L344.9 313.9L345.4 313.4L346.1 312.9L346.9 312.6L347.6 312.4L348.4 312.4L349.1 312.5L349.9 312.8L350.6 313.1L351.2 313.6L351.8 314.1L352.4 314.8L352.8 315.6L353.1 316.3L353.4 317.1L353.5 317.8L353.6 318.6L353.6 319.3L353.6 320.1L353.5 320.8L353.3 321.6L353.1 322.3L352.7 323.1L352.2 323.8L351.6 324.4L350.9 324.9L350.1 325.3Z" fill="none" stroke="rgb(112,112,112)" stroke-width="0.6"/>
<path d="M349.1 324.3L348.4 324.4L347.6 324.2L346.9 323.9L346.2 323.3L345.6 322.7L345.3 322.1L344.9 321.3L344.7 320.6L344.6 319.8L344.5 319.1L344.5 318.3L344.6 317.6L344.8 316.8L345.1 316.1L345.6 315.3L346.1 314.8L346.9 314.3L347.6 314.1L348.4 314L349.1 314.1L349.9 314.4L350.5 314.8L351.1 315.3L351.6 316.1L352 316.8L352.3 317.6L352.4 318.3L352.5 319.1L352.5 319.8L352.4 320.6L352.3 321.3L352 322.1L351.5 322.8L350.9 323.5L350.1 324L349.4 324.3Z" fill="none" stroke="rgb(104,104,104)" stroke-width="0.6"/>
<path d="M349.4 323.1L348.6 323.3L347.9 323.2L347.2 322.8L346.6 322.3L346.1 321.6L345.8 320.8L345.6 320.1L345.6 319.3L345.6 318.6L345.7 317.8L346 317.1L346.6 316.3L347.1 315.8L347.9 315.6L348.6 315.5L349.4 315.7L350.1 316.2L350.6 316.8L351.1 317.6L351.3 318.3L351.4 319.1L351.4 319.8L351.4 320.6L351.1 321.2L350.7 322.1L350.1 322.7L349.5 323.1Z" fill="none" stroke="rgb(96,96,96)" stroke-width="0.6"/>
<path d="M349.1 322.1L348.4 322.2L347.6 321.9L347.1 321.4L346.8 320.8L346.6 320.1L346.6 319.3L346.7 318.6L347 317.8L347.6 317.1L348.4 316.9L349.1 317.1L349.7 317.6L350.1 318.2L350.4 319.1L350.4 319.8L350.3 320.6L350 321.3L349.4 321.9Z" fill="none" stroke="rgb(88,88,88)" stroke-width="0.6"/>
<path d="M348.9 321.1L348.1 321.2L347.7 320.6L347.5 319.8L347.6 319.1L348.1 318.3L348.9 318.3L349.4 319.1L349.4 319.8L349.3 320.6Z" fill="none" stroke="rgb(80,80,80)" stroke-width="0.6"/>
<ellipse cx="348.4" cy="320.5" rx="1.5" ry="1.8" fill="#fff"/>
<path d="M330.6 321.4L329.9 321.5L329.1 321.5L328.4 321.5L327.6 321.4L326.9 321.3L326.1 321.1L325.4 320.6L325.6 319.8L326.4 319.4L327.1 319.2L327.9 319.1L328.6 319.1L329.4 319.1L330.1 319.1L330.9 319.3L331.6 319.5L332.4 320L332.1 320.8L331.4 321.2Z" fill="none" stroke="rgb(150,150,150)" stroke-width="0.6"/>
<path d="M459.1 93.2L458.3 93.3L457.6 93.3L456.8 93.4L456.1 93.3L455.3 93.2L454.6 93L453.8 92.9L453.1 92.7L452.3 92.4L451.6 92.2L450.8 91.9L450.1 91.7L449.3 91.5L448.6 91.3L447.8 91.1L447.1 90.8L446.3 90.6L445.6 90.3L444.8 89.9L444.1 89.5L443.3 89L442.6 88.4L442.1 87.9L441.6 87.3L441.1 86.7L440.8 85.9L440.6 85.2L440.4 84.4L440.3 83.7L440.2 82.9L440.2 82.2L440.2 81.4L440.3 80.7L440.4 79.9L440.5 79.2L440.6 78.4L440.8 77.7L441 76.9L441.2 76.2L441.5 75.4L441.8 74.7L442.2 73.9L442.6 73.3L443 72.7L443.5 71.9L444.1 71.3L444.6 70.8L445.3 70.2L446.1 69.7L446.8 69.2L447.5 68.9L448.3 68.6L449.1 68.3L449.8 68.1L450.6 67.8L451.3 67.6L452.1 67.4L452.8 67.2L453.6 67L454.3 66.9L455.1 66.8L455.8 66.7L456.6 66.6L457.3 66.6L458.1 66.6L458.8 66.6L459.6 66.5L460.3 66.6L461.1 66.6L461.8 66.6L462.6 66.6L463.3 66.6L464.1 66.6L464.8 66.7L465.6 66.7L466.3 66.8L467.1 66.9L467.8 67.1L468.6 67.3L469.3 67.5L470.1 67.8L470.8 68.1L471.6 68.5L472.3 68.9L473.1 69.4L473.7 69.9L474.3 70.4L474.9 70.9L475.5 71.7L476 72.4L476.3 73.1L476.6 73.8L476.7 74.7L476.8 75.4L476.8 76.2L476.8 76.9L476.8 77.7L476.7 78.4L476.7 79.2L476.6 79.9L476.5 80.7L476.4 81.4L476.2 82.2L475.9 82.9L475.6 83.7L475.2 84.4L474.8 85L474.3 85.7L473.8 86.2L473.1 86.9L472.4 87.4L471.8 87.8L471.1 88.3L470.3 88.8L469.6 89.2L468.8 89.6L468.1 90L467.3 90.4L466.6 90.7L465.8 91L465.1 91.4L464.3 91.6L463.6 91.9L462.8 92.2L462.1 92.4L461.3 92.6L460.6 92.8L459.8 93L459.1 93.2Z" fill="rgb(206,206,206)" stroke="rgb(145,145,145)" stroke-width="0.6"/>
<path d="M458.1 91.4L457.3 91.5L456.6 91.5L455.8 91.5L455.1 91.4L454.3 91.2L453.6 91.1L452.8 90.9L452.1 90.7L451.3 90.4L450.6 90.2L449.8 90L449.1 89.8L448.3 89.5L447.6 89.3L446.8 89L446.1 88.7L445.3 88.2L444.6 87.7L444 87.2L443.3 86.4L442.8 85.7L442.5 84.9L442.3 84.2L442.1 83.4L442 82.7L442 81.9L442.1 81.2L442.1 80.4L442.3 79.7L442.4 78.9L442.6 78.2L442.8 77.4L443.1 76.7L443.4 75.9L443.8 75.2L444.2 74.4L444.7 73.7L445.3 72.9L445.8 72.4L446.6 71.7L447.3 71.2L448.1 70.7L448.8 70.3L449.6 69.9L450.3 69.7L451 69.4L451.7 69.2L452.5 68.9L453.3 68.7L454.1 68.5L454.8 68.4L455.6 68.3L456.3 68.2L457.1 68.1L457.8 68.1L458.6 68L459.3 68L460.1 68L460.8 68L461.6 68L462.3 68L463.1 68.1L463.8 68.1L464.6 68.2L465.3 68.2L466.1 68.4L466.8 68.5L467.6 68.7L468.3 68.9L468.9 69.2L469.8 69.5L470.5 69.9L471.1 70.3L471.8 70.8L472.4 71.4L473.1 72.1L473.6 72.9L474 73.7L474.2 74.4L474.4 75.2L474.5 75.9L474.5 76.7L474.5 77.4L474.5 78.2L474.4 78.9L474.4 79.7L474.3 80.4L474.1 81.2L474 81.9L473.7 82.7L473.4 83.4L472.9 84.2L472.3 84.9L471.8 85.5L471.1 86.1L470.4 86.7L469.6 87.2L468.8 87.7L468.1 88.1L467.3 88.5L466.6 88.9L465.8 89.2L465.1 89.5L464.3 89.8L463.6 90.1L462.8 90.3L462.1 90.5L461.3 90.8L460.6 90.9L459.8 91.1L459.1 91.3L458.3 91.4Z" fill="none" stroke="rgb(135,135,135)" stroke-width="0.6"/>
<path d="M459.1 89.4L458.3 89.5L457.6 89.6L456.8 89.6L456.1 89.6L455.3 89.6L454.6 89.5L453.8 89.4L453.1 89.2L452.3 89L451.6 88.8L450.8 88.6L450.1 88.4L449.3 88.1L448.6 87.8L447.8 87.5L447.2 87.2L446.6 86.8L445.8 86.2L445.3 85.7L444.8 85L444.4 84.2L444.2 83.4L444 82.7L444 81.9L444 81.2L444.1 80.4L444.3 79.7L444.5 78.9L444.7 78.2L445 77.4L445.4 76.7L445.8 75.9L446.3 75.2L446.8 74.5L447.3 73.9L447.8 73.4L448.4 72.9L449.1 72.4L449.8 72L450.6 71.6L451.3 71.2L452 70.9L452.8 70.6L453.6 70.3L454.2 70.2L455.1 70L455.8 69.8L456.6 69.7L457.3 69.6L458.1 69.5L458.8 69.5L459.6 69.5L460.3 69.4L461.1 69.4L461.8 69.4L462.6 69.5L463.3 69.5L464.1 69.6L464.8 69.7L465.6 69.8L466.3 70L467.1 70.2L467.8 70.5L468.6 70.9L469.3 71.3L470 71.9L470.6 72.4L471.1 73L471.5 73.7L471.8 74.3L472.1 75L472.2 75.9L472.3 76.7L472.3 77.4L472.3 78.2L472.3 78.9L472.2 79.7L472.1 80.4L471.9 81.2L471.6 81.9L471.3 82.7L470.9 83.4L470.3 84.1L469.8 84.7L469.3 85.2L468.6 85.7L468.1 86.1L467.3 86.6L466.6 87L465.8 87.4L465.1 87.7L464.3 88L463.6 88.3L462.8 88.6L462.1 88.8L461.3 89L460.6 89.1L459.8 89.3Z" fill="none" stroke="rgb(126,126,126)" stroke-width="0.6"/>
<path d="M459.3 87.7L458.6 87.8L457.8 87.8L457.1 87.9L456.3 87.9L455.6 87.8L454.8 87.8L454.1 87.7L453.3 87.5L452.6 87.3L451.9 87.2L451.1 86.9L450.4 86.7L449.6 86.3L448.8 85.9L448.1 85.4L447.6 84.9L447.1 84.4L446.6 83.7L446.3 82.9L446.2 82.2L446.2 81.4L446.2 80.7L446.4 79.9L446.6 79.2L446.9 78.4L447.3 77.7L447.7 76.9L448.2 76.2L448.8 75.5L449.3 74.9L449.9 74.4L450.5 73.9L451.2 73.4L452.1 72.9L452.8 72.5L453.6 72.2L454.2 71.9L455 71.7L455.8 71.4L456.6 71.2L457.3 71.1L458.1 71L458.8 70.9L459.6 70.9L460.3 70.8L461.1 70.8L461.8 70.8L462.6 70.9L463.3 71L464.1 71.1L464.8 71.2L465.6 71.5L466.3 71.7L467.1 72.1L467.8 72.6L468.5 73.2L469.1 73.7L469.5 74.4L469.9 75.2L470.1 75.9L470.2 76.7L470.3 77.4L470.3 78.2L470.2 78.9L470.1 79.7L469.9 80.4L469.7 81.2L469.3 81.9L468.9 82.7L468.3 83.4L467.8 83.9L467.3 84.4L466.6 84.9L466.1 85.3L465.3 85.8L464.6 86.2L463.8 86.5L463.1 86.8L462.3 87L461.6 87.2L460.8 87.4L460.1 87.6Z" fill="none" stroke="rgb(116,116,116)" stroke-width="0.6"/>
<path d="M459.1 86.2L458.3 86.2L457.6 86.2L456.8 86.2L456.1 86.2L455.3 86.1L454.6 86L453.8 85.8L453.1 85.6L452.3 85.3L451.6 85L450.8 84.7L450.1 84.2L449.6 83.7L449.1 82.9L448.8 82.2L448.7 81.4L448.7 80.7L448.8 79.9L449 79.2L449.4 78.4L449.8 77.7L450.3 77L450.8 76.4L451.3 75.8L452.1 75.2L452.7 74.7L453.5 74.2L454.3 73.7L455.1 73.3L455.8 73L456.6 72.8L457.3 72.6L458.1 72.4L458.8 72.3L459.6 72.2L460.3 72.2L461.1 72.2L461.8 72.2L462.6 72.3L463.3 72.4L464.1 72.6L464.8 72.9L465.6 73.2L466.2 73.7L466.8 74.1L467.3 74.7L467.8 75.4L468.1 76.2L468.3 76.9L468.4 77.7L468.3 78.4L468.2 79.2L468.1 79.9L467.8 80.6L467.4 81.4L466.9 82.2L466.3 82.9L465.8 83.4L465.2 83.9L464.6 84.4L463.8 84.8L463.1 85.2L462.3 85.5L461.6 85.7L460.8 85.9L460.1 86L459.3 86.1Z" fill="none" stroke="rgb(107,107,107)" stroke-width="0.6"/>
<path d="M459.6 84.7L458.8 84.7L458.1 84.7L457.3 84.7L456.6 84.6L455.8 84.5L455.1 84.3L454.3 84.1L453.6 83.7L452.8 83.2L452.1 82.7L451.6 81.9L451.4 81.2L451.3 80.4L451.4 79.7L451.6 78.9L452 78.2L452.5 77.4L453.1 76.7L453.6 76.2L454.2 75.7L455 75.2L455.8 74.7L456.6 74.3L457.3 74L458.1 73.8L458.8 73.7L459.6 73.6L460.3 73.5L461.1 73.5L461.8 73.6L462.6 73.7L463.3 73.9L464.1 74.2L464.8 74.7L465.4 75.2L466 75.9L466.3 76.5L466.5 77.4L466.6 78.2L466.5 78.9L466.3 79.7L466.1 80.4L465.6 81.2L465.1 81.9L464.6 82.4L464 82.9L463.3 83.4L462.6 83.8L461.8 84.1L461.1 84.4L460.3 84.5L459.6 84.7Z" fill="none" stroke="rgb(98,98,98)" stroke-width="0.6"/>
<path d="M460.3 83.2L459.6 83.3L458.8 83.3L458.1 83.3L457.3 83.2L456.6 83.1L455.8 82.8L455.1 82.4L454.5 81.9L453.9 81.2L453.7 80.4L453.6 79.7L453.8 79L454.2 78.2L454.7 77.4L455.3 76.8L456.1 76.2L456.8 75.7L457.5 75.4L458.2 75.2L459.1 74.9L459.8 74.8L460.6 74.8L461.3 74.8L462.1 74.9L462.8 75.2L463.6 75.5L464.3 76.2L464.8 76.9L465 77.7L465 78.4L464.9 79.2L464.7 79.9L464.3 80.5L463.8 81.2L463.3 81.6L462.6 82.2L461.8 82.6L461.1 82.9L460.3 83.2Z" fill="none" stroke="rgb(88,88,88)" stroke-width="0.6"/>
<path d="M459.6 81.9L458.8 82L458.1 81.9L457.3 81.8L456.6 81.4L456 80.9L455.6 80.2L455.6 79.4L455.8 78.7L456.3 77.9L456.8 77.4L457.5 76.9L458.3 76.5L459.1 76.3L459.8 76.1L460.6 76L461.3 76L462.1 76.2L462.8 76.6L463.3 77.1L463.7 77.9L463.7 78.7L463.4 79.4L463.1 80L462.6 80.6L461.8 81.1L461.1 81.5L460.3 81.8Z" fill="none" stroke="rgb(79,79,79)" stroke-width="0.6"/>
<path d="M460.1 80.4L459.3 80.6L458.6 80.6L457.8 80.4L457.3 79.9L457.3 79.2L457.8 78.5L458.6 78L459.3 77.7L460 77.4L460.8 77.2L461.6 77.3L462.2 77.7L462.5 78.4L462.2 79.2L461.6 79.7L460.8 80.1L460.1 80.4Z" fill="none" stroke="rgb(70,70,70)" stroke-width="0.6"/>
<ellipse cx="461.5" cy="78.3" rx="2" ry="1.5" fill="#fff"/>
<path d="M435.6 121.9L434.8 122L434.1 121.8L433.3 121.5L432.6 120.9L432.1 120.2L431.7 119.4L431.4 118.7L431.3 117.9L431.2 117.2L431.1 116.4L431.1 115.7L431.2 114.9L431.3 114.2L431.4 113.4L431.5 112.7L431.7 111.9L431.9 111.2L432.2 110.4L432.4 109.7L432.8 108.9L433.1 108.2L433.6 107.4L434 106.7L434.5 105.9L435.1 105.2L435.5 104.7L436.1 103.9L436.5 103.4L437.1 102.8L437.6 102.3L438.1 101.7L438.7 101.2L439.3 100.7L439.9 100.2L440.6 99.7L441.3 99.2L442 98.9L442.8 98.6L443.5 98.4L444.3 98.3L445.1 98.3L445.8 98.5L446.6 98.8L447.3 99.4L447.8 99.9L448.3 100.7L448.7 101.4L448.9 102.2L449.1 102.9L449.2 103.7L449.2 104.4L449.2 105.2L449.2 105.9L449.1 106.7L448.9 107.4L448.8 108.2L448.6 108.9L448.3 109.7L448.1 110.4L447.7 111.2L447.3 111.9L446.9 112.7L446.4 113.4L445.9 114.2L445.3 114.9L444.8 115.6L444.3 116.1L443.8 116.7L443.3 117.2L442.8 117.6L442.2 118.2L441.6 118.7L441.1 119.1L440.3 119.7L439.6 120.2L438.8 120.7L438.1 121.1L437.4 121.4L436.6 121.7L435.8 121.9Z" fill="rgb(212,212,212)" stroke="rgb(150,150,150)" stroke-width="0.6"/>
<path d="M436.3 119.7L435.6 119.7L434.8 119.5L434.1 119L433.6 118.4L433.2 117.7L432.9 116.9L432.8 116.2L432.8 115.4L432.8 114.7L432.9 113.9L433 113.2L433.1 112.4L433.3 111.7L433.6 110.9L433.8 110.2L434.1 109.4L434.5 108.7L434.9 107.9L435.3 107.3L435.7 106.7L436.2 105.9L436.8 105.2L437.2 104.7L437.8 104L438.3 103.5L438.9 102.9L439.5 102.4L440.1 101.9L440.8 101.5L441.6 101L442.3 100.7L443.1 100.5L443.8 100.5L444.6 100.5L445.3 100.8L446.1 101.3L446.6 101.8L447 102.7L447.3 103.4L447.5 104.2L447.5 104.9L447.6 105.7L447.5 106.4L447.4 107.2L447.3 107.9L447.1 108.7L446.9 109.4L446.6 110.2L446.3 110.8L445.9 111.7L445.4 112.4L444.9 113.2L444.4 113.9L443.8 114.6L443.3 115.2L442.8 115.8L442.3 116.3L441.6 116.9L441.1 117.4L440.3 117.9L439.6 118.4L438.8 118.8L438.1 119.2L437.4 119.4L436.6 119.6Z" fill="none" stroke="rgb(142,142,142)" stroke-width="0.6"/>
<path d="M437.3 117.4L436.6 117.4L435.9 117.2L435.3 116.7L434.8 115.9L434.6 115.2L434.5 114.4L434.6 113.7L434.6 112.9L434.8 112.2L435 111.4L435.2 110.7L435.5 109.9L435.9 109.2L436.3 108.4L436.7 107.7L437.2 106.9L437.8 106.2L438.3 105.7L438.8 105.1L439.5 104.4L440.2 103.9L440.8 103.5L441.6 103.1L442.3 102.8L443.1 102.7L443.8 102.8L444.5 103.2L445.1 103.6L445.5 104.4L445.7 105.2L445.9 105.9L445.9 106.7L445.8 107.4L445.7 108.2L445.5 108.9L445.2 109.7L444.9 110.4L444.6 111.1L444.1 111.9L443.6 112.7L443.1 113.4L442.6 114.2L442.1 114.8L441.6 115.4L441 115.9L440.3 116.4L439.6 116.8L438.8 117.1L438.1 117.3Z" fill="none" stroke="rgb(134,134,134)" stroke-width="0.6"/>
<path d="M439.8 115.4L439.1 115.6L438.3 115.5L437.6 115.3L436.8 114.7L436.5 113.9L436.4 113.2L436.4 112.4L436.5 111.7L436.7 110.9L437 110.2L437.3 109.5L437.8 108.7L438.3 107.9L438.8 107.2L439.3 106.7L439.9 106.2L440.6 105.7L441.3 105.3L442.1 105.1L442.8 105.2L443.5 105.7L443.9 106.4L444.1 107.2L444.1 107.9L444 108.7L443.8 109.4L443.5 110.2L443.1 110.9L442.7 111.7L442.2 112.4L441.8 113.1L441.3 113.9L440.8 114.7L440.3 115.1Z" fill="none" stroke="rgb(126,126,126)" stroke-width="0.6"/>
<path d="M439.6 114.4L439.1 113.7L438.6 113L438.2 112.2L438.1 111.4L438.3 110.7L438.6 109.9L439.1 109.2L439.6 108.6L440.3 107.9L441 107.7L441.8 107.8L442.2 108.4L442.2 109.2L442 109.9L441.7 110.7L441.3 111.3L440.9 111.9L440.4 112.7L440.3 113.4L440.1 114.2Z" fill="none" stroke="rgb(118,118,118)" stroke-width="0.6"/>
<ellipse cx="439.8" cy="114" rx="1" ry="1.3" fill="#fff"/>
<path d="M465.1 201.5L464.3 201.5L463.6 201.5L462.8 201.4L462.1 201.3L461.3 201L460.6 200.6L459.8 200L459.3 199.4L458.8 198.7L458.4 197.9L458.1 197.2L457.9 196.4L457.8 195.7L457.8 194.9L457.8 194.2L457.9 193.4L458.1 192.7L458.3 191.9L458.5 191.2L458.8 190.6L459.2 189.7L459.7 188.9L460.3 188.2L460.8 187.6L461.3 187.1L462.1 186.5L462.8 186L463.6 185.5L464.3 185.1L465.1 184.8L465.8 184.6L466.6 184.4L467.3 184.3L468.1 184.4L468.8 184.5L469.5 184.7L470.3 185.1L471 185.7L471.6 186.2L472 186.9L472.4 187.7L472.7 188.4L472.9 189.2L473 189.9L473 190.7L473.1 191.4L473 192.2L472.9 192.9L472.8 193.7L472.7 194.4L472.4 195.2L472.2 195.9L471.8 196.7L471.4 197.4L470.8 198.2L470.3 198.8L469.6 199.4L469.1 199.9L468.3 200.4L467.7 200.7L466.8 201.1L466.1 201.3L465.3 201.4Z" fill="rgb(150,150,150)" stroke="rgb(90,90,90)" stroke-width="0.8"/>
<path d="M464.6 200.7L463.8 200.7L463.1 200.7L462.3 200.5L461.6 200.2L460.8 199.8L460.1 199.2L459.6 198.5L459.1 197.7L458.8 196.9L458.6 196.2L458.4 195.4L458.4 194.7L458.4 193.9L458.5 193.2L458.7 192.4L458.9 191.7L459.2 190.9L459.6 190.3L460.1 189.5L460.6 188.8L461.1 188.2L461.6 187.7L462.1 187.2L462.8 186.7L463.6 186.3L464.2 185.9L465.1 185.6L465.8 185.4L466.6 185.3L467.3 185.3L468.1 185.4L468.8 185.6L469.5 185.9L470.2 186.4L470.7 186.9L471.3 187.7L471.6 188.4L471.9 189.2L472.1 189.9L472.2 190.7L472.2 191.4L472.2 192.2L472.1 192.9L472 193.7L471.8 194.4L471.6 195.2L471.3 195.9L470.9 196.7L470.4 197.4L469.8 198.2L469.3 198.7L468.6 199.2L467.9 199.7L467.1 200.1L466.3 200.4L465.6 200.6L464.8 200.7Z" fill="none" stroke="rgb(80,80,80)" stroke-width="0.8"/>
<path d="M464.8 200L464.1 200L463.3 199.9L462.6 199.8L461.8 199.5L461.1 199L460.4 198.4L459.8 197.7L459.4 196.9L459.2 196.2L459 195.4L459 194.7L459 193.9L459.1 193.2L459.2 192.4L459.5 191.7L459.8 191L460.2 190.2L460.7 189.4L461.3 188.7L461.8 188.2L462.4 187.7L463.1 187.3L463.8 186.8L464.6 186.5L465.3 186.3L466.1 186.1L466.8 186.1L467.6 186.2L468.3 186.4L469 186.7L469.7 187.2L470.3 187.9L470.8 188.7L471.1 189.4L471.3 190.2L471.4 190.9L471.5 191.7L471.5 192.4L471.4 193.2L471.2 193.9L471.1 194.6L470.8 195.3L470.5 195.9L470.1 196.7L469.6 197.4L469.1 197.9L468.4 198.4L467.8 198.9L467.1 199.3L466.3 199.6L465.6 199.8Z" fill="none" stroke="rgb(70,70,70)" stroke-width="0.8"/>
<path d="M465.3 199.2L464.6 199.3L463.8 199.3L463.1 199.2L462.3 199L461.6 198.5L460.9 197.9L460.3 197.2L459.9 196.4L459.7 195.7L459.6 194.9L459.5 194.2L459.6 193.4L459.7 192.7L460 191.9L460.3 191.2L460.7 190.4L461.2 189.7L461.8 189L462.4 188.4L463.1 188L463.8 187.5L464.5 187.2L465.3 187L466.1 186.9L466.8 186.9L467.6 187L468.3 187.3L469 187.7L469.5 188.2L470 188.9L470.4 189.7L470.6 190.4L470.8 191.2L470.8 191.9L470.8 192.7L470.7 193.4L470.5 194.2L470.3 194.9L469.9 195.7L469.4 196.4L468.8 197.2L468.3 197.7L467.7 198.2L467.1 198.6L466.3 198.9L465.6 199.2Z" fill="none" stroke="rgb(60,60,60)" stroke-width="0.8"/>
<path d="M465.6 198.5L464.8 198.6L464.1 198.6L463.3 198.5L462.6 198.3L461.9 197.9L461.3 197.4L460.8 196.8L460.4 195.9L460.2 195.2L460.1 194.4L460.1 193.7L460.3 192.9L460.5 192.2L460.8 191.4L461.2 190.7L461.7 189.9L462.3 189.3L463 188.7L463.8 188.2L464.6 187.9L465.3 187.7L466.1 187.6L466.8 187.6L467.6 187.8L468.3 188.2L468.9 188.7L469.5 189.4L469.8 190.2L470 190.9L470.1 191.7L470.2 192.4L470.1 193.2L469.9 193.9L469.7 194.7L469.3 195.4L468.9 196.2L468.3 196.9L467.6 197.4L467.1 197.9L466.4 198.2L465.7 198.4Z" fill="none" stroke="rgb(50,50,50)" stroke-width="0.8"/>
<path d="M465.8 197.7L465.1 197.9L464.3 197.9L463.6 197.9L462.8 197.6L462.2 197.2L461.6 196.7L461.2 195.9L460.9 195.2L460.8 194.4L460.8 193.7L460.9 192.9L461.1 192.2L461.4 191.4L461.8 190.8L462.3 190.2L462.8 189.7L463.4 189.2L464.1 188.8L464.8 188.5L465.6 188.4L466.3 188.3L467.1 188.5L467.8 188.8L468.5 189.4L469 190.2L469.3 190.9L469.5 191.7L469.5 192.4L469.4 193.2L469.3 193.9L469 194.7L468.6 195.4L468.1 196.2L467.6 196.7L466.9 197.2L466.1 197.6Z" fill="none" stroke="rgb(40,40,40)" stroke-width="0.8"/>
<path d="M465.6 197L464.8 197.2L464.1 197.1L463.3 196.9L462.6 196.5L462.1 195.9L461.7 195.2L461.5 194.4L461.5 193.7L461.6 192.9L461.8 192.2L462.2 191.4L462.7 190.7L463.2 190.2L464 189.7L464.8 189.3L465.6 189.2L466.3 189.2L467.1 189.4L467.8 189.9L468.3 190.6L468.6 191.4L468.8 192.2L468.8 192.9L468.6 193.7L468.4 194.4L467.9 195.2L467.3 195.9L466.7 196.4L466.1 196.8Z" fill="none" stroke="rgb(30,30,30)" stroke-width="0.8"/>
<path d="M465.1 196.2L464.3 196.2L463.6 196L462.9 195.4L462.5 194.7L462.3 193.9L462.4 193.2L462.6 192.5L463 191.7L463.6 191L464.3 190.5L465.1 190.2L465.8 190.1L466.6 190.3L467.2 190.7L467.7 191.4L467.9 192.2L468 192.9L467.8 193.7L467.6 194.4L467.2 194.9L466.6 195.6L465.8 196.0Z" fill="none" stroke="rgb(20,20,20)" stroke-width="0.8"/>
<path d="M465.3 195L464.6 195L463.8 194.5L463.5 193.7L463.6 192.9L464 192.2L464.5 191.7L465.3 191.4L466.1 191.5L466.7 191.9L467 192.7L466.9 193.4L466.6 194.1L466.1 194.6Z" fill="none" stroke="rgb(10,10,10)" stroke-width="0.8"/>
<ellipse cx="464.8" cy="192.9" rx="1.2" ry="1.8" fill="#fff"/>
<path d="M457.6 233.7L456.8 233.8L456.1 233.9L455.3 233.9L454.6 233.9L453.8 233.8L453.1 233.7L452.3 233.5L451.6 233.2L450.8 233L450.1 232.6L449.3 232.2L448.6 231.8L447.9 231.4L447.1 230.9L446.3 230.5L445.6 230L444.8 229.5L444.1 229L443.3 228.5L442.7 227.9L442.2 227.4L441.6 226.7L441.1 226L440.6 225.2L440.2 224.4L439.9 223.7L439.7 222.9L439.5 222.2L439.4 221.4L439.3 220.7L439.2 219.9L439.2 219.2L439.3 218.4L439.4 217.7L439.5 216.9L439.7 216.2L440 215.4L440.2 214.7L440.5 213.9L440.8 213.2L441.1 212.5L441.4 211.7L441.7 210.9L442 210.2L442.4 209.4L442.8 208.8L443.2 208.2L443.8 207.6L444.6 207L445.3 206.5L446.1 206.2L446.7 205.9L447.6 205.7L448.3 205.5L449.1 205.4L449.8 205.2L450.6 205.1L451.3 205L452.1 204.9L452.8 204.8L453.6 204.7L454.3 204.6L455.1 204.6L455.8 204.6L456.6 204.6L457.3 204.6L458.1 204.7L458.8 204.9L459.6 205.1L460.3 205.3L461.1 205.6L461.8 205.9L462.6 206.3L463.3 206.7L464.1 207.2L464.8 207.7L465.4 208.2L466 208.7L466.6 209.3L467.1 209.9L467.6 210.7L468 211.4L468.3 212.1L468.6 212.9L468.8 213.7L469 214.4L469.2 215.2L469.3 215.9L469.4 216.7L469.5 217.4L469.5 218.2L469.5 218.9L469.5 219.7L469.4 220.4L469.2 221.2L469.1 221.9L468.8 222.7L468.5 223.4L468.1 224.2L467.7 224.9L467.3 225.6L466.9 226.2L466.4 226.9L465.8 227.7L465.3 228.4L464.8 229L464.3 229.6L463.8 230.2L463.3 230.7L462.8 231.2L462.2 231.7L461.6 232.1L460.8 232.6L460.1 232.9L459.3 233.3L458.6 233.5L457.8 233.7Z" fill="rgb(214,214,214)" stroke="rgb(160,160,160)" stroke-width="0.6"/>
<path d="M456.3 231.7L455.6 231.8L454.8 231.7L454.1 231.7L453.3 231.5L452.6 231.4L451.8 231.1L451.1 230.8L450.3 230.5L449.6 230.1L448.8 229.7L448.1 229.2L447.3 228.8L446.6 228.3L445.8 227.7L445.1 227.2L444.6 226.7L444.1 226.2L443.6 225.6L443.1 224.9L442.7 224.2L442.4 223.4L442.1 222.7L442 221.9L441.8 221.2L441.8 220.4L441.8 219.7L441.8 218.9L441.9 218.2L442 217.4L442.1 216.7L442.3 215.9L442.5 215.2L442.8 214.4L443 213.7L443.3 213L443.6 212.2L444 211.4L444.4 210.7L444.9 209.9L445.6 209.3L446.3 208.7L447.1 208.2L447.8 207.9L448.6 207.6L449.3 207.3L450.1 207.1L450.7 206.9L451.6 206.8L452.3 206.6L453.1 206.5L453.8 206.4L454.6 206.4L455.3 206.3L456.1 206.3L456.8 206.4L457.6 206.5L458.3 206.6L459.1 206.9L459.8 207.1L460.5 207.4L461.3 207.8L462 208.2L462.8 208.7L463.4 209.2L464.1 209.7L464.6 210.2L465.3 210.9L465.8 211.7L466.2 212.4L466.6 213.1L466.9 213.9L467.1 214.7L467.3 215.4L467.5 216.2L467.6 216.9L467.6 217.7L467.7 218.4L467.7 219.2L467.6 219.9L467.5 220.7L467.3 221.4L467.1 222.2L466.8 222.9L466.4 223.7L465.9 224.4L465.6 225.1L465.1 225.7L464.6 226.4L464.1 226.9L463.6 227.6L463.1 228.1L462.6 228.6L461.9 229.2L461.3 229.7L460.6 230.2L459.8 230.7L459.1 231L458.3 231.3L457.6 231.5L456.8 231.7Z" fill="none" stroke="rgb(154,154,154)" stroke-width="0.6"/>
<path d="M457.1 229.5L456.3 229.6L455.6 229.7L454.8 229.7L454.1 229.6L453.3 229.5L452.6 229.3L451.8 229L451.1 228.7L450.3 228.4L449.6 228L448.8 227.5L448.1 227L447.3 226.4L446.8 226L446.3 225.5L445.8 224.9L445.3 224.2L444.9 223.4L444.6 222.7L444.4 221.9L444.3 221.2L444.2 220.4L444.2 219.7L444.2 218.9L444.3 218.2L444.4 217.4L444.6 216.7L444.8 215.9L445 215.2L445.2 214.4L445.5 213.7L445.9 212.9L446.3 212.2L446.8 211.5L447.3 210.9L447.8 210.5L448.5 209.9L449.3 209.5L450.1 209.1L450.8 208.8L451.6 208.6L452.3 208.4L453.1 208.3L453.8 208.2L454.6 208.1L455.3 208.1L456.1 208.1L456.8 208.2L457.6 208.3L458.3 208.6L459.1 208.8L459.8 209.2L460.6 209.6L461.3 210.1L462.1 210.7L462.6 211.2L463.1 211.7L463.7 212.4L464.2 213.2L464.7 213.9L465 214.7L465.2 215.4L465.4 216.2L465.6 216.9L465.7 217.7L465.7 218.4L465.7 219.2L465.7 219.9L465.5 220.7L465.3 221.4L465.1 222.2L464.7 222.9L464.3 223.7L463.8 224.4L463.3 225.1L462.8 225.7L462.3 226.2L461.8 226.7L461.1 227.4L460.3 227.9L459.6 228.4L458.8 228.8L458.1 229.2L457.3 229.4Z" fill="none" stroke="rgb(148,148,148)" stroke-width="0.6"/>
<path d="M455.1 227.7L454.3 227.7L453.6 227.6L452.8 227.4L452.1 227.2L451.3 226.9L450.6 226.5L449.8 226L449.1 225.5L448.5 224.9L447.8 224.2L447.3 223.5L446.9 222.7L446.6 221.9L446.5 221.2L446.4 220.4L446.3 219.7L446.4 218.9L446.5 218.2L446.6 217.4L446.8 216.7L447 215.9L447.2 215.2L447.6 214.5L447.9 213.7L448.4 212.9L449.1 212.2L449.6 211.7L450.3 211.2L451.1 210.8L451.7 210.4L452.4 210.2L453.3 210L454.1 209.9L454.8 209.8L455.6 209.8L456.3 209.9L457.1 210.1L457.8 210.3L458.6 210.7L459.3 211.1L460.1 211.7L460.7 212.2L461.2 212.7L461.8 213.4L462.3 214.2L462.7 214.9L463 215.7L463.3 216.4L463.4 217.2L463.6 217.9L463.6 218.7L463.6 219.4L463.5 220.2L463.4 220.9L463.1 221.7L462.8 222.4L462.4 223.2L461.9 223.9L461.3 224.6L460.8 225.2L460.2 225.7L459.6 226.2L458.8 226.7L458.1 227L457.3 227.3L456.6 227.5L455.8 227.7Z" fill="none" stroke="rgb(142,142,142)" stroke-width="0.6"/>
<path d="M455.8 225.7L455.1 225.8L454.3 225.8L453.6 225.7L452.8 225.5L452.1 225.3L451.3 224.9L450.6 224.4L450.1 223.9L449.6 223.4L449.1 222.7L448.7 221.9L448.4 221.2L448.3 220.4L448.2 219.7L448.2 218.9L448.3 218.2L448.5 217.4L448.7 216.7L448.9 215.9L449.3 215.2L449.7 214.4L450.3 213.7L450.8 213.2L451.4 212.7L452.1 212.3L452.8 212L453.6 211.8L454.3 211.6L455.1 211.6L455.8 211.7L456.6 211.9L457.3 212.1L458.1 212.6L458.8 213.1L459.4 213.7L460 214.4L460.5 215.2L460.8 215.8L461.1 216.7L461.3 217.4L461.5 218.2L461.5 218.9L461.5 219.7L461.4 220.4L461.2 221.2L460.9 221.9L460.4 222.7L459.9 223.4L459.3 224L458.6 224.6L457.8 225.1L457.1 225.4L456.3 225.6Z" fill="none" stroke="rgb(137,137,137)" stroke-width="0.6"/>
<path d="M455.3 224L454.6 224L453.8 223.9L453.1 223.7L452.3 223.4L451.7 222.9L451.1 222.4L450.6 221.7L450.2 220.9L450 220.2L449.9 219.4L450 218.7L450.1 217.9L450.3 217.2L450.6 216.5L451 215.7L451.6 215L452.1 214.4L452.8 214L453.5 213.7L454.3 213.5L455.1 213.4L455.8 213.5L456.6 213.8L457.3 214.2L457.9 214.7L458.5 215.4L459 216.2L459.3 216.9L459.5 217.7L459.6 218.4L459.6 219.2L459.5 219.9L459.3 220.7L459 221.4L458.6 222.1L458.1 222.7L457.4 223.2L456.6 223.6L455.8 223.9Z" fill="none" stroke="rgb(131,131,131)" stroke-width="0.6"/>
<path d="M455.8 222L455.1 222.1L454.3 222.1L453.6 221.9L452.8 221.5L452.2 220.9L451.8 220.2L451.6 219.4L451.6 218.7L451.8 217.9L452.1 217.2L452.6 216.5L453.1 216L453.8 215.5L454.6 215.3L455.3 215.2L456.1 215.4L456.8 215.9L457.3 216.4L457.7 217.2L457.9 217.9L458 218.7L457.9 219.4L457.6 220.2L457.2 220.9L456.7 221.4L456.1 221.8Z" fill="none" stroke="rgb(125,125,125)" stroke-width="0.6"/>
<path d="M455.1 220.3L454.3 220.3L453.6 219.8L453.3 218.9L453.5 218.2L454.1 217.5L454.8 217.1L455.6 216.9L456.2 217.2L456.5 217.9L456.5 218.7L456.2 219.4L455.6 220.1Z" fill="none" stroke="rgb(120,120,120)" stroke-width="0.6"/>
<ellipse cx="455.8" cy="217.8" rx="1.5" ry="1.5" fill="#fff"/>
<path d="M431.3 254.7L430.6 254.8L429.8 254.8L429.1 254.7L428.3 254.3L427.6 253.7L427.2 252.9L426.9 252.2L426.8 251.4L426.7 250.7L426.7 249.9L426.8 249.2L426.9 248.4L427 247.7L427.2 246.9L427.4 246.2L427.7 245.4L428 244.7L428.4 243.9L428.8 243.3L429.2 242.7L429.6 242.1L430 241.4L430.5 240.7L431.1 240L431.5 239.4L432.1 238.8L432.5 238.2L433.1 237.6L433.6 237.1L434.1 236.6L434.8 235.9L435.3 235.5L436 234.9L436.7 234.4L437.5 233.9L438.3 233.5L439.1 233L439.7 232.7L440.6 232.3L441.3 231.9L442.1 231.5L442.8 231.2L443.6 230.8L444.3 230.5L445 230.2L445.8 229.9L446.6 229.6L447.3 229.4L448 229.2L448.8 229.1L449.6 229L450.3 229L451.1 229.1L451.8 229.4L452.5 229.7L453.2 230.2L453.8 230.7L454.3 231.2L454.8 231.9L455.2 232.7L455.5 233.4L455.6 234.2L455.7 234.9L455.8 235.7L455.7 236.4L455.6 237.2L455.4 237.9L455.2 238.7L454.9 239.4L454.6 240.1L454.1 240.9L453.6 241.7L453.1 242.4L452.6 243.1L452.1 243.7L451.6 244.3L451.1 244.8L450.6 245.3L449.9 245.9L449.3 246.4L448.8 246.9L448.2 247.4L447.6 247.9L447.1 248.4L446.3 248.9L445.7 249.4L445.1 249.9L444.3 250.3L443.7 250.7L442.8 251.1L442.1 251.4L441.3 251.7L440.6 252L439.8 252.3L439.1 252.5L438.3 252.7L437.6 252.9L436.8 253.2L436.1 253.4L435.3 253.6L434.6 253.9L433.8 254.1L433.1 254.3L432.3 254.5L431.6 254.7Z" fill="rgb(214,214,214)" stroke="rgb(155,155,155)" stroke-width="0.6"/>
<path d="M433.6 252L432.8 252L432.1 251.9L431.3 251.7L430.6 251.3L430.1 250.8L429.6 249.9L429.5 249.2L429.4 248.4L429.4 247.7L429.5 246.9L429.7 246.2L429.9 245.4L430.2 244.7L430.5 243.9L430.9 243.2L431.3 242.5L431.8 241.7L432.3 241L432.7 240.4L433.3 239.7L433.8 239.2L434.3 238.6L434.8 238.1L435.5 237.4L436 236.9L436.7 236.4L437.3 236L438.1 235.5L438.8 235L439.6 234.6L440.3 234.2L441.1 233.8L441.8 233.5L442.5 233.2L443.3 232.8L444.1 232.5L444.8 232.3L445.6 232L446.3 231.8L447.1 231.6L447.8 231.5L448.6 231.4L449.3 231.5L450.1 231.6L450.8 231.9L451.6 232.3L452.2 232.9L452.7 233.7L453 234.4L453.2 235.2L453.3 235.9L453.4 236.7L453.3 237.4L453.1 238.2L452.9 238.9L452.6 239.7L452.2 240.4L451.8 241.2L451.3 241.9L450.8 242.6L450.3 243.2L449.8 243.8L449.3 244.3L448.8 244.8L448.1 245.4L447.6 245.9L447 246.4L446.4 246.9L445.8 247.4L445.1 247.9L444.3 248.4L443.6 248.9L442.8 249.3L442.1 249.6L441.3 249.9L440.6 250.3L439.8 250.5L439.1 250.8L438.3 251L437.6 251.2L436.8 251.4L436.1 251.6L435.3 251.7L434.6 251.9L433.8 251.9Z" fill="none" stroke="rgb(148,148,148)" stroke-width="0.6"/>
<path d="M437.1 249.5L436.3 249.6L435.6 249.7L434.8 249.7L434.1 249.6L433.3 249.3L432.6 248.7L432.1 248L431.8 247.2L431.8 246.4L431.8 245.7L432 244.9L432.3 244.2L432.6 243.4L433.1 242.7L433.6 242L434.1 241.3L434.6 240.7L435.1 240.1L435.6 239.6L436.1 239.1L436.8 238.4L437.3 238L438 237.4L438.7 236.9L439.5 236.4L440.3 236L440.9 235.7L441.8 235.3L442.6 235L443.3 234.7L444.1 234.5L444.8 234.2L445.6 234.1L446.3 233.9L447.1 233.9L447.8 233.9L448.6 234.1L449.3 234.4L450 234.9L450.5 235.7L450.7 236.4L450.8 237.2L450.8 237.9L450.7 238.7L450.4 239.4L450.1 240.2L449.8 240.8L449.4 241.4L448.9 242.2L448.3 242.9L447.8 243.5L447.3 244L446.6 244.7L446.1 245.2L445.4 245.7L444.8 246.1L444.1 246.7L443.3 247.1L442.6 247.5L441.8 247.9L441.1 248.2L440.3 248.5L439.6 248.8L438.8 249L438.1 249.3L437.3 249.4Z" fill="none" stroke="rgb(141,141,141)" stroke-width="0.6"/>
<path d="M437.3 247.5L436.6 247.5L435.8 247.5L435.1 247.3L434.4 246.9L433.9 246.2L433.7 245.4L433.8 244.7L434 243.9L434.5 243.2L435.1 242.5L435.5 241.9L436.1 241.4L436.6 240.9L437.1 240.4L437.8 239.7L438.3 239.2L439 238.7L439.6 238.3L440.3 237.8L441 237.4L441.8 237.1L442.6 236.8L443.3 236.5L444.1 236.4L444.8 236.3L445.6 236.2L446.3 236.3L447.1 236.6L447.7 237.2L448.1 237.9L448.2 238.7L448.1 239.4L447.8 240.2L447.5 240.9L447.1 241.7L446.6 242.3L446.1 242.9L445.6 243.4L445 243.9L444.4 244.4L443.8 244.9L443.1 245.4L442.3 245.8L441.6 246.2L440.9 246.4L440.1 246.8L439.3 247L438.6 247.2L437.8 247.4Z" fill="none" stroke="rgb(134,134,134)" stroke-width="0.6"/>
<path d="M436.8 245.5L436.1 245.6L435.3 245.2L435.2 244.4L435.8 243.7L436.6 243.3L437.3 242.7L437.8 242.1L438.3 241.5L438.8 241L439.3 240.4L439.9 239.9L440.6 239.5L441.3 239.1L442.1 238.8L442.8 238.6L443.6 238.5L444.3 238.5L445 238.9L445.4 239.7L445.3 240.4L445.1 241.1L444.6 241.9L444.1 242.6L443.4 243.2L442.8 243.6L442.1 244.1L441.4 244.4L440.6 244.8L439.8 245L439.1 245.1L438.3 245.2L437.6 245.3Z" fill="none" stroke="rgb(127,127,127)" stroke-width="0.6"/>
<path d="M440.6 243L439.9 242.4L440.3 241.7L440.8 241.2L441.6 240.8L442.3 240.9L442.3 241.7L441.8 242.4L441.1 242.8Z" fill="none" stroke="rgb(120,120,120)" stroke-width="0.6"/>
<ellipse cx="436" cy="244.6" rx="1.2" ry="1.2" fill="#fff"/>
<path d="M476.3 365.1L475.6 365.2L474.8 365.2L474.1 365.2L473.3 365.1L472.6 365L471.8 364.8L471.1 364.6L470.3 364.4L469.6 364.1L468.9 363.8L468.3 363.5L467.7 363.1L467.1 362.6L466.6 362.1L466.1 361.3L465.6 360.7L465.2 360.1L464.7 359.3L464.3 358.6L463.9 357.8L463.6 357.1L463.3 356.4L463 355.6L462.7 354.8L462.5 354.1L462.2 353.3L462 352.6L461.8 351.8L461.6 351.1L461.5 350.3L461.3 349.6L461.2 348.8L461.1 348.1L461 347.3L460.9 346.6L460.8 345.8L460.8 345.1L460.8 344.3L460.8 343.6L460.8 342.8L460.9 342.1L460.9 341.3L461 340.6L461.1 339.8L461.1 339.1L461.1 338.3L461.2 337.6L461.2 336.8L461.2 336.1L461.1 335.3L461.1 334.6L461.1 333.8L461 333.1L461 332.3L460.9 331.6L460.9 330.8L460.9 330.1L461 329.3L461 328.6L461.1 327.8L461.2 327.1L461.2 326.3L461.3 325.6L461.4 324.8L461.5 324.1L461.6 323.3L461.7 322.6L461.8 321.8L461.9 321.1L462.1 320.3L462.2 319.6L462.4 318.8L462.5 318.1L462.7 317.3L462.9 316.6L463.1 315.8L463.3 315.1L463.5 314.3L463.9 313.6L464.2 312.8L464.7 312.1L465.3 311.3L465.8 310.7L466.3 310.2L467 309.6L467.6 309.1L468.3 308.6L469.1 308.1L469.8 307.7L470.6 307.3L471.3 307.1L472.1 306.8L472.8 306.7L473.6 306.6L474.3 306.6L475.1 306.7L475.8 306.9L476.6 307.3L477.2 307.8L477.7 308.3L478.3 309L478.8 309.7L479.2 310.3L479.6 311.1L480.1 311.7L480.5 312.6L480.9 313.3L481.3 314L481.7 314.8L482.1 315.5L482.5 316.3L482.8 317.1L483.1 317.8L483.4 318.6L483.7 319.3L484 320.1L484.2 320.8L484.4 321.6L484.6 322.3L484.8 323.1L484.9 323.8L485 324.6L485.1 325.3L485.2 326.1L485.2 326.8L485.2 327.6L485.2 328.3L485.2 329.1L485.2 329.8L485.2 330.6L485.1 331.3L485.1 332.1L485 332.8L485 333.6L485 334.3L485 335.1L485 335.8L485 336.6L485.1 337.3L485.2 338.1L485.2 338.8L485.3 339.6L485.5 340.3L485.6 341L485.7 341.8L485.7 342.6L485.8 343.3L485.8 344.1L485.9 344.8L485.8 345.6L485.8 346.3L485.7 347.1L485.6 347.8L485.5 348.6L485.4 349.3L485.3 350L485.2 350.8L485 351.6L484.9 352.3L484.8 353.1L484.6 353.8L484.5 354.6L484.4 355.3L484.2 356.1L484 356.8L483.8 357.6L483.6 358.3L483.4 359.1L483.1 359.8L482.7 360.6L482.3 361.3L481.8 362L481.3 362.6L480.8 363.1L480.2 363.6L479.6 364L478.9 364.3L478.1 364.6L477.3 364.9L476.6 365.0Z" fill="rgb(210,210,210)" stroke="rgb(150,150,150)" stroke-width="0.6"/>
<path d="M475.3 363.1L474.6 363.1L473.8 363L473.1 362.9L472.3 362.7L471.6 362.5L470.8 362.2L470.1 361.8L469.3 361.4L468.6 360.9L467.9 360.3L467.4 359.8L466.8 359.2L466.3 358.6L465.8 357.8L465.4 357.1L465 356.3L464.6 355.6L464.3 354.8L464 354.1L463.7 353.3L463.5 352.6L463.3 351.8L463.1 351.1L462.9 350.3L462.7 349.6L462.6 348.8L462.5 348.1L462.4 347.3L462.3 346.6L462.3 345.8L462.2 345.1L462.2 344.3L462.2 343.6L462.3 342.8L462.3 342.1L462.4 341.3L462.4 340.6L462.5 339.8L462.6 339.1L462.6 338.3L462.7 337.6L462.7 336.8L462.7 336.1L462.7 335.3L462.7 334.6L462.6 333.8L462.6 333.1L462.6 332.3L462.6 331.6L462.6 330.8L462.6 330.1L462.6 329.3L462.7 328.6L462.7 327.8L462.8 327.1L462.9 326.3L463 325.6L463 324.8L463.1 324.1L463.2 323.3L463.4 322.6L463.5 321.8L463.6 321.1L463.7 320.3L463.9 319.6L464.1 318.8L464.2 318.1L464.4 317.3L464.7 316.6L464.9 315.8L465.2 315.1L465.6 314.3L466.1 313.7L466.6 313.1L467.1 312.6L467.6 312.1L468.3 311.6L469.1 311.1L469.8 310.7L470.6 310.3L471.3 310.1L472.1 309.9L472.8 309.8L473.6 309.8L474.3 309.9L475.1 310.1L475.8 310.5L476.6 311L477.1 311.6L477.8 312.3L478.3 313L478.8 313.7L479.3 314.6L479.7 315.3L480 316.1L480.4 316.8L480.7 317.6L481 318.3L481.3 319.1L481.6 319.8L481.8 320.4L482.1 321.1L482.3 321.8L482.5 322.6L482.8 323.3L483 324.1L483.1 324.8L483.3 325.6L483.4 326.3L483.5 327.1L483.5 327.8L483.6 328.6L483.6 329.3L483.6 330.1L483.6 330.8L483.6 331.6L483.5 332.3L483.5 333.1L483.5 333.8L483.5 334.6L483.5 335.3L483.5 336.1L483.5 336.8L483.6 337.6L483.6 338.3L483.7 339.1L483.8 339.8L483.9 340.6L484 341.3L484.1 342.1L484.2 342.8L484.2 343.6L484.3 344.3L484.3 345L484.3 345.8L484.3 346.6L484.2 347.3L484.1 348.1L484.1 348.8L484 349.6L483.9 350.3L483.7 351.1L483.6 351.8L483.5 352.6L483.3 353.3L483.2 354.1L483 354.8L482.8 355.5L482.6 356.3L482.3 357.1L482.1 357.8L481.7 358.6L481.3 359.3L480.8 360.1L480.3 360.7L479.8 361.2L479.1 361.8L478.3 362.2L477.6 362.6L476.9 362.8L476.1 363L475.3 363.1Z" fill="none" stroke="rgb(142,142,142)" stroke-width="0.6"/>
<path d="M476.1 360.8L475.3 360.9L474.6 360.9L473.8 360.9L473.1 360.7L472.3 360.5L471.6 360.2L470.8 359.8L470.1 359.4L469.3 358.9L468.6 358.3L468.1 357.8L467.6 357.1L467.1 356.6L466.6 355.8L466.2 355.1L465.8 354.3L465.5 353.6L465.2 352.8L464.9 352.1L464.7 351.3L464.5 350.6L464.3 349.8L464.1 349.1L464 348.3L463.8 347.6L463.7 346.8L463.7 346.1L463.6 345.3L463.6 344.6L463.6 343.8L463.6 343.1L463.7 342.3L463.7 341.6L463.8 340.8L463.9 340.1L464 339.3L464 338.6L464.1 337.8L464.1 337.1L464.2 336.3L464.2 335.6L464.2 334.8L464.2 334.1L464.2 333.3L464.2 332.6L464.2 331.8L464.2 331.1L464.2 330.3L464.3 329.6L464.3 328.8L464.4 328.1L464.4 327.3L464.5 326.6L464.6 325.8L464.7 325.1L464.8 324.3L464.9 323.6L465.1 322.8L465.2 322.1L465.4 321.3L465.5 320.6L465.7 319.8L465.9 319.1L466.1 318.3L466.4 317.6L466.7 316.8L467.1 316.1L467.6 315.3L468.1 314.7L468.8 314.1L469.5 313.6L470.3 313.1L471.1 312.8L471.8 312.6L472.6 312.5L473.3 312.6L474.1 312.7L474.8 313L475.6 313.4L476.3 314.1L476.8 314.6L477.3 315.3L477.7 316.1L478.1 316.8L478.5 317.6L478.8 318.3L479 319.1L479.3 319.7L479.6 320.4L479.8 321.1L480.1 321.8L480.3 322.6L480.6 323.3L480.9 324.1L481.2 324.8L481.4 325.6L481.6 326.3L481.8 327.1L481.9 327.8L482 328.6L482.1 329.3L482.1 330.1L482.1 330.8L482.1 331.6L482.1 332.3L482.1 333.1L482.1 333.8L482.1 334.6L482.1 335.3L482.1 336.1L482.1 336.8L482.2 337.6L482.2 338.3L482.2 339.1L482.3 339.8L482.4 340.6L482.5 341.3L482.5 342.1L482.6 342.8L482.7 343.6L482.7 344.3L482.8 345.1L482.8 345.8L482.8 346.6L482.7 347.3L482.7 348.1L482.6 348.8L482.5 349.6L482.4 350.3L482.3 351.1L482.2 351.8L482 352.6L481.9 353.3L481.7 354.1L481.4 354.8L481.2 355.6L480.9 356.3L480.6 357L480.1 357.8L479.6 358.6L479.1 359.1L478.3 359.8L477.6 360.3L476.8 360.6L476.1 360.8Z" fill="none" stroke="rgb(135,135,135)" stroke-width="0.6"/>
<path d="M475.6 358.6L474.8 358.7L474.1 358.6L473.3 358.5L472.6 358.3L471.8 358L471.1 357.6L470.3 357.1L469.8 356.6L469.2 356.1L468.6 355.3L468.1 354.6L467.6 353.8L467.2 353.1L466.8 352.3L466.5 351.6L466.2 350.8L466 350.1L465.7 349.3L465.6 348.6L465.4 347.8L465.2 347.1L465.1 346.3L465 345.6L465 344.8L465 344.1L465 343.3L465 342.6L465.1 341.8L465.1 341.1L465.2 340.3L465.3 339.6L465.4 338.8L465.4 338.1L465.5 337.3L465.5 336.6L465.6 335.8L465.6 335.1L465.6 334.3L465.7 333.6L465.7 332.8L465.7 332.1L465.7 331.3L465.8 330.6L465.8 329.8L465.9 329.1L466 328.3L466.1 327.6L466.2 326.8L466.3 326.1L466.4 325.3L466.6 324.6L466.7 323.8L466.9 323.1L467.1 322.3L467.3 321.6L467.5 320.8L467.6 320.1L467.9 319.3L468.1 318.6L468.4 317.8L468.8 317.1L469.3 316.4L469.8 315.8L470.5 315.3L471.3 314.9L472.1 314.7L472.8 314.7L473.6 314.9L474.3 315.2L475.1 315.8L475.6 316.3L476.1 317L476.5 317.8L476.8 318.6L477 319.3L477.3 320.1L477.5 320.8L477.8 321.6L478.1 322.2L478.4 323.1L478.7 323.8L479.1 324.5L479.4 325.3L479.7 326.1L480 326.8L480.2 327.6L480.4 328.3L480.5 329.1L480.6 329.8L480.7 330.6L480.8 331.3L480.8 332.1L480.8 332.8L480.8 333.6L480.8 334.3L480.8 335.1L480.8 335.8L480.8 336.6L480.8 337.3L480.8 338.1L480.9 338.8L480.9 339.6L480.9 340.3L481 341.1L481 341.8L481 342.6L481.1 343.3L481.1 344.1L481.1 344.8L481.2 345.6L481.2 346.3L481.2 347.1L481.1 347.8L481.1 348.6L481 349.3L480.9 350.1L480.8 350.8L480.7 351.6L480.5 352.3L480.3 353.1L480.1 353.8L479.8 354.5L479.4 355.3L479.1 355.9L478.6 356.6L478.1 357.2L477.3 357.8L476.6 358.2L475.8 358.5Z" fill="none" stroke="rgb(127,127,127)" stroke-width="0.6"/>
<path d="M475.3 355.8L474.6 356L473.8 355.9L473.1 355.8L472.3 355.4L471.6 355.1L471.1 354.6L470.5 354.1L469.8 353.3L469.3 352.6L468.8 351.8L468.4 351.1L468.1 350.4L467.7 349.6L467.4 348.8L467.1 348.1L466.9 347.3L466.7 346.6L466.6 345.8L466.5 345.1L466.4 344.3L466.4 343.6L466.4 342.8L466.4 342.1L466.5 341.3L466.5 340.6L466.6 339.8L466.7 339.1L466.8 338.3L466.8 337.6L466.9 336.8L466.9 336.1L467 335.3L467 334.6L467.1 333.8L467.1 333.1L467.2 332.3L467.2 331.6L467.3 330.8L467.4 330.1L467.5 329.3L467.6 328.6L467.8 327.8L467.9 327.1L468.1 326.3L468.3 325.6L468.5 324.8L468.8 324.1L469 323.3L469.1 322.6L469.2 321.8L469.3 321.1L469.4 320.3L469.5 319.6L469.8 318.8L470.1 318.1L470.6 317.4L471.2 316.8L472.1 316.4L472.8 316.4L473.6 316.7L474.3 317.3L474.8 318.1L475.1 318.8L475.3 319.6L475.5 320.3L475.6 321.1L475.8 321.8L476 322.6L476.3 323.3L476.6 324.1L477.1 324.8L477.5 325.6L477.9 326.3L478.3 327.1L478.6 327.7L478.8 328.4L479.1 329.3L479.2 330.1L479.3 330.8L479.4 331.6L479.5 332.3L479.5 333.1L479.6 333.8L479.6 334.6L479.6 335.3L479.6 336.1L479.6 336.8L479.6 337.6L479.5 338.3L479.5 339.1L479.5 339.8L479.5 340.6L479.5 341.3L479.5 342.1L479.4 342.8L479.4 343.6L479.4 344.3L479.4 345.1L479.4 345.8L479.4 346.6L479.4 347.3L479.3 348.1L479.3 348.8L479.2 349.6L479.1 350.3L478.9 351.1L478.7 351.8L478.5 352.6L478.1 353.3L477.7 354.1L477.1 354.8L476.4 355.3L475.8 355.7Z" fill="none" stroke="rgb(120,120,120)" stroke-width="0.6"/>
<path d="M474.6 352.1L473.8 352.2L473.1 352L472.3 351.7L471.6 351.1L470.9 350.6L470.3 349.8L469.8 349.2L469.4 348.6L469 347.8L468.6 347.1L468.3 346.3L468.1 345.6L468 344.8L467.9 344.1L467.8 343.3L467.8 342.6L467.8 341.8L467.9 341.1L467.9 340.3L468 339.6L468.1 338.8L468.1 338.1L468.2 337.3L468.2 336.6L468.3 335.8L468.3 335.1L468.4 334.3L468.4 333.6L468.5 332.8L468.6 332.1L468.7 331.3L468.9 330.6L469.1 329.8L469.3 329.1L469.5 328.3L469.8 327.6L470.1 326.8L470.5 326.1L471 325.3L471.5 324.6L471.7 323.8L471.6 323.1L471.2 322.3L470.9 321.6L470.8 320.9L470.8 320.1L470.9 319.3L471.3 318.6L471.8 318.1L472.6 317.8L473.3 318.2L473.8 318.8L474 319.6L474.1 320.3L474.1 321.1L473.9 321.8L473.6 322.6L473.4 323.3L473.6 324L474.1 324.6L474.6 325.1L475.1 325.6L475.6 326.1L476.1 326.7L476.6 327.4L476.9 328.1L477.3 328.8L477.6 329.4L477.8 330.2L478 331.1L478.1 331.8L478.2 332.6L478.3 333.3L478.3 334.1L478.4 334.8L478.4 335.6L478.4 336.3L478.3 337.1L478.3 337.8L478.2 338.6L478.2 339.3L478.1 340.1L478 340.8L478 341.6L477.9 342.3L477.8 343.1L477.7 343.8L477.6 344.6L477.5 345.3L477.4 346.1L477.3 346.8L477.1 347.6L477 348.3L476.8 349.1L476.6 349.8L476.3 350.5L475.8 351.3L475.2 351.8Z" fill="none" stroke="rgb(112,112,112)" stroke-width="0.6"/>
<path d="M472.8 320.9L472.1 320.8L471.8 320.1L472 319.3L472.8 319.2L473.1 319.8L473.1 320.5ZM473.3 347.8L472.6 347.9L471.8 347.7L471.1 347.1L470.6 346.6L470.1 345.8L469.7 345.1L469.5 344.3L469.4 343.6L469.3 342.8L469.3 342.1L469.3 341.3L469.3 340.6L469.4 339.8L469.4 339.1L469.4 338.3L469.5 337.6L469.5 336.8L469.6 336.1L469.6 335.3L469.7 334.6L469.8 333.8L469.9 333.1L470 332.3L470.2 331.6L470.5 330.8L470.8 330.1L471.2 329.3L471.7 328.6L472.3 328.1L473 327.8L473.8 327.8L474.6 328.2L475.2 328.8L475.8 329.5L476.2 330.3L476.5 331.1L476.7 331.8L476.9 332.6L477 333.3L477.1 334.1L477.1 334.8L477.1 335.6L477.1 336.3L477.1 337.1L477 337.8L476.9 338.6L476.8 339.3L476.7 340.1L476.6 340.8L476.4 341.6L476.3 342.3L476.1 343.1L475.9 343.8L475.7 344.6L475.4 345.3L475.1 346.1L474.6 346.8L474.1 347.4L473.4 347.8Z" fill="none" stroke="rgb(105,105,105)" stroke-width="0.6"/>
<path d="M472.8 345.3L472.1 345.3L471.5 344.8L471.1 344.1L470.8 343.3L470.8 342.6L470.7 341.8L470.8 341.1L470.8 340.3L470.9 339.6L470.9 338.8L470.9 338.1L470.9 337.3L470.9 336.6L470.9 335.8L471 335.1L471.1 334.3L471.2 333.6L471.5 332.8L471.8 332.1L472.2 331.3L472.7 330.8L473.6 330.5L474.3 330.8L474.8 331.3L475.2 332.1L475.5 332.8L475.7 333.6L475.8 334.3L475.9 335.1L475.9 335.8L475.8 336.6L475.8 337.3L475.7 338.1L475.5 338.8L475.4 339.6L475.2 340.3L475 341.1L474.7 341.8L474.5 342.6L474.3 343.3L474 344.1L473.6 344.8L472.8 345.3Z" fill="none" stroke="rgb(97,97,97)" stroke-width="0.6"/>
<path d="M473.6 338.8L472.8 338.6L472.6 337.8L472.4 337.1L472.3 336.3L472.4 335.6L472.5 334.8L472.8 334.1L473.3 333.5L474.1 333.8L474.4 334.6L474.5 335.3L474.6 336.1L474.5 336.8L474.3 337.6L474.1 338.2L473.6 338.8ZM472.6 343.5L472.1 342.8L472.6 342.1L472.9 342.8Z" fill="none" stroke="rgb(90,90,90)" stroke-width="0.6"/>
<ellipse cx="472.5" cy="320" rx="1" ry="1.5" fill="#fff"/>
<ellipse cx="472.5" cy="343" rx="1" ry="1.8" fill="#fff"/>
<path d="M429.8 380.8L429.1 380.8L428.3 380.7L427.6 380.4L426.8 379.8L426.3 379.1L425.9 378.3L425.7 377.6L425.6 376.8L425.6 376.1L425.5 375.3L425.6 374.6L425.7 373.8L425.8 373.1L426 372.3L426.2 371.6L426.4 370.8L426.7 370.1L427.1 369.3L427.4 368.6L427.8 367.9L428.1 367.3L428.6 366.6L428.9 366.1L429.4 365.3L429.9 364.6L430.5 363.8L431.1 363.1L431.5 362.6L432.1 361.9L432.6 361.3L433.1 360.8L433.6 360.3L434.1 359.8L434.6 359.3L435.1 358.8L435.8 358.1L436.3 357.6L436.8 357.1L437.4 356.6L438 356.1L438.6 355.6L439.3 355.1L440 354.6L440.8 354.1L441.6 353.7L442.3 353.4L443.1 353.1L443.8 352.9L444.6 352.7L445.3 352.7L446.1 352.6L446.8 352.7L447.6 352.9L448.3 353.2L449.1 353.8L449.5 354.3L449.9 355.1L450.2 355.8L450.3 356.5L450.4 357.3L450.4 358.1L450.3 358.8L450.3 359.6L450.2 360.3L450 361.1L449.8 361.8L449.6 362.6L449.3 363.3L449.1 363.9L448.7 364.8L448.3 365.5L447.9 366.3L447.4 367.1L446.9 367.8L446.4 368.6L445.9 369.3L445.3 370.1L444.8 370.7L444.3 371.3L443.8 371.9L443.3 372.4L442.8 372.9L442.3 373.4L441.7 374.1L441.1 374.6L440.6 375.1L440.1 375.5L439.5 376.1L438.9 376.6L438.3 377L437.6 377.5L436.8 378.1L436.1 378.5L435.3 379L434.7 379.3L433.8 379.7L433.1 380L432.3 380.3L431.6 380.5L430.8 380.7L430.1 380.8Z" fill="rgb(214,214,214)" stroke="rgb(155,155,155)" stroke-width="0.6"/>
<path d="M432.1 378.1L431.3 378.1L430.6 378L429.8 377.8L429.1 377.3L428.6 376.8L428.2 376.1L427.9 375.3L427.8 374.6L427.7 373.8L427.7 373.1L427.8 372.3L428 371.6L428.2 370.8L428.4 370.1L428.7 369.3L429.1 368.6L429.5 367.8L429.9 367.1L430.4 366.3L430.8 365.7L431.3 365.1L431.8 364.3L432.3 363.7L432.8 363.1L433.3 362.6L433.8 362L434.3 361.4L434.8 360.9L435.3 360.4L436 359.8L436.5 359.3L437.1 358.8L437.6 358.3L438.2 357.8L438.8 357.4L439.6 356.8L440.3 356.3L441.1 355.9L441.8 355.6L442.6 355.3L443.3 355.1L444.1 355L444.8 355L445.6 355.1L446.3 355.4L447.1 356L447.5 356.6L447.9 357.3L448.1 358L448.2 358.8L448.2 359.6L448.1 360.3L448.1 361L447.9 361.8L447.7 362.6L447.5 363.3L447.2 364.1L446.9 364.8L446.6 365.5L446.1 366.3L445.7 367.1L445.2 367.8L444.8 368.4L444.3 369.1L443.8 369.7L443.3 370.3L442.8 370.9L442.3 371.4L441.8 372L441.3 372.5L440.7 373.1L440.2 373.6L439.6 374.1L439.1 374.5L438.5 375.1L437.8 375.6L437.1 376.1L436.3 376.6L435.6 377L434.9 377.3L434.1 377.6L433.3 377.8L432.6 378.0Z" fill="none" stroke="rgb(148,148,148)" stroke-width="0.6"/>
<path d="M434.1 375.9L433.3 376L432.6 375.9L431.8 375.8L431.1 375.4L430.4 374.8L430 374.1L429.8 373.3L429.7 372.6L429.7 371.8L429.8 371.1L430 370.3L430.3 369.6L430.6 368.9L431 368.1L431.4 367.3L431.8 366.7L432.2 366.1L432.8 365.3L433.3 364.6L433.7 364.1L434.3 363.4L434.8 362.9L435.3 362.4L435.8 361.9L436.4 361.3L437 360.8L437.6 360.3L438.2 359.8L438.8 359.3L439.6 358.8L440.3 358.4L441 358.1L441.8 357.7L442.6 357.6L443.3 357.5L444.1 357.6L444.8 358L445.3 358.5L445.7 359.3L445.9 360.1L446 360.8L445.9 361.6L445.8 362.3L445.7 363.1L445.5 363.8L445.2 364.6L444.9 365.3L444.6 366L444.1 366.8L443.6 367.6L443.1 368.3L442.6 369L442.1 369.7L441.6 370.2L441.1 370.8L440.6 371.3L440.1 371.8L439.5 372.3L439 372.8L438.4 373.3L437.9 373.8L437.3 374.2L436.6 374.8L435.8 375.2L435.1 375.6L434.3 375.8Z" fill="none" stroke="rgb(141,141,141)" stroke-width="0.6"/>
<path d="M435.1 374.1L434.3 374.3L433.6 374.3L432.8 374.1L432.1 373.6L431.6 372.8L431.5 372.1L431.5 371.3L431.6 370.6L431.8 369.9L432.1 369.1L432.5 368.3L432.9 367.6L433.4 366.8L433.9 366.1L434.5 365.3L435.1 364.6L435.5 364.1L436.1 363.5L436.8 362.8L437.4 362.3L438 361.8L438.8 361.3L439.6 360.8L440.3 360.5L441.1 360.2L441.8 360.2L442.6 360.3L443.2 360.8L443.6 361.6L443.7 362.3L443.7 363.1L443.6 363.8L443.4 364.6L443.1 365.3L442.8 366L442.4 366.8L441.9 367.6L441.3 368.3L440.8 369L440.3 369.5L439.8 370L439.3 370.5L438.8 371.1L438.3 371.6L437.8 372.1L437.3 372.6L436.7 373.1L436.1 373.5L435.3 374.0Z" fill="none" stroke="rgb(134,134,134)" stroke-width="0.6"/>
<path d="M434.6 372.8L433.8 372.7L433.2 372.1L433.1 371.3L433.3 370.6L433.7 369.8L434 369.1L434.4 368.3L434.7 367.6L435.2 366.8L435.6 366.2L436 365.6L436.6 365L437.1 364.4L437.8 363.8L438.6 363.3L439.3 362.9L440.1 362.7L440.8 362.8L441.4 363.6L441.5 364.3L441.4 365.1L441.1 365.8L440.8 366.5L440.3 367.3L439.8 367.9L439.3 368.5L438.8 369L438.2 369.6L437.6 370.1L437.1 370.5L436.6 371.1L436.1 371.7L435.6 372.3L434.8 372.8Z" fill="none" stroke="rgb(127,127,127)" stroke-width="0.6"/>
<path d="M437.6 367.8L436.8 367.6L436.9 366.8L437.4 366.1L438 365.6L438.8 365.2L439.2 365.8L438.9 366.6L438.3 367.3L437.6 367.8Z" fill="none" stroke="rgb(120,120,120)" stroke-width="0.6"/>
<ellipse cx="434.5" cy="371.7" rx="1.3" ry="1.3" fill="#fff"/>
<path d="M441 356C443 353 445 352 447 351.5C450 351 452.5 352 452.8 355C453 359 452 363 450 366C449 368 447 369 445.5 370" fill="none" stroke="rgb(150,150,150)" stroke-width="0.6"/>
<path d="M469 362C470 365 471 367 472 367C474 367 476 364 476 361" fill="none" stroke="rgb(150,150,150)" stroke-width="0.6"/>
</g>
<line x1="26.5" y1="32.0" x2="26.5" y2="129.5" stroke="#bababa" stroke-width="1"/>
<line x1="26.5" y1="129.5" x2="124.5" y2="129.5" stroke="#bababa" stroke-width="1"/>
<path d="M33.88 129.5v2 M26.5 122.16h-2 M38.19 129.5v2 M26.5 117.87h-2 M41.25 129.5v2 M26.5 114.82h-2 M43.62 129.5v2 M26.5 112.46h-2 M45.56 129.5v2 M26.5 110.53h-2 M47.20 129.5v2 M26.5 108.90h-2 M48.63 129.5v2 M26.5 107.49h-2 M49.88 129.5v2 M26.5 106.24h-2 M51.00 129.5v3 M26.5 105.12h-3 M58.38 129.5v2 M26.5 97.79h-2 M62.69 129.5v2 M26.5 93.50h-2 M65.75 129.5v2 M26.5 90.45h-2 M68.12 129.5v2 M26.5 88.09h-2 M70.06 129.5v2 M26.5 86.16h-2 M71.70 129.5v2 M26.5 84.53h-2 M73.13 129.5v2 M26.5 83.11h-2 M74.38 129.5v2 M26.5 81.87h-2 M75.50 129.5v3 M26.5 80.75h-3 M82.88 129.5v2 M26.5 73.41h-2 M87.19 129.5v2 M26.5 69.12h-2 M90.25 129.5v2 M26.5 66.07h-2 M92.62 129.5v2 M26.5 63.71h-2 M94.56 129.5v2 M26.5 61.78h-2 M96.20 129.5v2 M26.5 60.15h-2 M97.63 129.5v2 M26.5 58.74h-2 M98.88 129.5v2 M26.5 57.49h-2 M100.00 129.5v3 M26.5 56.38h-3 M107.38 129.5v2 M26.5 49.04h-2 M111.69 129.5v2 M26.5 44.75h-2 M114.75 129.5v2 M26.5 41.70h-2 M117.12 129.5v2 M26.5 39.34h-2 M119.06 129.5v2 M26.5 37.41h-2 M120.70 129.5v2 M26.5 35.78h-2 M122.13 129.5v2 M26.5 34.36h-2 M123.38 129.5v2 M26.5 33.12h-2 M124.50 129.5v3 M26.5 32.00h-3 M26.5 129.5v3 M26.5 129.5h-3" stroke="#a0a0a0" stroke-width="0.9" fill="none"/>
<text x="48.00" y="138.10" font-size="4.8" text-anchor="middle" fill="#5a5a5a">10<tspan font-size="3.2" dy="-1.6">1</tspan></text>
<text x="20.50" y="108.12" font-size="4.8" text-anchor="middle" fill="#5a5a5a" transform="rotate(-90 20.50 108.12)">10<tspan font-size="3.2" dy="-1.6">1</tspan></text>
<text x="72.50" y="138.10" font-size="4.8" text-anchor="middle" fill="#5a5a5a">10<tspan font-size="3.2" dy="-1.6">2</tspan></text>
<text x="20.50" y="83.75" font-size="4.8" text-anchor="middle" fill="#5a5a5a" transform="rotate(-90 20.50 83.75)">10<tspan font-size="3.2" dy="-1.6">2</tspan></text>
<text x="97.00" y="138.10" font-size="4.8" text-anchor="middle" fill="#5a5a5a">10<tspan font-size="3.2" dy="-1.6">3</tspan></text>
<text x="20.50" y="59.38" font-size="4.8" text-anchor="middle" fill="#5a5a5a" transform="rotate(-90 20.50 59.38)">10<tspan font-size="3.2" dy="-1.6">3</tspan></text>
<text x="121.50" y="138.10" font-size="4.8" text-anchor="middle" fill="#5a5a5a">10<tspan font-size="3.2" dy="-1.6">4</tspan></text>
<text x="20.50" y="35.00" font-size="4.8" text-anchor="middle" fill="#5a5a5a" transform="rotate(-90 20.50 35.00)">10<tspan font-size="3.2" dy="-1.6">4</tspan></text>
<line x1="55.5" y1="32.0" x2="55.5" y2="129.5" stroke="#9a9a9a" stroke-width="1"/>
<line x1="26.5" y1="102.4" x2="124.5" y2="102.4" stroke="#9a9a9a" stroke-width="1"/>
<line x1="27.6" y1="156.7" x2="27.6" y2="254.4" stroke="#bababa" stroke-width="1"/>
<line x1="27.6" y1="254.4" x2="125.0" y2="254.4" stroke="#bababa" stroke-width="1"/>
<path d="M34.93 254.4v2 M27.6 247.05h-2 M39.22 254.4v2 M27.6 242.75h-2 M42.26 254.4v2 M27.6 239.69h-2 M44.62 254.4v2 M27.6 237.33h-2 M46.55 254.4v2 M27.6 235.39h-2 M48.18 254.4v2 M27.6 233.76h-2 M49.59 254.4v2 M27.6 232.34h-2 M50.84 254.4v2 M27.6 231.09h-2 M51.95 254.4v3 M27.6 229.97h-3 M59.28 254.4v2 M27.6 222.62h-2 M63.57 254.4v2 M27.6 218.32h-2 M66.61 254.4v2 M27.6 215.27h-2 M68.97 254.4v2 M27.6 212.90h-2 M70.90 254.4v2 M27.6 210.97h-2 M72.53 254.4v2 M27.6 209.33h-2 M73.94 254.4v2 M27.6 207.92h-2 M75.19 254.4v2 M27.6 206.67h-2 M76.30 254.4v3 M27.6 205.55h-3 M83.63 254.4v2 M27.6 198.20h-2 M87.92 254.4v2 M27.6 193.90h-2 M90.96 254.4v2 M27.6 190.84h-2 M93.32 254.4v2 M27.6 188.48h-2 M95.25 254.4v2 M27.6 186.54h-2 M96.88 254.4v2 M27.6 184.91h-2 M98.29 254.4v2 M27.6 183.49h-2 M99.54 254.4v2 M27.6 182.24h-2 M100.65 254.4v3 M27.6 181.12h-3 M107.98 254.4v2 M27.6 173.77h-2 M112.27 254.4v2 M27.6 169.47h-2 M115.31 254.4v2 M27.6 166.42h-2 M117.67 254.4v2 M27.6 164.05h-2 M119.60 254.4v2 M27.6 162.12h-2 M121.23 254.4v2 M27.6 160.48h-2 M122.64 254.4v2 M27.6 159.07h-2 M123.89 254.4v2 M27.6 157.82h-2 M125.00 254.4v3 M27.6 156.70h-3 M27.6 254.4v3 M27.6 254.4h-3" stroke="#a0a0a0" stroke-width="0.9" fill="none"/>
<text x="48.95" y="263.00" font-size="4.8" text-anchor="middle" fill="#5a5a5a">10<tspan font-size="3.2" dy="-1.6">1</tspan></text>
<text x="21.60" y="232.97" font-size="4.8" text-anchor="middle" fill="#5a5a5a" transform="rotate(-90 21.60 232.97)">10<tspan font-size="3.2" dy="-1.6">1</tspan></text>
<text x="73.30" y="263.00" font-size="4.8" text-anchor="middle" fill="#5a5a5a">10<tspan font-size="3.2" dy="-1.6">2</tspan></text>
<text x="21.60" y="208.55" font-size="4.8" text-anchor="middle" fill="#5a5a5a" transform="rotate(-90 21.60 208.55)">10<tspan font-size="3.2" dy="-1.6">2</tspan></text>
<text x="97.65" y="263.00" font-size="4.8" text-anchor="middle" fill="#5a5a5a">10<tspan font-size="3.2" dy="-1.6">3</tspan></text>
<text x="21.60" y="184.12" font-size="4.8" text-anchor="middle" fill="#5a5a5a" transform="rotate(-90 21.60 184.12)">10<tspan font-size="3.2" dy="-1.6">3</tspan></text>
<text x="122.00" y="263.00" font-size="4.8" text-anchor="middle" fill="#5a5a5a">10<tspan font-size="3.2" dy="-1.6">4</tspan></text>
<text x="21.60" y="159.70" font-size="4.8" text-anchor="middle" fill="#5a5a5a" transform="rotate(-90 21.60 159.70)">10<tspan font-size="3.2" dy="-1.6">4</tspan></text>
<line x1="56.3" y1="156.7" x2="56.3" y2="254.4" stroke="#9a9a9a" stroke-width="1"/>
<line x1="27.6" y1="228.0" x2="125.0" y2="228.0" stroke="#9a9a9a" stroke-width="1"/>
<line x1="27.8" y1="283.0" x2="27.8" y2="381.0" stroke="#bababa" stroke-width="1"/>
<line x1="27.8" y1="381.0" x2="125.0" y2="381.0" stroke="#bababa" stroke-width="1"/>
<path d="M35.12 381.0v2 M27.8 373.62h-2 M39.39 381.0v2 M27.8 369.31h-2 M42.43 381.0v2 M27.8 366.25h-2 M44.78 381.0v2 M27.8 363.88h-2 M46.71 381.0v2 M27.8 361.94h-2 M48.34 381.0v2 M27.8 360.30h-2 M49.75 381.0v2 M27.8 358.87h-2 M50.99 381.0v2 M27.8 357.62h-2 M52.10 381.0v3 M27.8 356.50h-3 M59.42 381.0v2 M27.8 349.12h-2 M63.69 381.0v2 M27.8 344.81h-2 M66.73 381.0v2 M27.8 341.75h-2 M69.08 381.0v2 M27.8 339.38h-2 M71.01 381.0v2 M27.8 337.44h-2 M72.64 381.0v2 M27.8 335.80h-2 M74.05 381.0v2 M27.8 334.37h-2 M75.29 381.0v2 M27.8 333.12h-2 M76.40 381.0v3 M27.8 332.00h-3 M83.72 381.0v2 M27.8 324.62h-2 M87.99 381.0v2 M27.8 320.31h-2 M91.03 381.0v2 M27.8 317.25h-2 M93.38 381.0v2 M27.8 314.88h-2 M95.31 381.0v2 M27.8 312.94h-2 M96.94 381.0v2 M27.8 311.30h-2 M98.35 381.0v2 M27.8 309.87h-2 M99.59 381.0v2 M27.8 308.62h-2 M100.70 381.0v3 M27.8 307.50h-3 M108.02 381.0v2 M27.8 300.12h-2 M112.29 381.0v2 M27.8 295.81h-2 M115.33 381.0v2 M27.8 292.75h-2 M117.68 381.0v2 M27.8 290.38h-2 M119.61 381.0v2 M27.8 288.44h-2 M121.24 381.0v2 M27.8 286.80h-2 M122.65 381.0v2 M27.8 285.37h-2 M123.89 381.0v2 M27.8 284.12h-2 M125.00 381.0v3 M27.8 283.00h-3 M27.8 381.0v3 M27.8 381.0h-3" stroke="#a0a0a0" stroke-width="0.9" fill="none"/>
<text x="49.10" y="389.60" font-size="4.8" text-anchor="middle" fill="#5a5a5a">10<tspan font-size="3.2" dy="-1.6">1</tspan></text>
<text x="21.80" y="359.50" font-size="4.8" text-anchor="middle" fill="#5a5a5a" transform="rotate(-90 21.80 359.50)">10<tspan font-size="3.2" dy="-1.6">1</tspan></text>
<text x="73.40" y="389.60" font-size="4.8" text-anchor="middle" fill="#5a5a5a">10<tspan font-size="3.2" dy="-1.6">2</tspan></text>
<text x="21.80" y="335.00" font-size="4.8" text-anchor="middle" fill="#5a5a5a" transform="rotate(-90 21.80 335.00)">10<tspan font-size="3.2" dy="-1.6">2</tspan></text>
<text x="97.70" y="389.60" font-size="4.8" text-anchor="middle" fill="#5a5a5a">10<tspan font-size="3.2" dy="-1.6">3</tspan></text>
<text x="21.80" y="310.50" font-size="4.8" text-anchor="middle" fill="#5a5a5a" transform="rotate(-90 21.80 310.50)">10<tspan font-size="3.2" dy="-1.6">3</tspan></text>
<text x="122.00" y="389.60" font-size="4.8" text-anchor="middle" fill="#5a5a5a">10<tspan font-size="3.2" dy="-1.6">4</tspan></text>
<text x="21.80" y="286.00" font-size="4.8" text-anchor="middle" fill="#5a5a5a" transform="rotate(-90 21.80 286.00)">10<tspan font-size="3.2" dy="-1.6">4</tspan></text>
<line x1="54.5" y1="283.0" x2="54.5" y2="381.0" stroke="#9a9a9a" stroke-width="1"/>
<line x1="27.8" y1="352.5" x2="125.0" y2="352.5" stroke="#9a9a9a" stroke-width="1"/>
<line x1="160.4" y1="32.2" x2="160.4" y2="130.3" stroke="#bababa" stroke-width="1"/>
<line x1="160.4" y1="130.3" x2="258.5" y2="130.3" stroke="#bababa" stroke-width="1"/>
<path d="M167.78 130.3v2 M160.4 122.92h-2 M172.10 130.3v2 M160.4 118.60h-2 M175.17 130.3v2 M160.4 115.53h-2 M177.54 130.3v2 M160.4 113.16h-2 M179.48 130.3v2 M160.4 111.22h-2 M181.13 130.3v2 M160.4 109.57h-2 M182.55 130.3v2 M160.4 108.15h-2 M183.80 130.3v2 M160.4 106.90h-2 M184.93 130.3v3 M160.4 105.78h-3 M192.31 130.3v2 M160.4 98.39h-2 M196.63 130.3v2 M160.4 94.07h-2 M199.69 130.3v2 M160.4 91.01h-2 M202.07 130.3v2 M160.4 88.63h-2 M204.01 130.3v2 M160.4 86.69h-2 M205.65 130.3v2 M160.4 85.05h-2 M207.07 130.3v2 M160.4 83.63h-2 M208.33 130.3v2 M160.4 82.37h-2 M209.45 130.3v3 M160.4 81.25h-3 M216.83 130.3v2 M160.4 73.87h-2 M221.15 130.3v2 M160.4 69.55h-2 M224.22 130.3v2 M160.4 66.48h-2 M226.59 130.3v2 M160.4 64.11h-2 M228.53 130.3v2 M160.4 62.17h-2 M230.18 130.3v2 M160.4 60.52h-2 M231.60 130.3v2 M160.4 59.10h-2 M232.85 130.3v2 M160.4 57.85h-2 M233.97 130.3v3 M160.4 56.73h-3 M241.36 130.3v2 M160.4 49.34h-2 M245.68 130.3v2 M160.4 45.02h-2 M248.74 130.3v2 M160.4 41.96h-2 M251.12 130.3v2 M160.4 39.58h-2 M253.06 130.3v2 M160.4 37.64h-2 M254.70 130.3v2 M160.4 36.00h-2 M256.12 130.3v2 M160.4 34.58h-2 M257.38 130.3v2 M160.4 33.32h-2 M258.50 130.3v3 M160.4 32.20h-3 M160.4 130.3v3 M160.4 130.3h-3" stroke="#a0a0a0" stroke-width="0.9" fill="none"/>
<text x="181.93" y="138.90" font-size="4.8" text-anchor="middle" fill="#5a5a5a">10<tspan font-size="3.2" dy="-1.6">1</tspan></text>
<text x="154.40" y="108.78" font-size="4.8" text-anchor="middle" fill="#5a5a5a" transform="rotate(-90 154.40 108.78)">10<tspan font-size="3.2" dy="-1.6">1</tspan></text>
<text x="206.45" y="138.90" font-size="4.8" text-anchor="middle" fill="#5a5a5a">10<tspan font-size="3.2" dy="-1.6">2</tspan></text>
<text x="154.40" y="84.25" font-size="4.8" text-anchor="middle" fill="#5a5a5a" transform="rotate(-90 154.40 84.25)">10<tspan font-size="3.2" dy="-1.6">2</tspan></text>
<text x="230.97" y="138.90" font-size="4.8" text-anchor="middle" fill="#5a5a5a">10<tspan font-size="3.2" dy="-1.6">3</tspan></text>
<text x="154.40" y="59.73" font-size="4.8" text-anchor="middle" fill="#5a5a5a" transform="rotate(-90 154.40 59.73)">10<tspan font-size="3.2" dy="-1.6">3</tspan></text>
<text x="255.50" y="138.90" font-size="4.8" text-anchor="middle" fill="#5a5a5a">10<tspan font-size="3.2" dy="-1.6">4</tspan></text>
<text x="154.40" y="35.20" font-size="4.8" text-anchor="middle" fill="#5a5a5a" transform="rotate(-90 154.40 35.20)">10<tspan font-size="3.2" dy="-1.6">4</tspan></text>
<line x1="195.9" y1="32.2" x2="195.9" y2="130.3" stroke="#9a9a9a" stroke-width="1"/>
<line x1="160.4" y1="105.2" x2="258.5" y2="105.2" stroke="#9a9a9a" stroke-width="1"/>
<line x1="160.5" y1="159.6" x2="160.5" y2="256.2" stroke="#bababa" stroke-width="1"/>
<line x1="160.5" y1="256.2" x2="258.5" y2="256.2" stroke="#bababa" stroke-width="1"/>
<path d="M167.88 256.2v2 M160.5 248.93h-2 M172.19 256.2v2 M160.5 244.68h-2 M175.25 256.2v2 M160.5 241.66h-2 M177.62 256.2v2 M160.5 239.32h-2 M179.56 256.2v2 M160.5 237.41h-2 M181.20 256.2v2 M160.5 235.79h-2 M182.63 256.2v2 M160.5 234.39h-2 M183.88 256.2v2 M160.5 233.16h-2 M185.00 256.2v3 M160.5 232.05h-3 M192.38 256.2v2 M160.5 224.78h-2 M196.69 256.2v2 M160.5 220.53h-2 M199.75 256.2v2 M160.5 217.51h-2 M202.12 256.2v2 M160.5 215.17h-2 M204.06 256.2v2 M160.5 213.26h-2 M205.70 256.2v2 M160.5 211.64h-2 M207.13 256.2v2 M160.5 210.24h-2 M208.38 256.2v2 M160.5 209.01h-2 M209.50 256.2v3 M160.5 207.90h-3 M216.88 256.2v2 M160.5 200.63h-2 M221.19 256.2v2 M160.5 196.38h-2 M224.25 256.2v2 M160.5 193.36h-2 M226.62 256.2v2 M160.5 191.02h-2 M228.56 256.2v2 M160.5 189.11h-2 M230.20 256.2v2 M160.5 187.49h-2 M231.63 256.2v2 M160.5 186.09h-2 M232.88 256.2v2 M160.5 184.86h-2 M234.00 256.2v3 M160.5 183.75h-3 M241.38 256.2v2 M160.5 176.48h-2 M245.69 256.2v2 M160.5 172.23h-2 M248.75 256.2v2 M160.5 169.21h-2 M251.12 256.2v2 M160.5 166.87h-2 M253.06 256.2v2 M160.5 164.96h-2 M254.70 256.2v2 M160.5 163.34h-2 M256.13 256.2v2 M160.5 161.94h-2 M257.38 256.2v2 M160.5 160.71h-2 M258.50 256.2v3 M160.5 159.60h-3 M160.5 256.2v3 M160.5 256.2h-3" stroke="#a0a0a0" stroke-width="0.9" fill="none"/>
<text x="182.00" y="264.80" font-size="4.8" text-anchor="middle" fill="#5a5a5a">10<tspan font-size="3.2" dy="-1.6">1</tspan></text>
<text x="154.50" y="235.05" font-size="4.8" text-anchor="middle" fill="#5a5a5a" transform="rotate(-90 154.50 235.05)">10<tspan font-size="3.2" dy="-1.6">1</tspan></text>
<text x="206.50" y="264.80" font-size="4.8" text-anchor="middle" fill="#5a5a5a">10<tspan font-size="3.2" dy="-1.6">2</tspan></text>
<text x="154.50" y="210.90" font-size="4.8" text-anchor="middle" fill="#5a5a5a" transform="rotate(-90 154.50 210.90)">10<tspan font-size="3.2" dy="-1.6">2</tspan></text>
<text x="231.00" y="264.80" font-size="4.8" text-anchor="middle" fill="#5a5a5a">10<tspan font-size="3.2" dy="-1.6">3</tspan></text>
<text x="154.50" y="186.75" font-size="4.8" text-anchor="middle" fill="#5a5a5a" transform="rotate(-90 154.50 186.75)">10<tspan font-size="3.2" dy="-1.6">3</tspan></text>
<text x="255.50" y="264.80" font-size="4.8" text-anchor="middle" fill="#5a5a5a">10<tspan font-size="3.2" dy="-1.6">4</tspan></text>
<text x="154.50" y="162.60" font-size="4.8" text-anchor="middle" fill="#5a5a5a" transform="rotate(-90 154.50 162.60)">10<tspan font-size="3.2" dy="-1.6">4</tspan></text>
<line x1="195.5" y1="159.6" x2="195.5" y2="256.2" stroke="#9a9a9a" stroke-width="1"/>
<line x1="160.5" y1="225.1" x2="258.5" y2="225.1" stroke="#9a9a9a" stroke-width="1"/>
<line x1="160.4" y1="283.0" x2="160.4" y2="381.2" stroke="#bababa" stroke-width="1"/>
<line x1="160.4" y1="381.2" x2="258.5" y2="381.2" stroke="#bababa" stroke-width="1"/>
<path d="M167.78 381.2v2 M160.4 373.81h-2 M172.10 381.2v2 M160.4 369.49h-2 M175.17 381.2v2 M160.4 366.42h-2 M177.54 381.2v2 M160.4 364.04h-2 M179.48 381.2v2 M160.4 362.10h-2 M181.13 381.2v2 M160.4 360.45h-2 M182.55 381.2v2 M160.4 359.03h-2 M183.80 381.2v2 M160.4 357.77h-2 M184.93 381.2v3 M160.4 356.65h-3 M192.31 381.2v2 M160.4 349.26h-2 M196.63 381.2v2 M160.4 344.94h-2 M199.69 381.2v2 M160.4 341.87h-2 M202.07 381.2v2 M160.4 339.49h-2 M204.01 381.2v2 M160.4 337.55h-2 M205.65 381.2v2 M160.4 335.90h-2 M207.07 381.2v2 M160.4 334.48h-2 M208.33 381.2v2 M160.4 333.22h-2 M209.45 381.2v3 M160.4 332.10h-3 M216.83 381.2v2 M160.4 324.71h-2 M221.15 381.2v2 M160.4 320.39h-2 M224.22 381.2v2 M160.4 317.32h-2 M226.59 381.2v2 M160.4 314.94h-2 M228.53 381.2v2 M160.4 313.00h-2 M230.18 381.2v2 M160.4 311.35h-2 M231.60 381.2v2 M160.4 309.93h-2 M232.85 381.2v2 M160.4 308.67h-2 M233.97 381.2v3 M160.4 307.55h-3 M241.36 381.2v2 M160.4 300.16h-2 M245.68 381.2v2 M160.4 295.84h-2 M248.74 381.2v2 M160.4 292.77h-2 M251.12 381.2v2 M160.4 290.39h-2 M253.06 381.2v2 M160.4 288.45h-2 M254.70 381.2v2 M160.4 286.80h-2 M256.12 381.2v2 M160.4 285.38h-2 M257.38 381.2v2 M160.4 284.12h-2 M258.50 381.2v3 M160.4 283.00h-3 M160.4 381.2v3 M160.4 381.2h-3" stroke="#a0a0a0" stroke-width="0.9" fill="none"/>
<text x="181.93" y="389.80" font-size="4.8" text-anchor="middle" fill="#5a5a5a">10<tspan font-size="3.2" dy="-1.6">1</tspan></text>
<text x="154.40" y="359.65" font-size="4.8" text-anchor="middle" fill="#5a5a5a" transform="rotate(-90 154.40 359.65)">10<tspan font-size="3.2" dy="-1.6">1</tspan></text>
<text x="206.45" y="389.80" font-size="4.8" text-anchor="middle" fill="#5a5a5a">10<tspan font-size="3.2" dy="-1.6">2</tspan></text>
<text x="154.40" y="335.10" font-size="4.8" text-anchor="middle" fill="#5a5a5a" transform="rotate(-90 154.40 335.10)">10<tspan font-size="3.2" dy="-1.6">2</tspan></text>
<text x="230.97" y="389.80" font-size="4.8" text-anchor="middle" fill="#5a5a5a">10<tspan font-size="3.2" dy="-1.6">3</tspan></text>
<text x="154.40" y="310.55" font-size="4.8" text-anchor="middle" fill="#5a5a5a" transform="rotate(-90 154.40 310.55)">10<tspan font-size="3.2" dy="-1.6">3</tspan></text>
<text x="255.50" y="389.80" font-size="4.8" text-anchor="middle" fill="#5a5a5a">10<tspan font-size="3.2" dy="-1.6">4</tspan></text>
<text x="154.40" y="286.00" font-size="4.8" text-anchor="middle" fill="#5a5a5a" transform="rotate(-90 154.40 286.00)">10<tspan font-size="3.2" dy="-1.6">4</tspan></text>
<line x1="186.3" y1="283.0" x2="186.3" y2="381.2" stroke="#9a9a9a" stroke-width="1"/>
<line x1="160.4" y1="349.5" x2="258.5" y2="349.5" stroke="#9a9a9a" stroke-width="1"/>
<line x1="291.6" y1="34.0" x2="291.6" y2="131.7" stroke="#bababa" stroke-width="1"/>
<line x1="291.6" y1="131.7" x2="386.0" y2="131.7" stroke="#bababa" stroke-width="1"/>
<path d="M298.70 131.7v2 M291.6 124.35h-2 M302.86 131.7v2 M291.6 120.05h-2 M305.81 131.7v2 M291.6 116.99h-2 M308.10 131.7v2 M291.6 114.63h-2 M309.96 131.7v2 M291.6 112.69h-2 M311.54 131.7v2 M291.6 111.06h-2 M312.91 131.7v2 M291.6 109.64h-2 M314.12 131.7v2 M291.6 108.39h-2 M315.20 131.7v3 M291.6 107.27h-3 M322.30 131.7v2 M291.6 99.92h-2 M326.46 131.7v2 M291.6 95.62h-2 M329.41 131.7v2 M291.6 92.57h-2 M331.70 131.7v2 M291.6 90.20h-2 M333.56 131.7v2 M291.6 88.27h-2 M335.14 131.7v2 M291.6 86.63h-2 M336.51 131.7v2 M291.6 85.22h-2 M337.72 131.7v2 M291.6 83.97h-2 M338.80 131.7v3 M291.6 82.85h-3 M345.90 131.7v2 M291.6 75.50h-2 M350.06 131.7v2 M291.6 71.20h-2 M353.01 131.7v2 M291.6 68.14h-2 M355.30 131.7v2 M291.6 65.78h-2 M357.16 131.7v2 M291.6 63.84h-2 M358.74 131.7v2 M291.6 62.21h-2 M360.11 131.7v2 M291.6 60.79h-2 M361.32 131.7v2 M291.6 59.54h-2 M362.40 131.7v3 M291.6 58.42h-3 M369.50 131.7v2 M291.6 51.07h-2 M373.66 131.7v2 M291.6 46.77h-2 M376.61 131.7v2 M291.6 43.72h-2 M378.90 131.7v2 M291.6 41.35h-2 M380.76 131.7v2 M291.6 39.42h-2 M382.34 131.7v2 M291.6 37.78h-2 M383.71 131.7v2 M291.6 36.37h-2 M384.92 131.7v2 M291.6 35.12h-2 M386.00 131.7v3 M291.6 34.00h-3 M291.6 131.7v3 M291.6 131.7h-3" stroke="#a0a0a0" stroke-width="0.9" fill="none"/>
<text x="312.20" y="140.30" font-size="4.8" text-anchor="middle" fill="#5a5a5a">10<tspan font-size="3.2" dy="-1.6">1</tspan></text>
<text x="285.60" y="110.27" font-size="4.8" text-anchor="middle" fill="#5a5a5a" transform="rotate(-90 285.60 110.27)">10<tspan font-size="3.2" dy="-1.6">1</tspan></text>
<text x="335.80" y="140.30" font-size="4.8" text-anchor="middle" fill="#5a5a5a">10<tspan font-size="3.2" dy="-1.6">2</tspan></text>
<text x="285.60" y="85.85" font-size="4.8" text-anchor="middle" fill="#5a5a5a" transform="rotate(-90 285.60 85.85)">10<tspan font-size="3.2" dy="-1.6">2</tspan></text>
<text x="359.40" y="140.30" font-size="4.8" text-anchor="middle" fill="#5a5a5a">10<tspan font-size="3.2" dy="-1.6">3</tspan></text>
<text x="285.60" y="61.42" font-size="4.8" text-anchor="middle" fill="#5a5a5a" transform="rotate(-90 285.60 61.42)">10<tspan font-size="3.2" dy="-1.6">3</tspan></text>
<text x="383.00" y="140.30" font-size="4.8" text-anchor="middle" fill="#5a5a5a">10<tspan font-size="3.2" dy="-1.6">4</tspan></text>
<text x="285.60" y="37.00" font-size="4.8" text-anchor="middle" fill="#5a5a5a" transform="rotate(-90 285.60 37.00)">10<tspan font-size="3.2" dy="-1.6">4</tspan></text>
<line x1="322.2" y1="34.0" x2="322.2" y2="131.7" stroke="#9a9a9a" stroke-width="1"/>
<line x1="291.6" y1="103.9" x2="386.0" y2="103.9" stroke="#9a9a9a" stroke-width="1"/>
<line x1="291.6" y1="159.6" x2="291.6" y2="256.3" stroke="#bababa" stroke-width="1"/>
<line x1="291.6" y1="256.3" x2="386.3" y2="256.3" stroke="#bababa" stroke-width="1"/>
<path d="M298.73 256.3v2 M291.6 249.02h-2 M302.90 256.3v2 M291.6 244.77h-2 M305.85 256.3v2 M291.6 241.75h-2 M308.15 256.3v2 M291.6 239.40h-2 M310.02 256.3v2 M291.6 237.49h-2 M311.61 256.3v2 M291.6 235.87h-2 M312.98 256.3v2 M291.6 234.47h-2 M314.19 256.3v2 M291.6 233.23h-2 M315.28 256.3v3 M291.6 232.12h-3 M322.40 256.3v2 M291.6 224.85h-2 M326.57 256.3v2 M291.6 220.59h-2 M329.53 256.3v2 M291.6 217.57h-2 M331.82 256.3v2 M291.6 215.23h-2 M333.70 256.3v2 M291.6 213.31h-2 M335.28 256.3v2 M291.6 211.69h-2 M336.66 256.3v2 M291.6 210.29h-2 M337.87 256.3v2 M291.6 209.06h-2 M338.95 256.3v3 M291.6 207.95h-3 M346.08 256.3v2 M291.6 200.67h-2 M350.25 256.3v2 M291.6 196.42h-2 M353.20 256.3v2 M291.6 193.40h-2 M355.50 256.3v2 M291.6 191.05h-2 M357.37 256.3v2 M291.6 189.14h-2 M358.96 256.3v2 M291.6 187.52h-2 M360.33 256.3v2 M291.6 186.12h-2 M361.54 256.3v2 M291.6 184.88h-2 M362.62 256.3v3 M291.6 183.78h-3 M369.75 256.3v2 M291.6 176.50h-2 M373.92 256.3v2 M291.6 172.24h-2 M376.88 256.3v2 M291.6 169.22h-2 M379.17 256.3v2 M291.6 166.88h-2 M381.05 256.3v2 M291.6 164.96h-2 M382.63 256.3v2 M291.6 163.34h-2 M384.01 256.3v2 M291.6 161.94h-2 M385.22 256.3v2 M291.6 160.71h-2 M386.30 256.3v3 M291.6 159.60h-3 M291.6 256.3v3 M291.6 256.3h-3" stroke="#a0a0a0" stroke-width="0.9" fill="none"/>
<text x="312.28" y="264.90" font-size="4.8" text-anchor="middle" fill="#5a5a5a">10<tspan font-size="3.2" dy="-1.6">1</tspan></text>
<text x="285.60" y="235.12" font-size="4.8" text-anchor="middle" fill="#5a5a5a" transform="rotate(-90 285.60 235.12)">10<tspan font-size="3.2" dy="-1.6">1</tspan></text>
<text x="335.95" y="264.90" font-size="4.8" text-anchor="middle" fill="#5a5a5a">10<tspan font-size="3.2" dy="-1.6">2</tspan></text>
<text x="285.60" y="210.95" font-size="4.8" text-anchor="middle" fill="#5a5a5a" transform="rotate(-90 285.60 210.95)">10<tspan font-size="3.2" dy="-1.6">2</tspan></text>
<text x="359.62" y="264.90" font-size="4.8" text-anchor="middle" fill="#5a5a5a">10<tspan font-size="3.2" dy="-1.6">3</tspan></text>
<text x="285.60" y="186.78" font-size="4.8" text-anchor="middle" fill="#5a5a5a" transform="rotate(-90 285.60 186.78)">10<tspan font-size="3.2" dy="-1.6">3</tspan></text>
<text x="383.30" y="264.90" font-size="4.8" text-anchor="middle" fill="#5a5a5a">10<tspan font-size="3.2" dy="-1.6">4</tspan></text>
<text x="285.60" y="162.60" font-size="4.8" text-anchor="middle" fill="#5a5a5a" transform="rotate(-90 285.60 162.60)">10<tspan font-size="3.2" dy="-1.6">4</tspan></text>
<line x1="323.5" y1="159.6" x2="323.5" y2="256.3" stroke="#9a9a9a" stroke-width="1"/>
<line x1="291.6" y1="224.3" x2="386.3" y2="224.3" stroke="#9a9a9a" stroke-width="1"/>
<line x1="292.4" y1="284.8" x2="292.4" y2="382.0" stroke="#bababa" stroke-width="1"/>
<line x1="292.4" y1="382.0" x2="387.0" y2="382.0" stroke="#bababa" stroke-width="1"/>
<path d="M299.52 382.0v2 M292.4 374.68h-2 M303.68 382.0v2 M292.4 370.41h-2 M306.64 382.0v2 M292.4 367.37h-2 M308.93 382.0v2 M292.4 365.02h-2 M310.80 382.0v2 M292.4 363.09h-2 M312.39 382.0v2 M292.4 361.46h-2 M313.76 382.0v2 M292.4 360.05h-2 M314.97 382.0v2 M292.4 358.81h-2 M316.05 382.0v3 M292.4 357.70h-3 M323.17 382.0v2 M292.4 350.38h-2 M327.33 382.0v2 M292.4 346.11h-2 M330.29 382.0v2 M292.4 343.07h-2 M332.58 382.0v2 M292.4 340.72h-2 M334.45 382.0v2 M292.4 338.79h-2 M336.04 382.0v2 M292.4 337.16h-2 M337.41 382.0v2 M292.4 335.75h-2 M338.62 382.0v2 M292.4 334.51h-2 M339.70 382.0v3 M292.4 333.40h-3 M346.82 382.0v2 M292.4 326.08h-2 M350.98 382.0v2 M292.4 321.81h-2 M353.94 382.0v2 M292.4 318.77h-2 M356.23 382.0v2 M292.4 316.42h-2 M358.10 382.0v2 M292.4 314.49h-2 M359.69 382.0v2 M292.4 312.86h-2 M361.06 382.0v2 M292.4 311.45h-2 M362.27 382.0v2 M292.4 310.21h-2 M363.35 382.0v3 M292.4 309.10h-3 M370.47 382.0v2 M292.4 301.78h-2 M374.63 382.0v2 M292.4 297.51h-2 M377.59 382.0v2 M292.4 294.47h-2 M379.88 382.0v2 M292.4 292.12h-2 M381.75 382.0v2 M292.4 290.19h-2 M383.34 382.0v2 M292.4 288.56h-2 M384.71 382.0v2 M292.4 287.15h-2 M385.92 382.0v2 M292.4 285.91h-2 M387.00 382.0v3 M292.4 284.80h-3 M292.4 382.0v3 M292.4 382.0h-3" stroke="#a0a0a0" stroke-width="0.9" fill="none"/>
<text x="313.05" y="390.60" font-size="4.8" text-anchor="middle" fill="#5a5a5a">10<tspan font-size="3.2" dy="-1.6">1</tspan></text>
<text x="286.40" y="360.70" font-size="4.8" text-anchor="middle" fill="#5a5a5a" transform="rotate(-90 286.40 360.70)">10<tspan font-size="3.2" dy="-1.6">1</tspan></text>
<text x="336.70" y="390.60" font-size="4.8" text-anchor="middle" fill="#5a5a5a">10<tspan font-size="3.2" dy="-1.6">2</tspan></text>
<text x="286.40" y="336.40" font-size="4.8" text-anchor="middle" fill="#5a5a5a" transform="rotate(-90 286.40 336.40)">10<tspan font-size="3.2" dy="-1.6">2</tspan></text>
<text x="360.35" y="390.60" font-size="4.8" text-anchor="middle" fill="#5a5a5a">10<tspan font-size="3.2" dy="-1.6">3</tspan></text>
<text x="286.40" y="312.10" font-size="4.8" text-anchor="middle" fill="#5a5a5a" transform="rotate(-90 286.40 312.10)">10<tspan font-size="3.2" dy="-1.6">3</tspan></text>
<text x="384.00" y="390.60" font-size="4.8" text-anchor="middle" fill="#5a5a5a">10<tspan font-size="3.2" dy="-1.6">4</tspan></text>
<text x="286.40" y="287.80" font-size="4.8" text-anchor="middle" fill="#5a5a5a" transform="rotate(-90 286.40 287.80)">10<tspan font-size="3.2" dy="-1.6">4</tspan></text>
<line x1="319.7" y1="284.8" x2="319.7" y2="382.0" stroke="#9a9a9a" stroke-width="1"/>
<line x1="292.4" y1="349.5" x2="387.0" y2="349.5" stroke="#9a9a9a" stroke-width="1"/>
<line x1="422.3" y1="32.9" x2="422.3" y2="130.5" stroke="#bababa" stroke-width="1"/>
<line x1="422.3" y1="130.5" x2="518.0" y2="130.5" stroke="#bababa" stroke-width="1"/>
<path d="M429.50 130.5v2 M422.3 123.15h-2 M433.72 130.5v2 M422.3 118.86h-2 M436.70 130.5v2 M422.3 115.81h-2 M439.02 130.5v2 M422.3 113.45h-2 M440.92 130.5v2 M422.3 111.51h-2 M442.52 130.5v2 M422.3 109.88h-2 M443.91 130.5v2 M422.3 108.46h-2 M445.13 130.5v2 M422.3 107.22h-2 M446.23 130.5v3 M422.3 106.10h-3 M453.43 130.5v2 M422.3 98.75h-2 M457.64 130.5v2 M422.3 94.46h-2 M460.63 130.5v2 M422.3 91.41h-2 M462.95 130.5v2 M422.3 89.05h-2 M464.84 130.5v2 M422.3 87.11h-2 M466.44 130.5v2 M422.3 85.48h-2 M467.83 130.5v2 M422.3 84.06h-2 M469.06 130.5v2 M422.3 82.82h-2 M470.15 130.5v3 M422.3 81.70h-3 M477.35 130.5v2 M422.3 74.35h-2 M481.57 130.5v2 M422.3 70.06h-2 M484.55 130.5v2 M422.3 67.01h-2 M486.87 130.5v2 M422.3 64.65h-2 M488.77 130.5v2 M422.3 62.71h-2 M490.37 130.5v2 M422.3 61.08h-2 M491.76 130.5v2 M422.3 59.66h-2 M492.98 130.5v2 M422.3 58.42h-2 M494.07 130.5v3 M422.3 57.30h-3 M501.28 130.5v2 M422.3 49.95h-2 M505.49 130.5v2 M422.3 45.66h-2 M508.48 130.5v2 M422.3 42.61h-2 M510.80 130.5v2 M422.3 40.25h-2 M512.69 130.5v2 M422.3 38.31h-2 M514.29 130.5v2 M422.3 36.68h-2 M515.68 130.5v2 M422.3 35.26h-2 M516.91 130.5v2 M422.3 34.02h-2 M518.00 130.5v3 M422.3 32.90h-3 M422.3 130.5v3 M422.3 130.5h-3" stroke="#a0a0a0" stroke-width="0.9" fill="none"/>
<text x="443.23" y="139.10" font-size="4.8" text-anchor="middle" fill="#5a5a5a">10<tspan font-size="3.2" dy="-1.6">1</tspan></text>
<text x="416.30" y="109.10" font-size="4.8" text-anchor="middle" fill="#5a5a5a" transform="rotate(-90 416.30 109.10)">10<tspan font-size="3.2" dy="-1.6">1</tspan></text>
<text x="467.15" y="139.10" font-size="4.8" text-anchor="middle" fill="#5a5a5a">10<tspan font-size="3.2" dy="-1.6">2</tspan></text>
<text x="416.30" y="84.70" font-size="4.8" text-anchor="middle" fill="#5a5a5a" transform="rotate(-90 416.30 84.70)">10<tspan font-size="3.2" dy="-1.6">2</tspan></text>
<text x="491.07" y="139.10" font-size="4.8" text-anchor="middle" fill="#5a5a5a">10<tspan font-size="3.2" dy="-1.6">3</tspan></text>
<text x="416.30" y="60.30" font-size="4.8" text-anchor="middle" fill="#5a5a5a" transform="rotate(-90 416.30 60.30)">10<tspan font-size="3.2" dy="-1.6">3</tspan></text>
<text x="515.00" y="139.10" font-size="4.8" text-anchor="middle" fill="#5a5a5a">10<tspan font-size="3.2" dy="-1.6">4</tspan></text>
<text x="416.30" y="35.90" font-size="4.8" text-anchor="middle" fill="#5a5a5a" transform="rotate(-90 416.30 35.90)">10<tspan font-size="3.2" dy="-1.6">4</tspan></text>
<line x1="457.8" y1="32.9" x2="457.8" y2="130.5" stroke="#9a9a9a" stroke-width="1"/>
<line x1="422.3" y1="105.0" x2="518.0" y2="105.0" stroke="#9a9a9a" stroke-width="1"/>
<line x1="421.3" y1="160.2" x2="421.3" y2="257.2" stroke="#bababa" stroke-width="1"/>
<line x1="421.3" y1="257.2" x2="517.5" y2="257.2" stroke="#bababa" stroke-width="1"/>
<path d="M428.54 257.2v2 M421.3 249.90h-2 M432.77 257.2v2 M421.3 245.63h-2 M435.78 257.2v2 M421.3 242.60h-2 M438.11 257.2v2 M421.3 240.25h-2 M440.01 257.2v2 M421.3 238.33h-2 M441.62 257.2v2 M421.3 236.71h-2 M443.02 257.2v2 M421.3 235.30h-2 M444.25 257.2v2 M421.3 234.06h-2 M445.35 257.2v3 M421.3 232.95h-3 M452.59 257.2v2 M421.3 225.65h-2 M456.82 257.2v2 M421.3 221.38h-2 M459.83 257.2v2 M421.3 218.35h-2 M462.16 257.2v2 M421.3 216.00h-2 M464.06 257.2v2 M421.3 214.08h-2 M465.67 257.2v2 M421.3 212.46h-2 M467.07 257.2v2 M421.3 211.05h-2 M468.30 257.2v2 M421.3 209.81h-2 M469.40 257.2v3 M421.3 208.70h-3 M476.64 257.2v2 M421.3 201.40h-2 M480.87 257.2v2 M421.3 197.13h-2 M483.88 257.2v2 M421.3 194.10h-2 M486.21 257.2v2 M421.3 191.75h-2 M488.11 257.2v2 M421.3 189.83h-2 M489.72 257.2v2 M421.3 188.21h-2 M491.12 257.2v2 M421.3 186.80h-2 M492.35 257.2v2 M421.3 185.56h-2 M493.45 257.2v3 M421.3 184.45h-3 M500.69 257.2v2 M421.3 177.15h-2 M504.92 257.2v2 M421.3 172.88h-2 M507.93 257.2v2 M421.3 169.85h-2 M510.26 257.2v2 M421.3 167.50h-2 M512.16 257.2v2 M421.3 165.58h-2 M513.77 257.2v2 M421.3 163.96h-2 M515.17 257.2v2 M421.3 162.55h-2 M516.40 257.2v2 M421.3 161.31h-2 M517.50 257.2v3 M421.3 160.20h-3 M421.3 257.2v3 M421.3 257.2h-3" stroke="#a0a0a0" stroke-width="0.9" fill="none"/>
<text x="442.35" y="265.80" font-size="4.8" text-anchor="middle" fill="#5a5a5a">10<tspan font-size="3.2" dy="-1.6">1</tspan></text>
<text x="415.30" y="235.95" font-size="4.8" text-anchor="middle" fill="#5a5a5a" transform="rotate(-90 415.30 235.95)">10<tspan font-size="3.2" dy="-1.6">1</tspan></text>
<text x="466.40" y="265.80" font-size="4.8" text-anchor="middle" fill="#5a5a5a">10<tspan font-size="3.2" dy="-1.6">2</tspan></text>
<text x="415.30" y="211.70" font-size="4.8" text-anchor="middle" fill="#5a5a5a" transform="rotate(-90 415.30 211.70)">10<tspan font-size="3.2" dy="-1.6">2</tspan></text>
<text x="490.45" y="265.80" font-size="4.8" text-anchor="middle" fill="#5a5a5a">10<tspan font-size="3.2" dy="-1.6">3</tspan></text>
<text x="415.30" y="187.45" font-size="4.8" text-anchor="middle" fill="#5a5a5a" transform="rotate(-90 415.30 187.45)">10<tspan font-size="3.2" dy="-1.6">3</tspan></text>
<text x="514.50" y="265.80" font-size="4.8" text-anchor="middle" fill="#5a5a5a">10<tspan font-size="3.2" dy="-1.6">4</tspan></text>
<text x="415.30" y="163.20" font-size="4.8" text-anchor="middle" fill="#5a5a5a" transform="rotate(-90 415.30 163.20)">10<tspan font-size="3.2" dy="-1.6">4</tspan></text>
<line x1="457.8" y1="160.2" x2="457.8" y2="257.2" stroke="#9a9a9a" stroke-width="1"/>
<line x1="421.3" y1="232.5" x2="517.5" y2="232.5" stroke="#9a9a9a" stroke-width="1"/>
<line x1="422.3" y1="284.8" x2="422.3" y2="383.2" stroke="#bababa" stroke-width="1"/>
<line x1="422.3" y1="383.2" x2="518.0" y2="383.2" stroke="#bababa" stroke-width="1"/>
<path d="M429.50 383.2v2 M422.3 375.79h-2 M433.72 383.2v2 M422.3 371.46h-2 M436.70 383.2v2 M422.3 368.39h-2 M439.02 383.2v2 M422.3 366.01h-2 M440.92 383.2v2 M422.3 364.06h-2 M442.52 383.2v2 M422.3 362.41h-2 M443.91 383.2v2 M422.3 360.98h-2 M445.13 383.2v2 M422.3 359.73h-2 M446.23 383.2v3 M422.3 358.60h-3 M453.43 383.2v2 M422.3 351.19h-2 M457.64 383.2v2 M422.3 346.86h-2 M460.63 383.2v2 M422.3 343.79h-2 M462.95 383.2v2 M422.3 341.41h-2 M464.84 383.2v2 M422.3 339.46h-2 M466.44 383.2v2 M422.3 337.81h-2 M467.83 383.2v2 M422.3 336.38h-2 M469.06 383.2v2 M422.3 335.13h-2 M470.15 383.2v3 M422.3 334.00h-3 M477.35 383.2v2 M422.3 326.59h-2 M481.57 383.2v2 M422.3 322.26h-2 M484.55 383.2v2 M422.3 319.19h-2 M486.87 383.2v2 M422.3 316.81h-2 M488.77 383.2v2 M422.3 314.86h-2 M490.37 383.2v2 M422.3 313.21h-2 M491.76 383.2v2 M422.3 311.78h-2 M492.98 383.2v2 M422.3 310.53h-2 M494.07 383.2v3 M422.3 309.40h-3 M501.28 383.2v2 M422.3 301.99h-2 M505.49 383.2v2 M422.3 297.66h-2 M508.48 383.2v2 M422.3 294.59h-2 M510.80 383.2v2 M422.3 292.21h-2 M512.69 383.2v2 M422.3 290.26h-2 M514.29 383.2v2 M422.3 288.61h-2 M515.68 383.2v2 M422.3 287.18h-2 M516.91 383.2v2 M422.3 285.93h-2 M518.00 383.2v3 M422.3 284.80h-3 M422.3 383.2v3 M422.3 383.2h-3" stroke="#a0a0a0" stroke-width="0.9" fill="none"/>
<text x="443.23" y="391.80" font-size="4.8" text-anchor="middle" fill="#5a5a5a">10<tspan font-size="3.2" dy="-1.6">1</tspan></text>
<text x="416.30" y="361.60" font-size="4.8" text-anchor="middle" fill="#5a5a5a" transform="rotate(-90 416.30 361.60)">10<tspan font-size="3.2" dy="-1.6">1</tspan></text>
<text x="467.15" y="391.80" font-size="4.8" text-anchor="middle" fill="#5a5a5a">10<tspan font-size="3.2" dy="-1.6">2</tspan></text>
<text x="416.30" y="337.00" font-size="4.8" text-anchor="middle" fill="#5a5a5a" transform="rotate(-90 416.30 337.00)">10<tspan font-size="3.2" dy="-1.6">2</tspan></text>
<text x="491.07" y="391.80" font-size="4.8" text-anchor="middle" fill="#5a5a5a">10<tspan font-size="3.2" dy="-1.6">3</tspan></text>
<text x="416.30" y="312.40" font-size="4.8" text-anchor="middle" fill="#5a5a5a" transform="rotate(-90 416.30 312.40)">10<tspan font-size="3.2" dy="-1.6">3</tspan></text>
<text x="515.00" y="391.80" font-size="4.8" text-anchor="middle" fill="#5a5a5a">10<tspan font-size="3.2" dy="-1.6">4</tspan></text>
<text x="416.30" y="287.80" font-size="4.8" text-anchor="middle" fill="#5a5a5a" transform="rotate(-90 416.30 287.80)">10<tspan font-size="3.2" dy="-1.6">4</tspan></text>
<line x1="446.3" y1="284.8" x2="446.3" y2="383.2" stroke="#9a9a9a" stroke-width="1"/>
<line x1="422.3" y1="358.5" x2="518.0" y2="358.5" stroke="#9a9a9a" stroke-width="1"/>
<rect x="454.5" y="181.8" width="23.5" height="20.5" fill="none" stroke="#111" stroke-width="1.3"/>
<rect x="436" y="204.6" width="38" height="26" fill="none" stroke="#111" stroke-width="1.3"/>
<text x="0" y="0" font-size="9.8" fill="#1a1a1a" stroke="#1a1a1a" stroke-width="0.15" transform="translate(35.90 38.90) scale(0.93 1)">3</text>
<text x="0" y="0" font-size="9.8" fill="#1a1a1a" stroke="#1a1a1a" stroke-width="0.15" transform="translate(40.97 38.90) scale(0.93 1)">5</text>
<text x="0" y="0" font-size="9.8" fill="#1a1a1a" stroke="#1a1a1a" stroke-width="0.15" transform="translate(115.20 39.60) scale(0.93 1)">3</text>
<text x="0" y="0" font-size="9.8" fill="#1a1a1a" stroke="#1a1a1a" stroke-width="0.15" transform="translate(118.90 114.80) scale(0.93 1)">6</text>
<text x="0" y="0" font-size="9.8" fill="#1a1a1a" stroke="#1a1a1a" stroke-width="0.15" transform="translate(15.70 136.80) scale(0.93 1)">5</text>
<text x="0" y="0" font-size="9.8" fill="#1a1a1a" stroke="#1a1a1a" stroke-width="0.15" transform="translate(20.77 136.80) scale(0.93 1)">6</text>
<text x="0" y="0" font-size="9.8" fill="#1a1a1a" stroke="#1a1a1a" stroke-width="0.15" transform="translate(36.70 163.10) scale(0.93 1)">5</text>
<text x="0" y="0" font-size="9.8" fill="#1a1a1a" stroke="#1a1a1a" stroke-width="0.15" transform="translate(41.77 163.10) scale(0.93 1)">8</text>
<text x="0" y="0" font-size="9.8" fill="#1a1a1a" stroke="#1a1a1a" stroke-width="0.15" transform="translate(116.70 166.30) scale(0.93 1)">4</text>
<text x="0" y="0" font-size="9.8" fill="#1a1a1a" stroke="#1a1a1a" stroke-width="0.15" transform="translate(119.30 244.10) scale(0.93 1)">5</text>
<text x="0" y="0" font-size="9.8" fill="#1a1a1a" stroke="#1a1a1a" stroke-width="0.15" transform="translate(22.40 253.40) scale(0.93 1)">3</text>
<text x="0" y="0" font-size="9.8" fill="#1a1a1a" stroke="#1a1a1a" stroke-width="0.15" transform="translate(27.47 253.40) scale(0.93 1)">4</text>
<text x="0" y="0" font-size="9.8" fill="#1a1a1a" stroke="#1a1a1a" stroke-width="0.15" transform="translate(36.20 289.40) scale(0.93 1)">5</text>
<path d="M515 0V1237L197 1010V1180L530 1409H696V0Z" fill="#1a1a1a" stroke="#1a1a1a" stroke-width="31" transform="translate(41.27 289.40) scale(0.00445 -0.00479)"/>
<path d="M515 0V1237L197 1010V1180L530 1409H696V0Z" fill="#1a1a1a" stroke="#1a1a1a" stroke-width="31" transform="translate(110.80 290.80) scale(0.00445 -0.00479)"/>
<text x="0" y="0" font-size="9.8" fill="#1a1a1a" stroke="#1a1a1a" stroke-width="0.15" transform="translate(115.87 290.80) scale(0.93 1)">0</text>
<text x="0" y="0" font-size="9.8" fill="#1a1a1a" stroke="#1a1a1a" stroke-width="0.15" transform="translate(112.50 374.20) scale(0.93 1)">2</text>
<text x="0" y="0" font-size="9.8" fill="#1a1a1a" stroke="#1a1a1a" stroke-width="0.15" transform="translate(117.57 374.20) scale(0.93 1)">9</text>
<path d="M515 0V1237L197 1010V1180L530 1409H696V0Z" fill="#1a1a1a" stroke="#1a1a1a" stroke-width="31" transform="translate(27.00 380.00) scale(0.00445 -0.00479)"/>
<path d="M515 0V1237L197 1010V1180L530 1409H696V0Z" fill="#1a1a1a" stroke="#1a1a1a" stroke-width="31" transform="translate(31.67 380.00) scale(0.00445 -0.00479)"/>
<text x="0" y="0" font-size="9.8" fill="#1a1a1a" stroke="#1a1a1a" stroke-width="0.15" transform="translate(169.40 39.40) scale(0.93 1)">9</text>
<text x="0" y="0" font-size="9.8" fill="#1a1a1a" stroke="#1a1a1a" stroke-width="0.15" transform="translate(174.47 39.40) scale(0.93 1)">2</text>
<text x="0" y="0" font-size="9.8" fill="#1a1a1a" stroke="#1a1a1a" stroke-width="0.15" transform="translate(168.80 124.20) scale(0.93 1)">6</text>
<path d="M515 0V1237L197 1010V1180L530 1409H696V0Z" fill="#1a1a1a" stroke="#1a1a1a" stroke-width="31" transform="translate(174.50 167.10) scale(0.00445 -0.00479)"/>
<path d="M515 0V1237L197 1010V1180L530 1409H696V0Z" fill="#1a1a1a" stroke="#1a1a1a" stroke-width="31" transform="translate(179.17 167.10) scale(0.00445 -0.00479)"/>
<text x="0" y="0" font-size="9.8" fill="#1a1a1a" stroke="#1a1a1a" stroke-width="0.15" transform="translate(148.90 263.90) scale(0.93 1)">8</text>
<text x="0" y="0" font-size="9.8" fill="#1a1a1a" stroke="#1a1a1a" stroke-width="0.15" transform="translate(153.97 263.90) scale(0.93 1)">7</text>
<path d="M515 0V1237L197 1010V1180L530 1409H696V0Z" fill="#1a1a1a" stroke="#1a1a1a" stroke-width="31" transform="translate(250.30 290.40) scale(0.00445 -0.00479)"/>
<path d="M515 0V1237L197 1010V1180L530 1409H696V0Z" fill="#1a1a1a" stroke="#1a1a1a" stroke-width="31" transform="translate(254.97 290.40) scale(0.00445 -0.00479)"/>
<text x="0" y="0" font-size="9.8" fill="#1a1a1a" stroke="#1a1a1a" stroke-width="0.15" transform="translate(163.30 375.00) scale(0.93 1)">6</text>
<text x="0" y="0" font-size="9.8" fill="#1a1a1a" stroke="#1a1a1a" stroke-width="0.15" transform="translate(248.00 375.60) scale(0.93 1)">8</text>
<text x="0" y="0" font-size="9.8" fill="#1a1a1a" stroke="#1a1a1a" stroke-width="0.15" transform="translate(253.07 375.60) scale(0.93 1)">3</text>
<text x="0" y="0" font-size="9.8" fill="#1a1a1a" stroke="#1a1a1a" stroke-width="0.15" transform="translate(304.10 41.30) scale(0.93 1)">7</text>
<text x="0" y="0" font-size="9.8" fill="#1a1a1a" stroke="#1a1a1a" stroke-width="0.15" transform="translate(366.30 42.30) scale(0.93 1)">9</text>
<text x="0" y="0" font-size="9.8" fill="#1a1a1a" stroke="#1a1a1a" stroke-width="0.15" transform="translate(371.37 42.30) scale(0.93 1)">3</text>
<text x="0" y="0" font-size="9.8" fill="#1a1a1a" stroke="#1a1a1a" stroke-width="0.15" transform="translate(304.10 167.10) scale(0.93 1)">8</text>
<text x="0" y="0" font-size="9.8" fill="#1a1a1a" stroke="#1a1a1a" stroke-width="0.15" transform="translate(370.40 167.70) scale(0.93 1)">9</text>
<text x="0" y="0" font-size="9.8" fill="#1a1a1a" stroke="#1a1a1a" stroke-width="0.15" transform="translate(375.47 167.70) scale(0.93 1)">2</text>
<text x="0" y="0" font-size="9.8" fill="#1a1a1a" stroke="#1a1a1a" stroke-width="0.15" transform="translate(371.20 294.20) scale(0.93 1)">9</text>
<text x="0" y="0" font-size="9.8" fill="#1a1a1a" stroke="#1a1a1a" stroke-width="0.15" transform="translate(376.27 294.20) scale(0.93 1)">9</text>
<text x="0" y="0" font-size="9.8" fill="#1a1a1a" stroke="#1a1a1a" stroke-width="0.15" transform="translate(434.30 40.30) scale(0.93 1)">3</text>
<text x="0" y="0" font-size="9.8" fill="#1a1a1a" stroke="#1a1a1a" stroke-width="0.15" transform="translate(439.37 40.30) scale(0.93 1)">2</text>
<text x="0" y="0" font-size="9.8" fill="#1a1a1a" stroke="#1a1a1a" stroke-width="0.15" transform="translate(501.10 40.30) scale(0.93 1)">5</text>
<text x="0" y="0" font-size="9.8" fill="#1a1a1a" stroke="#1a1a1a" stroke-width="0.15" transform="translate(506.17 40.30) scale(0.93 1)">3</text>
<path d="M515 0V1237L197 1010V1180L530 1409H696V0Z" fill="#1a1a1a" stroke="#1a1a1a" stroke-width="31" transform="translate(422.10 129.40) scale(0.00445 -0.00479)"/>
<text x="0" y="0" font-size="9.8" fill="#1a1a1a" stroke="#1a1a1a" stroke-width="0.15" transform="translate(427.17 129.40) scale(0.93 1)">5</text>
<text x="0" y="0" font-size="9.8" fill="#1a1a1a" stroke="#1a1a1a" stroke-width="0.15" transform="translate(433.70 166.30) scale(0.93 1)">3</text>
<text x="0" y="0" font-size="9.8" fill="#1a1a1a" stroke="#1a1a1a" stroke-width="0.15" transform="translate(438.77 166.30) scale(0.93 1)">2</text>
<text x="0" y="0" font-size="9.8" fill="#1a1a1a" stroke="#1a1a1a" stroke-width="0.15" transform="translate(501.10 166.30) scale(0.93 1)">4</text>
<text x="0" y="0" font-size="9.8" fill="#1a1a1a" stroke="#1a1a1a" stroke-width="0.15" transform="translate(506.17 166.30) scale(0.93 1)">9</text>
<path d="M515 0V1237L197 1010V1180L530 1409H696V0Z" fill="#1a1a1a" stroke="#1a1a1a" stroke-width="31" transform="translate(420.90 257.90) scale(0.00445 -0.00479)"/>
<text x="0" y="0" font-size="9.8" fill="#1a1a1a" stroke="#1a1a1a" stroke-width="0.15" transform="translate(425.97 257.90) scale(0.93 1)">7</text>
<text x="0" y="0" font-size="9.8" fill="#1a1a1a" stroke="#1a1a1a" stroke-width="0.15" transform="translate(509.30 255.00) scale(0.93 1)">2</text>
<path d="M515 0V1237L197 1010V1180L530 1409H696V0Z" fill="#1a1a1a" stroke="#1a1a1a" stroke-width="31" transform="translate(482.50 194.80) scale(0.00445 -0.00479)"/>
<text x="0" y="0" font-size="9.8" fill="#1a1a1a" stroke="#1a1a1a" stroke-width="0.15" transform="translate(477.90 221.70) scale(0.93 1)">2</text>
<text x="0" y="0" font-size="9.8" fill="#1a1a1a" stroke="#1a1a1a" stroke-width="0.15" transform="translate(503.90 293.70) scale(0.93 1)">8</text>
<text x="0" y="0" font-size="9.8" fill="#1a1a1a" stroke="#1a1a1a" stroke-width="0.15" transform="translate(508.97 293.70) scale(0.93 1)">0</text>
<text x="0" y="0" font-size="9.8" fill="#1a1a1a" stroke="#1a1a1a" stroke-width="0.15" transform="translate(512.00 376.90) scale(0.93 1)">5</text>
<path d="M515 0V1237L197 1010V1180L530 1409H696V0Z" fill="#1a1a1a" stroke="#1a1a1a" stroke-width="31" transform="translate(421.70 381.60) scale(0.00445 -0.00479)"/>
<text x="0" y="0" font-size="9.8" fill="#1a1a1a" stroke="#1a1a1a" stroke-width="0.15" transform="translate(426.77 381.60) scale(0.93 1)">4</text>
<text x="45.00" y="148.80" font-size="9.4" text-anchor="start" fill="#1a1a1a" font-weight="normal" stroke="#1a1a1a" stroke-width="0.15">CD11b-FITC</text>
<text x="49.60" y="273.30" font-size="9.4" text-anchor="start" fill="#1a1a1a" font-weight="normal" stroke="#1a1a1a" stroke-width="0.15">CD11b-FITC</text>
<text x="54.40" y="399.80" font-size="9.4" text-anchor="start" fill="#1a1a1a" font-weight="normal" stroke="#1a1a1a" stroke-width="0.15">CD3-PE</text>
<text x="180.90" y="148.90" font-size="9.4" text-anchor="start" fill="#1a1a1a" font-weight="normal" stroke="#1a1a1a" stroke-width="0.15">CD11b-FITC</text>
<text x="178.20" y="274.20" font-size="9.4" text-anchor="start" fill="#1a1a1a" font-weight="normal" stroke="#1a1a1a" stroke-width="0.15">CD11b-FITC</text>
<text x="193.60" y="399.80" font-size="9.4" text-anchor="start" fill="#1a1a1a" font-weight="normal" stroke="#1a1a1a" stroke-width="0.15">CD3-PE</text>
<text x="315.40" y="150.20" font-size="9.4" text-anchor="start" fill="#1a1a1a" font-weight="normal" stroke="#1a1a1a" stroke-width="0.15">CD4-FITC</text>
<text x="313.40" y="274.80" font-size="9.4" text-anchor="start" fill="#1a1a1a" font-weight="normal" stroke="#1a1a1a" stroke-width="0.15">CD4-FITC</text>
<text x="322.10" y="400.20" font-size="9.4" text-anchor="start" fill="#1a1a1a" font-weight="normal" stroke="#1a1a1a" stroke-width="0.15">CD3-PE</text>
<text x="445.90" y="149.20" font-size="9.4" text-anchor="start" fill="#1a1a1a" font-weight="normal" stroke="#1a1a1a" stroke-width="0.15">CD4-FITC</text>
<text x="442.90" y="276.20" font-size="9.4" text-anchor="start" fill="#1a1a1a" font-weight="normal" stroke="#1a1a1a" stroke-width="0.15">CD4-FITC</text>
<text x="454.00" y="401.00" font-size="9.4" text-anchor="start" fill="#1a1a1a" font-weight="normal" stroke="#1a1a1a" stroke-width="0.15">CD3-PE</text>
<text x="13.80" y="78.60" font-size="9.0" text-anchor="middle" fill="#1a1a1a" font-weight="normal" transform="rotate(-90 13.799999999999999 78.6)" stroke="#1a1a1a" stroke-width="0.15">CD3-PE</text>
<text x="12.60" y="209.10" font-size="10.0" text-anchor="middle" fill="#1a1a1a" font-weight="normal" transform="rotate(-90 12.6 209.1)" stroke="#1a1a1a" stroke-width="0.15">B220-PerCP</text>
<text x="12.60" y="328.40" font-size="10.0" text-anchor="middle" fill="#1a1a1a" font-weight="normal" transform="rotate(-90 12.6 328.4)" stroke="#1a1a1a" stroke-width="0.15">B220-PerCP</text>
<text x="148.30" y="78.60" font-size="9.0" text-anchor="middle" fill="#1a1a1a" font-weight="normal" transform="rotate(-90 148.29999999999998 78.6)" stroke="#1a1a1a" stroke-width="0.15">CD3-PE</text>
<text x="147.60" y="205.90" font-size="10.0" text-anchor="middle" fill="#1a1a1a" font-weight="normal" transform="rotate(-90 147.6 205.9)" stroke="#1a1a1a" stroke-width="0.15">B220-PerCP</text>
<text x="147.10" y="324.70" font-size="10.0" text-anchor="middle" fill="#1a1a1a" font-weight="normal" transform="rotate(-90 147.1 324.7)" stroke="#1a1a1a" stroke-width="0.15">B220-PerCP</text>
<text x="278.60" y="83.10" font-size="9.0" text-anchor="middle" fill="#1a1a1a" font-weight="normal" transform="rotate(-90 278.59999999999997 83.1)" stroke="#1a1a1a" stroke-width="0.15">CD3-PE</text>
<text x="279.50" y="206.30" font-size="9.45" text-anchor="middle" fill="#1a1a1a" font-weight="normal" transform="rotate(-90 279.5 206.3)" stroke="#1a1a1a" stroke-width="0.15">CD8a-PerCP-Cy5.5</text>
<text x="280.80" y="329.20" font-size="9.45" text-anchor="middle" fill="#1a1a1a" font-weight="normal" transform="rotate(-90 280.8 329.2)" stroke="#1a1a1a" stroke-width="0.15">CD8a-PerCP-Cy5.5</text>
<text x="409.60" y="82.50" font-size="9.0" text-anchor="middle" fill="#1a1a1a" font-weight="normal" transform="rotate(-90 409.59999999999997 82.5)" stroke="#1a1a1a" stroke-width="0.15">CD3-PE</text>
<text x="409.50" y="208.30" font-size="9.45" text-anchor="middle" fill="#1a1a1a" font-weight="normal" transform="rotate(-90 409.5 208.3)" stroke="#1a1a1a" stroke-width="0.15">CD8a-PerCP-Cy5.5</text>
<text x="408.60" y="328.50" font-size="9.45" text-anchor="middle" fill="#1a1a1a" font-weight="normal" transform="rotate(-90 408.59999999999997 328.5)" stroke="#1a1a1a" stroke-width="0.15">CD8a-PerCP-Cy5.5</text></g></svg>
</body></html>
